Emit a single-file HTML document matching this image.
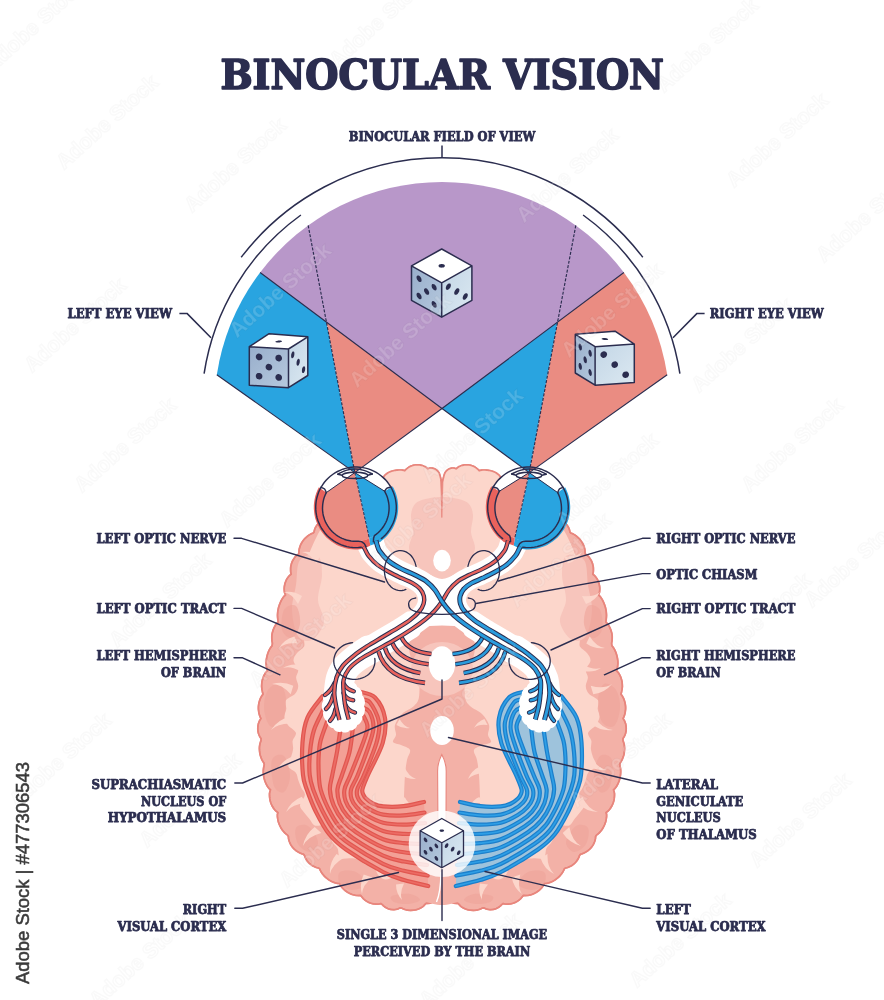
<!DOCTYPE html>
<html lang="en"><head><meta charset="utf-8"><title>Binocular Vision</title>
<style>html,body{margin:0;padding:0;background:#fff}svg{display:block;will-change:transform}</style></head>
<body>
<svg width="884" height="1000" viewBox="0 0 884 1000">
<defs>
<linearGradient id="gl" x1="0" y1="0" x2="1" y2="1"><stop offset="0" stop-color="#98aecb"/><stop offset="1" stop-color="#b6c9de"/></linearGradient>
<linearGradient id="gr" x1="0" y1="0" x2="1" y2="1"><stop offset="0" stop-color="#c3d6e6"/><stop offset="1" stop-color="#dbe8f1"/></linearGradient>
</defs>
<rect width="884" height="1000" fill="#fff"/>
<path d="M442 482 L441.7 481.4 L441.4 480.7 L441.2 480.1 L441 479.4 L440.8 478.7 L440.6 478 L440.4 477.3 L440.3 476.6 L440.1 475.9 L439.9 475.2 L439.7 474.6 L439.5 473.9 L439.2 473.3 L438.9 472.6 L438.5 472 L438.1 471.5 L437.6 470.9 L437.2 470.5 L436.6 470 L436.1 469.6 L435.5 469.2 L434.9 468.9 L434.3 468.6 L433.6 468.4 L432.9 468.2 L432.2 468.1 L431.5 468 L430.7 468 L430 468.1 L429.2 468.3 L428.4 468.6 L427.6 468.8 L427 468.1 L426.3 467.5 L425.6 467 L424.8 466.5 L424 466.2 L423.2 465.8 L422.3 465.5 L421.4 465.3 L420.5 465.1 L419.6 464.9 L418.6 464.8 L417.7 464.8 L416.7 464.8 L415.7 464.9 L414.8 465 L413.8 465.2 L412.9 465.4 L411.9 465.7 L410.9 466.1 L410 466.5 L409.1 467 L408.2 467.6 L407.3 468.3 L406.4 469 L405.6 469.8 L404.8 470.8 L403.5 470.3 L402.3 470.1 L401.2 470 L400 470 L398.9 470 L397.7 470.1 L396.6 470.2 L395.6 470.3 L394.5 470.5 L393.5 470.7 L392.5 471 L391.5 471.3 L390.5 471.6 L389.5 472.1 L388.4 472.6 L387.4 473.2 L386.3 474 L385.3 474.8 L384.3 475.9 L383.5 477.4 L381.9 477.2 L380.1 477.3 L378.4 477.5 L376.6 478 L374.8 478.6 L372.9 479.4 L371.1 480.4 L369.3 481.5 L367.6 482.9 L366 484.4 L364.5 486.2 L363.2 488.2 L361.6 489.8 L359.1 490.2 L356.9 490.9 L354.8 491.7 L352.9 492.7 L351.1 493.9 L349.5 495.2 L347.9 496.7 L346.5 498.3 L345.3 500.2 L344.1 502.2 L343.3 504.5 L341.2 505.3 L338.9 506.1 L336.9 507.1 L335.2 508.3 L333.6 509.6 L332.3 511.1 L331.1 512.6 L330.1 514.3 L329.3 515.9 L328.7 517.7 L327.9 519.2 L326.1 519.4 L324.7 519.9 L323.4 520.3 L322.3 520.9 L321.3 521.4 L320.3 522 L319.4 522.7 L318.6 523.4 L317.9 524.1 L317.1 524.9 L316.5 525.8 L315.9 526.8 L315.3 527.8 L314.8 529 L314.4 530.3 L314.1 531.9 L313.3 533 L311.9 533.5 L310.6 534.1 L309.3 534.9 L308.1 535.7 L307 536.6 L305.9 537.6 L304.8 538.6 L303.8 539.7 L302.9 540.9 L302.1 542.2 L301.3 543.5 L300.6 544.8 L300.1 546.3 L299.6 547.8 L299.2 549.3 L299 550.9 L298.9 552.6 L298.6 554.1 L297 555.1 L295.7 556.3 L294.6 557.6 L293.7 559 L292.8 560.4 L292.1 561.9 L291.5 563.5 L291.1 565.1 L290.7 566.8 L290.6 568.6 L290.6 570.4 L290.7 572.3 L291.2 574.2 L289.5 575.5 L288.3 576.9 L287.2 578.4 L286.3 580 L285.6 581.7 L285 583.4 L284.6 585.1 L284.3 587 L284.2 588.8 L284.3 590.8 L284.6 592.8 L285.5 595 L283.8 596.5 L282.6 598.2 L281.6 599.9 L280.7 601.7 L279.9 603.5 L279.2 605.4 L278.6 607.3 L278.2 609.2 L277.8 611.2 L277.6 613.3 L277.5 615.4 L277.6 617.5 L277.8 619.7 L278.2 622 L276.5 623.7 L275.2 625.6 L274.1 627.6 L273.3 629.6 L272.6 631.7 L272.1 633.8 L271.8 636 L271.8 638.3 L271.9 640.7 L272.4 643.1 L272.2 645.5 L270.7 647.5 L269.4 649.6 L268.4 651.8 L267.6 654 L267 656.2 L266.5 658.5 L266.2 660.9 L266.1 663.3 L266.3 665.7 L266.6 668.1 L267.5 670.7 L265.6 672.7 L264.3 674.9 L263.2 677.2 L262.5 679.5 L261.9 681.9 L261.7 684.3 L261.6 686.7 L261.9 689.2 L262.4 691.7 L263 694.2 L261.5 696.3 L260.4 698.4 L259.6 700.6 L259 702.7 L258.6 704.9 L258.4 706.9 L258.4 709 L258.6 711 L258.9 713 L259.4 714.9 L260.1 716.8 L260.9 718.6 L259.7 720.4 L258.9 722.3 L258.3 724.1 L258 725.9 L257.8 727.7 L257.8 729.5 L258 731.3 L258.4 733.2 L259 735 L259.9 736.9 L261.1 738.7 L261 740.6 L260.3 742.6 L259.8 744.5 L259.5 746.5 L259.4 748.4 L259.5 750.4 L259.7 752.3 L260 754.2 L260.5 756 L261.1 757.8 L261.8 759.6 L262.8 761.3 L263.9 763 L264.3 764.8 L263.8 766.7 L263.5 768.5 L263.3 770.4 L263.3 772.2 L263.4 773.9 L263.6 775.7 L263.9 777.4 L264.3 779.1 L264.8 780.7 L265.4 782.3 L266.1 783.9 L266.9 785.5 L267.9 787 L269 788.5 L270.5 789.8 L269.8 791.8 L269.5 793.6 L269.5 795.4 L269.6 797.2 L269.8 798.9 L270.1 800.6 L270.6 802.3 L271.2 803.9 L271.9 805.5 L272.8 807 L273.7 808.5 L274.9 810 L276.2 811.3 L277.9 812.5 L277.4 814.5 L277.4 816.4 L277.6 818.2 L277.9 819.9 L278.3 821.7 L278.9 823.4 L279.5 825 L280.3 826.7 L281.2 828.3 L282.1 829.8 L283.3 831.2 L284.5 832.6 L285.9 833.9 L287.5 835.1 L288.4 836.5 L288.5 838.4 L288.9 840.3 L289.5 842 L290.2 843.6 L291 845.1 L292 846.6 L293.1 847.9 L294.3 849.2 L295.6 850.3 L297 851.3 L298.5 852.2 L300 853 L301.7 853.7 L303.5 854.2 L304.5 855.6 L305.1 857.4 L306 859 L306.9 860.5 L307.9 861.8 L309 863 L310.3 864.2 L311.6 865.2 L313.1 866.1 L314.6 866.8 L316.3 867.5 L318.2 867.9 L319.6 868.7 L320.3 870.4 L321.2 872 L322.1 873.4 L323.2 874.7 L324.2 876 L325.4 877.1 L326.6 878.2 L327.9 879.2 L329.2 880.1 L330.5 880.9 L331.9 881.6 L333.4 882.2 L334.8 882.8 L336.3 883.2 L337.9 883.5 L339.7 883.5 L340.4 885.1 L341.2 886.4 L342.2 887.7 L343.2 888.8 L344.3 889.8 L345.5 890.8 L346.7 891.7 L348 892.5 L349.3 893.2 L350.7 893.9 L352.2 894.5 L353.7 894.9 L355.3 895.3 L357 895.5 L358.7 895.6 L360.5 895.4 L361.7 896.8 L362.8 898.1 L364 899.3 L365.3 900.4 L366.7 901.3 L368.1 902.1 L369.5 902.7 L371 903.3 L372.6 903.7 L374.1 904 L375.8 904.1 L377.4 904.2 L379.1 904 L381 903.6 L382.3 904.7 L383.5 905.9 L384.9 907 L386.3 907.8 L387.7 908.5 L389.2 909.1 L390.7 909.4 L392.3 909.6 L393.9 909.7 L395.4 909.5 L397 909.2 L398.5 908.7 L400.1 907.8 L401.5 908.1 L403 908.8 L404.5 909.4 L406 909.8 L407.5 910.1 L409.1 910.3 L410.6 910.4 L412.1 910.3 L413.6 910.2 L415 910 L416.4 909.7 L417.7 909.3 L419 908.8 L420.2 908.3 L421.4 907.6 L422.5 906.9 L423.5 906.1 L424.4 905.1 L425.3 904.1 L426.2 903.3 L427.6 903.4 L428.9 903.3 L430.2 903.1 L431.3 902.7 L432.4 902.2 L433.4 901.7 L434.3 901.1 L435.1 900.5 L435.9 899.8 L436.6 899.2 L437.2 898.5 L437.8 897.7 L438.3 897 L438.7 896.3 L439 895.6 L439.3 894.8 L439.6 894.1 L439.8 893.4 L440 892.7 L440.2 892 L440.5 891.3 L440.7 890.6 L441 890 L441.3 889.3 L441.6 888.6 L442 888 L442.4 888.6 L442.7 889.3 L443 890 L443.3 890.6 L443.5 891.3 L443.8 892 L444 892.7 L444.2 893.4 L444.4 894.1 L444.7 894.8 L445 895.6 L445.3 896.3 L445.7 897 L446.2 897.7 L446.8 898.5 L447.4 899.2 L448.1 899.8 L448.9 900.5 L449.7 901.1 L450.6 901.7 L451.6 902.2 L452.7 902.7 L453.8 903.1 L455.1 903.3 L456.4 903.4 L457.8 903.3 L458.7 904.1 L459.6 905.1 L460.5 906.1 L461.5 906.9 L462.6 907.6 L463.8 908.3 L465 908.8 L466.3 909.3 L467.6 909.7 L469 910 L470.4 910.2 L471.9 910.3 L473.4 910.4 L474.9 910.3 L476.5 910.1 L478 909.8 L479.5 909.4 L481 908.8 L482.5 908.1 L483.9 907.8 L485.5 908.7 L487 909.2 L488.6 909.5 L490.1 909.7 L491.7 909.6 L493.3 909.4 L494.8 909.1 L496.3 908.5 L497.7 907.8 L499.1 907 L500.5 905.9 L501.7 904.7 L503 903.6 L504.9 904 L506.6 904.2 L508.2 904.1 L509.9 904 L511.4 903.7 L513 903.3 L514.5 902.7 L515.9 902.1 L517.3 901.3 L518.7 900.4 L520 899.3 L521.2 898.1 L522.3 896.8 L523.5 895.4 L525.3 895.6 L527 895.5 L528.7 895.3 L530.3 894.9 L531.8 894.5 L533.3 893.9 L534.7 893.2 L536 892.5 L537.3 891.7 L538.5 890.8 L539.7 889.8 L540.8 888.8 L541.8 887.7 L542.8 886.4 L543.6 885.1 L544.3 883.5 L546.1 883.5 L547.7 883.2 L549.2 882.8 L550.6 882.2 L552.1 881.6 L553.5 880.9 L554.8 880.1 L556.1 879.2 L557.4 878.2 L558.6 877.1 L559.8 876 L560.8 874.7 L561.9 873.4 L562.8 872 L563.7 870.4 L564.4 868.7 L565.8 867.9 L567.7 867.5 L569.4 866.8 L570.9 866.1 L572.4 865.2 L573.7 864.2 L575 863 L576.1 861.8 L577.1 860.5 L578 859 L578.9 857.4 L579.5 855.6 L580.5 854.2 L582.3 853.7 L584 853 L585.5 852.2 L587 851.3 L588.4 850.3 L589.7 849.2 L590.9 847.9 L592 846.6 L593 845.1 L593.8 843.6 L594.5 842 L595.1 840.3 L595.5 838.4 L595.6 836.5 L596.5 835.1 L598.1 833.9 L599.5 832.6 L600.7 831.2 L601.9 829.8 L602.8 828.3 L603.7 826.7 L604.5 825 L605.1 823.4 L605.7 821.7 L606.1 819.9 L606.4 818.2 L606.6 816.4 L606.6 814.5 L606.1 812.5 L607.8 811.3 L609.1 810 L610.3 808.5 L611.2 807 L612.1 805.5 L612.8 803.9 L613.4 802.3 L613.9 800.6 L614.2 798.9 L614.4 797.2 L614.5 795.4 L614.5 793.6 L614.2 791.8 L613.5 789.8 L615 788.5 L616.1 787 L617.1 785.5 L617.9 783.9 L618.6 782.3 L619.2 780.7 L619.7 779.1 L620.1 777.4 L620.4 775.7 L620.6 773.9 L620.7 772.2 L620.7 770.4 L620.5 768.5 L620.2 766.7 L619.7 764.8 L620.1 763 L621.2 761.3 L622.2 759.6 L622.9 757.8 L623.5 756 L624 754.2 L624.3 752.3 L624.5 750.4 L624.6 748.4 L624.5 746.5 L624.2 744.5 L623.7 742.6 L623 740.6 L622.9 738.7 L624.1 736.9 L625 735 L625.6 733.2 L626 731.3 L626.2 729.5 L626.2 727.7 L626 725.9 L625.7 724.1 L625.1 722.3 L624.3 720.4 L623.1 718.6 L623.9 716.8 L624.6 714.9 L625.1 713 L625.4 711 L625.6 709 L625.6 706.9 L625.4 704.9 L625 702.7 L624.4 700.6 L623.6 698.4 L622.5 696.3 L621 694.2 L621.6 691.7 L622.1 689.2 L622.4 686.7 L622.3 684.3 L622.1 681.9 L621.5 679.5 L620.8 677.2 L619.7 674.9 L618.4 672.7 L616.5 670.7 L617.4 668.1 L617.7 665.7 L617.9 663.3 L617.8 660.9 L617.5 658.5 L617 656.2 L616.4 654 L615.6 651.8 L614.6 649.6 L613.3 647.5 L611.8 645.5 L611.6 643.1 L612.1 640.7 L612.2 638.3 L612.2 636 L611.9 633.8 L611.4 631.7 L610.7 629.6 L609.9 627.6 L608.8 625.6 L607.5 623.7 L605.8 622 L606.2 619.7 L606.4 617.5 L606.5 615.4 L606.4 613.3 L606.2 611.2 L605.8 609.2 L605.4 607.3 L604.8 605.4 L604.1 603.5 L603.3 601.7 L602.4 599.9 L601.4 598.2 L600.2 596.5 L598.5 595 L599.4 592.8 L599.7 590.8 L599.8 588.8 L599.7 587 L599.4 585.1 L599 583.4 L598.4 581.7 L597.7 580 L596.8 578.4 L595.7 576.9 L594.5 575.5 L592.8 574.2 L593.3 572.3 L593.4 570.4 L593.4 568.6 L593.3 566.8 L592.9 565.1 L592.5 563.5 L591.9 561.9 L591.2 560.4 L590.3 559 L589.4 557.6 L588.3 556.3 L587 555.1 L585.4 554.1 L585.1 552.6 L585 550.9 L584.8 549.3 L584.4 547.8 L583.9 546.3 L583.4 544.8 L582.7 543.5 L581.9 542.2 L581.1 540.9 L580.2 539.7 L579.2 538.6 L578.1 537.6 L577 536.6 L575.9 535.7 L574.7 534.9 L573.4 534.1 L572.1 533.5 L570.7 533 L569.9 531.9 L569.6 530.3 L569.2 529 L568.7 527.8 L568.1 526.8 L567.5 525.8 L566.9 524.9 L566.1 524.1 L565.4 523.4 L564.6 522.7 L563.7 522 L562.7 521.4 L561.7 520.9 L560.6 520.3 L559.3 519.9 L557.9 519.4 L556.1 519.2 L555.3 517.7 L554.7 515.9 L553.9 514.3 L552.9 512.6 L551.7 511.1 L550.4 509.6 L548.8 508.3 L547.1 507.1 L545.1 506.1 L542.8 505.3 L540.7 504.5 L539.9 502.2 L538.7 500.2 L537.5 498.3 L536.1 496.7 L534.5 495.2 L532.9 493.9 L531.1 492.7 L529.2 491.7 L527.1 490.9 L524.9 490.2 L522.4 489.8 L520.8 488.2 L519.5 486.2 L518 484.4 L516.4 482.9 L514.7 481.5 L512.9 480.4 L511.1 479.4 L509.2 478.6 L507.4 478 L505.6 477.5 L503.9 477.3 L502.1 477.2 L500.5 477.4 L499.7 475.9 L498.7 474.8 L497.7 474 L496.6 473.2 L495.6 472.6 L494.5 472.1 L493.5 471.6 L492.5 471.3 L491.5 471 L490.5 470.7 L489.5 470.5 L488.4 470.3 L487.4 470.2 L486.3 470.1 L485.1 470 L484 470 L482.8 470 L481.7 470.1 L480.5 470.3 L479.2 470.8 L478.4 469.8 L477.6 469 L476.7 468.3 L475.8 467.6 L474.9 467 L474 466.5 L473.1 466.1 L472.1 465.7 L471.1 465.4 L470.2 465.2 L469.2 465 L468.3 464.9 L467.3 464.8 L466.3 464.8 L465.4 464.8 L464.4 464.9 L463.5 465.1 L462.6 465.3 L461.7 465.5 L460.8 465.8 L460 466.2 L459.2 466.5 L458.4 467 L457.7 467.5 L457 468.1 L456.4 468.8 L455.6 468.6 L454.8 468.3 L454 468.1 L453.3 468 L452.5 468 L451.8 468.1 L451.1 468.2 L450.4 468.4 L449.7 468.6 L449.1 468.9 L448.5 469.2 L447.9 469.6 L447.4 470 L446.8 470.5 L446.4 470.9 L445.9 471.5 L445.5 472 L445.1 472.6 L444.8 473.3 L444.5 473.9 L444.3 474.6 L444.1 475.2 L443.9 475.9 L443.7 476.6 L443.6 477.3 L443.4 478 L443.2 478.7 L443 479.4 L442.8 480.1 L442.6 480.7 L442.3 481.4Z" fill="#f3b1a7" stroke="#e8867d" stroke-width="1.5" stroke-linejoin="round"/>
<clipPath id="bc"><path d="M442 482 L441.7 481.4 L441.4 480.7 L441.2 480.1 L441 479.4 L440.8 478.7 L440.6 478 L440.4 477.3 L440.3 476.6 L440.1 475.9 L439.9 475.2 L439.7 474.6 L439.5 473.9 L439.2 473.3 L438.9 472.6 L438.5 472 L438.1 471.5 L437.6 470.9 L437.2 470.5 L436.6 470 L436.1 469.6 L435.5 469.2 L434.9 468.9 L434.3 468.6 L433.6 468.4 L432.9 468.2 L432.2 468.1 L431.5 468 L430.7 468 L430 468.1 L429.2 468.3 L428.4 468.6 L427.6 468.8 L427 468.1 L426.3 467.5 L425.6 467 L424.8 466.5 L424 466.2 L423.2 465.8 L422.3 465.5 L421.4 465.3 L420.5 465.1 L419.6 464.9 L418.6 464.8 L417.7 464.8 L416.7 464.8 L415.7 464.9 L414.8 465 L413.8 465.2 L412.9 465.4 L411.9 465.7 L410.9 466.1 L410 466.5 L409.1 467 L408.2 467.6 L407.3 468.3 L406.4 469 L405.6 469.8 L404.8 470.8 L403.5 470.3 L402.3 470.1 L401.2 470 L400 470 L398.9 470 L397.7 470.1 L396.6 470.2 L395.6 470.3 L394.5 470.5 L393.5 470.7 L392.5 471 L391.5 471.3 L390.5 471.6 L389.5 472.1 L388.4 472.6 L387.4 473.2 L386.3 474 L385.3 474.8 L384.3 475.9 L383.5 477.4 L381.9 477.2 L380.1 477.3 L378.4 477.5 L376.6 478 L374.8 478.6 L372.9 479.4 L371.1 480.4 L369.3 481.5 L367.6 482.9 L366 484.4 L364.5 486.2 L363.2 488.2 L361.6 489.8 L359.1 490.2 L356.9 490.9 L354.8 491.7 L352.9 492.7 L351.1 493.9 L349.5 495.2 L347.9 496.7 L346.5 498.3 L345.3 500.2 L344.1 502.2 L343.3 504.5 L341.2 505.3 L338.9 506.1 L336.9 507.1 L335.2 508.3 L333.6 509.6 L332.3 511.1 L331.1 512.6 L330.1 514.3 L329.3 515.9 L328.7 517.7 L327.9 519.2 L326.1 519.4 L324.7 519.9 L323.4 520.3 L322.3 520.9 L321.3 521.4 L320.3 522 L319.4 522.7 L318.6 523.4 L317.9 524.1 L317.1 524.9 L316.5 525.8 L315.9 526.8 L315.3 527.8 L314.8 529 L314.4 530.3 L314.1 531.9 L313.3 533 L311.9 533.5 L310.6 534.1 L309.3 534.9 L308.1 535.7 L307 536.6 L305.9 537.6 L304.8 538.6 L303.8 539.7 L302.9 540.9 L302.1 542.2 L301.3 543.5 L300.6 544.8 L300.1 546.3 L299.6 547.8 L299.2 549.3 L299 550.9 L298.9 552.6 L298.6 554.1 L297 555.1 L295.7 556.3 L294.6 557.6 L293.7 559 L292.8 560.4 L292.1 561.9 L291.5 563.5 L291.1 565.1 L290.7 566.8 L290.6 568.6 L290.6 570.4 L290.7 572.3 L291.2 574.2 L289.5 575.5 L288.3 576.9 L287.2 578.4 L286.3 580 L285.6 581.7 L285 583.4 L284.6 585.1 L284.3 587 L284.2 588.8 L284.3 590.8 L284.6 592.8 L285.5 595 L283.8 596.5 L282.6 598.2 L281.6 599.9 L280.7 601.7 L279.9 603.5 L279.2 605.4 L278.6 607.3 L278.2 609.2 L277.8 611.2 L277.6 613.3 L277.5 615.4 L277.6 617.5 L277.8 619.7 L278.2 622 L276.5 623.7 L275.2 625.6 L274.1 627.6 L273.3 629.6 L272.6 631.7 L272.1 633.8 L271.8 636 L271.8 638.3 L271.9 640.7 L272.4 643.1 L272.2 645.5 L270.7 647.5 L269.4 649.6 L268.4 651.8 L267.6 654 L267 656.2 L266.5 658.5 L266.2 660.9 L266.1 663.3 L266.3 665.7 L266.6 668.1 L267.5 670.7 L265.6 672.7 L264.3 674.9 L263.2 677.2 L262.5 679.5 L261.9 681.9 L261.7 684.3 L261.6 686.7 L261.9 689.2 L262.4 691.7 L263 694.2 L261.5 696.3 L260.4 698.4 L259.6 700.6 L259 702.7 L258.6 704.9 L258.4 706.9 L258.4 709 L258.6 711 L258.9 713 L259.4 714.9 L260.1 716.8 L260.9 718.6 L259.7 720.4 L258.9 722.3 L258.3 724.1 L258 725.9 L257.8 727.7 L257.8 729.5 L258 731.3 L258.4 733.2 L259 735 L259.9 736.9 L261.1 738.7 L261 740.6 L260.3 742.6 L259.8 744.5 L259.5 746.5 L259.4 748.4 L259.5 750.4 L259.7 752.3 L260 754.2 L260.5 756 L261.1 757.8 L261.8 759.6 L262.8 761.3 L263.9 763 L264.3 764.8 L263.8 766.7 L263.5 768.5 L263.3 770.4 L263.3 772.2 L263.4 773.9 L263.6 775.7 L263.9 777.4 L264.3 779.1 L264.8 780.7 L265.4 782.3 L266.1 783.9 L266.9 785.5 L267.9 787 L269 788.5 L270.5 789.8 L269.8 791.8 L269.5 793.6 L269.5 795.4 L269.6 797.2 L269.8 798.9 L270.1 800.6 L270.6 802.3 L271.2 803.9 L271.9 805.5 L272.8 807 L273.7 808.5 L274.9 810 L276.2 811.3 L277.9 812.5 L277.4 814.5 L277.4 816.4 L277.6 818.2 L277.9 819.9 L278.3 821.7 L278.9 823.4 L279.5 825 L280.3 826.7 L281.2 828.3 L282.1 829.8 L283.3 831.2 L284.5 832.6 L285.9 833.9 L287.5 835.1 L288.4 836.5 L288.5 838.4 L288.9 840.3 L289.5 842 L290.2 843.6 L291 845.1 L292 846.6 L293.1 847.9 L294.3 849.2 L295.6 850.3 L297 851.3 L298.5 852.2 L300 853 L301.7 853.7 L303.5 854.2 L304.5 855.6 L305.1 857.4 L306 859 L306.9 860.5 L307.9 861.8 L309 863 L310.3 864.2 L311.6 865.2 L313.1 866.1 L314.6 866.8 L316.3 867.5 L318.2 867.9 L319.6 868.7 L320.3 870.4 L321.2 872 L322.1 873.4 L323.2 874.7 L324.2 876 L325.4 877.1 L326.6 878.2 L327.9 879.2 L329.2 880.1 L330.5 880.9 L331.9 881.6 L333.4 882.2 L334.8 882.8 L336.3 883.2 L337.9 883.5 L339.7 883.5 L340.4 885.1 L341.2 886.4 L342.2 887.7 L343.2 888.8 L344.3 889.8 L345.5 890.8 L346.7 891.7 L348 892.5 L349.3 893.2 L350.7 893.9 L352.2 894.5 L353.7 894.9 L355.3 895.3 L357 895.5 L358.7 895.6 L360.5 895.4 L361.7 896.8 L362.8 898.1 L364 899.3 L365.3 900.4 L366.7 901.3 L368.1 902.1 L369.5 902.7 L371 903.3 L372.6 903.7 L374.1 904 L375.8 904.1 L377.4 904.2 L379.1 904 L381 903.6 L382.3 904.7 L383.5 905.9 L384.9 907 L386.3 907.8 L387.7 908.5 L389.2 909.1 L390.7 909.4 L392.3 909.6 L393.9 909.7 L395.4 909.5 L397 909.2 L398.5 908.7 L400.1 907.8 L401.5 908.1 L403 908.8 L404.5 909.4 L406 909.8 L407.5 910.1 L409.1 910.3 L410.6 910.4 L412.1 910.3 L413.6 910.2 L415 910 L416.4 909.7 L417.7 909.3 L419 908.8 L420.2 908.3 L421.4 907.6 L422.5 906.9 L423.5 906.1 L424.4 905.1 L425.3 904.1 L426.2 903.3 L427.6 903.4 L428.9 903.3 L430.2 903.1 L431.3 902.7 L432.4 902.2 L433.4 901.7 L434.3 901.1 L435.1 900.5 L435.9 899.8 L436.6 899.2 L437.2 898.5 L437.8 897.7 L438.3 897 L438.7 896.3 L439 895.6 L439.3 894.8 L439.6 894.1 L439.8 893.4 L440 892.7 L440.2 892 L440.5 891.3 L440.7 890.6 L441 890 L441.3 889.3 L441.6 888.6 L442 888 L442.4 888.6 L442.7 889.3 L443 890 L443.3 890.6 L443.5 891.3 L443.8 892 L444 892.7 L444.2 893.4 L444.4 894.1 L444.7 894.8 L445 895.6 L445.3 896.3 L445.7 897 L446.2 897.7 L446.8 898.5 L447.4 899.2 L448.1 899.8 L448.9 900.5 L449.7 901.1 L450.6 901.7 L451.6 902.2 L452.7 902.7 L453.8 903.1 L455.1 903.3 L456.4 903.4 L457.8 903.3 L458.7 904.1 L459.6 905.1 L460.5 906.1 L461.5 906.9 L462.6 907.6 L463.8 908.3 L465 908.8 L466.3 909.3 L467.6 909.7 L469 910 L470.4 910.2 L471.9 910.3 L473.4 910.4 L474.9 910.3 L476.5 910.1 L478 909.8 L479.5 909.4 L481 908.8 L482.5 908.1 L483.9 907.8 L485.5 908.7 L487 909.2 L488.6 909.5 L490.1 909.7 L491.7 909.6 L493.3 909.4 L494.8 909.1 L496.3 908.5 L497.7 907.8 L499.1 907 L500.5 905.9 L501.7 904.7 L503 903.6 L504.9 904 L506.6 904.2 L508.2 904.1 L509.9 904 L511.4 903.7 L513 903.3 L514.5 902.7 L515.9 902.1 L517.3 901.3 L518.7 900.4 L520 899.3 L521.2 898.1 L522.3 896.8 L523.5 895.4 L525.3 895.6 L527 895.5 L528.7 895.3 L530.3 894.9 L531.8 894.5 L533.3 893.9 L534.7 893.2 L536 892.5 L537.3 891.7 L538.5 890.8 L539.7 889.8 L540.8 888.8 L541.8 887.7 L542.8 886.4 L543.6 885.1 L544.3 883.5 L546.1 883.5 L547.7 883.2 L549.2 882.8 L550.6 882.2 L552.1 881.6 L553.5 880.9 L554.8 880.1 L556.1 879.2 L557.4 878.2 L558.6 877.1 L559.8 876 L560.8 874.7 L561.9 873.4 L562.8 872 L563.7 870.4 L564.4 868.7 L565.8 867.9 L567.7 867.5 L569.4 866.8 L570.9 866.1 L572.4 865.2 L573.7 864.2 L575 863 L576.1 861.8 L577.1 860.5 L578 859 L578.9 857.4 L579.5 855.6 L580.5 854.2 L582.3 853.7 L584 853 L585.5 852.2 L587 851.3 L588.4 850.3 L589.7 849.2 L590.9 847.9 L592 846.6 L593 845.1 L593.8 843.6 L594.5 842 L595.1 840.3 L595.5 838.4 L595.6 836.5 L596.5 835.1 L598.1 833.9 L599.5 832.6 L600.7 831.2 L601.9 829.8 L602.8 828.3 L603.7 826.7 L604.5 825 L605.1 823.4 L605.7 821.7 L606.1 819.9 L606.4 818.2 L606.6 816.4 L606.6 814.5 L606.1 812.5 L607.8 811.3 L609.1 810 L610.3 808.5 L611.2 807 L612.1 805.5 L612.8 803.9 L613.4 802.3 L613.9 800.6 L614.2 798.9 L614.4 797.2 L614.5 795.4 L614.5 793.6 L614.2 791.8 L613.5 789.8 L615 788.5 L616.1 787 L617.1 785.5 L617.9 783.9 L618.6 782.3 L619.2 780.7 L619.7 779.1 L620.1 777.4 L620.4 775.7 L620.6 773.9 L620.7 772.2 L620.7 770.4 L620.5 768.5 L620.2 766.7 L619.7 764.8 L620.1 763 L621.2 761.3 L622.2 759.6 L622.9 757.8 L623.5 756 L624 754.2 L624.3 752.3 L624.5 750.4 L624.6 748.4 L624.5 746.5 L624.2 744.5 L623.7 742.6 L623 740.6 L622.9 738.7 L624.1 736.9 L625 735 L625.6 733.2 L626 731.3 L626.2 729.5 L626.2 727.7 L626 725.9 L625.7 724.1 L625.1 722.3 L624.3 720.4 L623.1 718.6 L623.9 716.8 L624.6 714.9 L625.1 713 L625.4 711 L625.6 709 L625.6 706.9 L625.4 704.9 L625 702.7 L624.4 700.6 L623.6 698.4 L622.5 696.3 L621 694.2 L621.6 691.7 L622.1 689.2 L622.4 686.7 L622.3 684.3 L622.1 681.9 L621.5 679.5 L620.8 677.2 L619.7 674.9 L618.4 672.7 L616.5 670.7 L617.4 668.1 L617.7 665.7 L617.9 663.3 L617.8 660.9 L617.5 658.5 L617 656.2 L616.4 654 L615.6 651.8 L614.6 649.6 L613.3 647.5 L611.8 645.5 L611.6 643.1 L612.1 640.7 L612.2 638.3 L612.2 636 L611.9 633.8 L611.4 631.7 L610.7 629.6 L609.9 627.6 L608.8 625.6 L607.5 623.7 L605.8 622 L606.2 619.7 L606.4 617.5 L606.5 615.4 L606.4 613.3 L606.2 611.2 L605.8 609.2 L605.4 607.3 L604.8 605.4 L604.1 603.5 L603.3 601.7 L602.4 599.9 L601.4 598.2 L600.2 596.5 L598.5 595 L599.4 592.8 L599.7 590.8 L599.8 588.8 L599.7 587 L599.4 585.1 L599 583.4 L598.4 581.7 L597.7 580 L596.8 578.4 L595.7 576.9 L594.5 575.5 L592.8 574.2 L593.3 572.3 L593.4 570.4 L593.4 568.6 L593.3 566.8 L592.9 565.1 L592.5 563.5 L591.9 561.9 L591.2 560.4 L590.3 559 L589.4 557.6 L588.3 556.3 L587 555.1 L585.4 554.1 L585.1 552.6 L585 550.9 L584.8 549.3 L584.4 547.8 L583.9 546.3 L583.4 544.8 L582.7 543.5 L581.9 542.2 L581.1 540.9 L580.2 539.7 L579.2 538.6 L578.1 537.6 L577 536.6 L575.9 535.7 L574.7 534.9 L573.4 534.1 L572.1 533.5 L570.7 533 L569.9 531.9 L569.6 530.3 L569.2 529 L568.7 527.8 L568.1 526.8 L567.5 525.8 L566.9 524.9 L566.1 524.1 L565.4 523.4 L564.6 522.7 L563.7 522 L562.7 521.4 L561.7 520.9 L560.6 520.3 L559.3 519.9 L557.9 519.4 L556.1 519.2 L555.3 517.7 L554.7 515.9 L553.9 514.3 L552.9 512.6 L551.7 511.1 L550.4 509.6 L548.8 508.3 L547.1 507.1 L545.1 506.1 L542.8 505.3 L540.7 504.5 L539.9 502.2 L538.7 500.2 L537.5 498.3 L536.1 496.7 L534.5 495.2 L532.9 493.9 L531.1 492.7 L529.2 491.7 L527.1 490.9 L524.9 490.2 L522.4 489.8 L520.8 488.2 L519.5 486.2 L518 484.4 L516.4 482.9 L514.7 481.5 L512.9 480.4 L511.1 479.4 L509.2 478.6 L507.4 478 L505.6 477.5 L503.9 477.3 L502.1 477.2 L500.5 477.4 L499.7 475.9 L498.7 474.8 L497.7 474 L496.6 473.2 L495.6 472.6 L494.5 472.1 L493.5 471.6 L492.5 471.3 L491.5 471 L490.5 470.7 L489.5 470.5 L488.4 470.3 L487.4 470.2 L486.3 470.1 L485.1 470 L484 470 L482.8 470 L481.7 470.1 L480.5 470.3 L479.2 470.8 L478.4 469.8 L477.6 469 L476.7 468.3 L475.8 467.6 L474.9 467 L474 466.5 L473.1 466.1 L472.1 465.7 L471.1 465.4 L470.2 465.2 L469.2 465 L468.3 464.9 L467.3 464.8 L466.3 464.8 L465.4 464.8 L464.4 464.9 L463.5 465.1 L462.6 465.3 L461.7 465.5 L460.8 465.8 L460 466.2 L459.2 466.5 L458.4 467 L457.7 467.5 L457 468.1 L456.4 468.8 L455.6 468.6 L454.8 468.3 L454 468.1 L453.3 468 L452.5 468 L451.8 468.1 L451.1 468.2 L450.4 468.4 L449.7 468.6 L449.1 468.9 L448.5 469.2 L447.9 469.6 L447.4 470 L446.8 470.5 L446.4 470.9 L445.9 471.5 L445.5 472 L445.1 472.6 L444.8 473.3 L444.5 473.9 L444.3 474.6 L444.1 475.2 L443.9 475.9 L443.7 476.6 L443.6 477.3 L443.4 478 L443.2 478.7 L443 479.4 L442.8 480.1 L442.6 480.7 L442.3 481.4Z"/></clipPath>
<path d="M442 509.8C439.3 509.8 436.7 512.9 433.9 513.2C431 513.6 426.9 513.6 424.8 511.8C422.7 510.1 422.8 506.5 421 502.9C419.2 499.3 416.3 491.7 414 490.4C411.7 489.2 409.5 494.1 407.1 495.5C404.8 496.9 402.3 497.4 399.9 498.9C397.6 500.4 394.9 501.8 393.2 504.4C391.5 507 392.1 512.7 389.9 514.3C387.8 515.9 383.3 513.7 380.5 514.1C377.6 514.5 375.1 515.8 372.6 516.9C370.1 518 368.1 519.7 365.4 520.8C362.8 521.9 358.3 521.2 356.8 523.5C355.2 525.7 356.9 531.4 356 534.2C355 537.1 352.9 538.9 350.9 540.6C348.8 542.4 345.8 543.1 343.7 544.8C341.7 546.4 341.2 549.5 338.5 550.6C335.8 551.8 329.9 550.2 327.4 551.6C324.8 553.1 323.8 556.6 323.2 559.5C322.6 562.4 324 566.1 323.7 569C323.4 571.9 321.2 573.8 321.3 576.7C321.5 579.5 325.2 583.5 324.7 586.1C324.3 588.8 320.8 590.4 318.5 592.4C316.1 594.5 312.2 596.3 310.6 598.6C309 600.9 310.2 604 309 606.5C307.7 608.9 303.5 610.6 303.1 613.3C302.8 616 305.7 619.5 306.7 622.5C307.8 625.5 309.8 628.7 309.4 631.4C309 634 305.2 635.9 304.3 638.4C303.4 641 305.3 644.1 304.1 646.6C302.8 649.1 298.6 650.8 296.8 653.2C295.1 655.5 293.3 657.9 293.5 660.7C293.8 663.5 297.8 667.1 298.2 669.9C298.6 672.7 296.1 674.9 296.1 677.6C296.1 680.4 298.4 683.5 298.2 686.2C298.1 688.9 297.2 691.3 295.1 693.7C293 696.1 287.2 698 285.7 700.5C284.3 703 286.5 706.1 286.3 708.8C286.1 711.6 284.2 714.3 284.5 717C284.8 719.7 286.2 722.5 288.1 725.2C290 727.8 295.2 730.2 295.9 732.8C296.7 735.4 293.1 738.2 292.6 740.9C292.2 743.6 293.4 746.1 293.1 748.8C292.9 751.6 291.9 754.4 291 757.3C290.1 760.1 286.9 763.5 287.7 766.1C288.5 768.7 294.1 770.3 295.8 772.7C297.6 775.1 297.4 777.8 298.3 780.3C299.2 782.8 300.2 785.3 301.3 787.7C302.4 790.2 305.1 791.9 304.9 794.9C304.7 797.8 300.1 802.5 300 805.4C299.9 808.3 302.5 810.2 304.1 812.5C305.7 814.8 307.7 816.8 309.5 819C311.3 821.1 312 824.3 314.7 825.4C317.3 826.5 323.1 824.3 325.5 825.6C327.9 826.9 328 830.7 329.1 833.5C330.2 836.2 330.9 839.5 332.3 841.9C333.7 844.4 336.2 845.5 337.5 848.2C338.8 850.8 338 856.2 340.1 857.9C342.2 859.6 347 858 350.1 858.3C353.2 858.6 356.4 858.5 358.9 859.5C361.4 860.6 362.7 863.5 365.1 864.5C367.6 865.5 371.3 863.8 373.4 865.6C375.6 867.3 376.1 872.6 378.1 874.9C380 877.2 382.4 879 385.1 879.4C387.8 879.8 391.4 877.5 394.2 877.5C397 877.6 399.6 880.3 402 879.6C404.5 878.9 407.3 874.7 408.9 873.4C410.6 872.1 409.6 872.6 411.8 871.9C414 871.3 419.5 870.8 422.1 869.6C424.8 868.3 425.4 865.3 427.6 864.6C429.7 863.9 432.9 866.1 435.2 865.4C437.5 864.7 440.3 861.3 441.5 860.5C442.7 859.7 441.3 859.7 442.5 860.5C443.7 861.3 446.5 864.7 448.8 865.4C451.1 866.1 454.3 863.9 456.4 864.6C458.6 865.3 459.2 868.3 461.9 869.6C464.5 870.8 470 871.3 472.2 871.9C474.4 872.6 473.4 872.1 475.1 873.4C476.7 874.7 479.5 878.9 482 879.6C484.4 880.3 487 877.6 489.8 877.5C492.6 877.5 496.2 879.8 498.9 879.4C501.6 879 504 877.2 505.9 874.9C507.9 872.6 508.4 867.3 510.6 865.6C512.7 863.8 516.4 865.5 518.9 864.5C521.3 863.5 522.6 860.6 525.1 859.5C527.6 858.5 530.8 858.6 533.9 858.3C537 858 541.8 859.6 543.9 857.9C546 856.2 545.2 850.8 546.5 848.2C547.8 845.5 550.3 844.4 551.7 841.9C553.1 839.5 553.8 836.2 554.9 833.5C556 830.7 556.1 826.9 558.5 825.6C560.9 824.3 566.7 826.5 569.3 825.4C572 824.3 572.7 821.1 574.5 819C576.3 816.8 578.3 814.8 579.9 812.5C581.5 810.2 584.1 808.3 584 805.4C583.9 802.5 579.3 797.8 579.1 794.9C578.9 791.9 581.6 790.2 582.7 787.7C583.8 785.3 584.8 782.8 585.7 780.3C586.6 777.8 586.4 775.1 588.2 772.7C589.9 770.3 595.5 768.7 596.3 766.1C597.1 763.5 593.9 760.1 593 757.3C592.1 754.4 591.1 751.6 590.9 748.8C590.6 746.1 591.8 743.6 591.4 740.9C590.9 738.2 587.3 735.4 588.1 732.8C588.8 730.2 594 727.8 595.9 725.2C597.8 722.5 599.2 719.7 599.5 717C599.8 714.3 597.9 711.6 597.7 708.8C597.5 706.1 599.7 703 598.3 700.5C596.8 698 591 696.1 588.9 693.7C586.8 691.3 585.9 688.9 585.8 686.2C585.6 683.5 587.9 680.4 587.9 677.6C587.9 674.9 585.4 672.7 585.8 669.9C586.2 667.1 590.2 663.5 590.5 660.7C590.7 657.9 588.9 655.5 587.2 653.2C585.4 650.8 581.2 649.1 579.9 646.6C578.7 644.1 580.6 641 579.7 638.4C578.8 635.9 575 634 574.6 631.4C574.2 628.7 576.2 625.5 577.3 622.5C578.3 619.5 581.2 616 580.9 613.3C580.5 610.6 576.3 608.9 575 606.5C573.8 604 575 600.9 573.4 598.6C571.8 596.3 567.9 594.5 565.5 592.4C563.2 590.4 559.7 588.8 559.3 586.1C558.8 583.5 562.5 579.5 562.7 576.7C562.8 573.8 560.6 571.9 560.3 569C560 566.1 561.4 562.4 560.8 559.5C560.2 556.6 559.2 553.1 556.6 551.6C554.1 550.2 548.2 551.8 545.5 550.6C542.8 549.5 542.3 546.4 540.3 544.8C538.2 543.1 535.2 542.4 533.1 540.6C531.1 538.9 529 537.1 528 534.2C527.1 531.4 528.8 525.7 527.2 523.5C525.7 521.2 521.2 521.9 518.6 520.8C515.9 519.7 513.9 518 511.4 516.9C508.9 515.8 506.4 514.5 503.5 514.1C500.7 513.7 496.2 515.9 494.1 514.3C491.9 512.7 492.5 507 490.8 504.4C489.1 501.8 486.4 500.4 484.1 498.9C481.7 497.4 479.2 496.9 476.9 495.5C474.5 494.1 472.3 489.2 470 490.4C467.7 491.7 464.8 499.3 463 502.9C461.2 506.5 461.3 510.1 459.2 511.8C457.1 513.6 453 513.6 450.1 513.2C447.3 512.9 444.7 509.8 442 509.8Z" fill="#fcd6cb"/>
<g clip-path="url(#bc)"><path d="M442 470C440 470 439 462.3 436 460C433 457.7 428.7 456.7 424 456C419.3 455.3 413.7 455 408 456C402.3 457 396.7 459 390 462C383.3 465 376.3 467.7 368 474C359.7 480.3 348.3 490 340 500C331.7 510 323.8 523 318 534C312.2 545 308 555.7 305 566C302 576.3 299.8 585.3 300 596C300.2 606.7 299.3 619.3 306 630C312.7 640.7 324.3 653.7 340 660C355.7 666.3 383 667.3 400 668C417 668.7 428 664 442 664C456 664 467 668.7 484 668C501 667.3 528.3 666.3 544 660C559.7 653.7 571.3 640.7 578 630C584.7 619.3 583.8 606.7 584 596C584.2 585.3 582 576.3 579 566C576 555.7 571.8 545 566 534C560.2 523 552.3 510 544 500C535.7 490 524.3 480.3 516 474C507.7 467.7 500.7 465 494 462C487.3 459 481.7 457 476 456C470.3 455 464.7 455.3 460 456C455.3 456.7 451 457.7 448 460C445 462.3 444 470 442 470Z" fill="#fcd6cb"/></g>
<path d="M442 482 L441.7 481.4 L441.4 480.7 L441.2 480.1 L441 479.4 L440.8 478.7 L440.6 478 L440.4 477.3 L440.3 476.6 L440.1 475.9 L439.9 475.2 L439.7 474.6 L439.5 473.9 L439.2 473.3 L438.9 472.6 L438.5 472 L438.1 471.5 L437.6 470.9 L437.2 470.5 L436.6 470 L436.1 469.6 L435.5 469.2 L434.9 468.9 L434.3 468.6 L433.6 468.4 L432.9 468.2 L432.2 468.1 L431.5 468 L430.7 468 L430 468.1 L429.2 468.3 L428.4 468.6 L427.6 468.8 L427 468.1 L426.3 467.5 L425.6 467 L424.8 466.5 L424 466.2 L423.2 465.8 L422.3 465.5 L421.4 465.3 L420.5 465.1 L419.6 464.9 L418.6 464.8 L417.7 464.8 L416.7 464.8 L415.7 464.9 L414.8 465 L413.8 465.2 L412.9 465.4 L411.9 465.7 L410.9 466.1 L410 466.5 L409.1 467 L408.2 467.6 L407.3 468.3 L406.4 469 L405.6 469.8 L404.8 470.8 L403.5 470.3 L402.3 470.1 L401.2 470 L400 470 L398.9 470 L397.7 470.1 L396.6 470.2 L395.6 470.3 L394.5 470.5 L393.5 470.7 L392.5 471 L391.5 471.3 L390.5 471.6 L389.5 472.1 L388.4 472.6 L387.4 473.2 L386.3 474 L385.3 474.8 L384.3 475.9 L383.5 477.4 L381.9 477.2 L380.1 477.3 L378.4 477.5 L376.6 478 L374.8 478.6 L372.9 479.4 L371.1 480.4 L369.3 481.5 L367.6 482.9 L366 484.4 L364.5 486.2 L363.2 488.2 L361.6 489.8 L359.1 490.2 L356.9 490.9 L354.8 491.7 L352.9 492.7 L351.1 493.9 L349.5 495.2 L347.9 496.7 L346.5 498.3 L345.3 500.2 L344.1 502.2 L343.3 504.5 L341.2 505.3 L338.9 506.1 L336.9 507.1 L335.2 508.3 L333.6 509.6 L332.3 511.1 L331.1 512.6 L330.1 514.3 L329.3 515.9 L328.7 517.7 L327.9 519.2 L326.1 519.4 L324.7 519.9 L323.4 520.3 L322.3 520.9 L321.3 521.4 L320.3 522 L319.4 522.7 L318.6 523.4 L317.9 524.1 L317.1 524.9 L316.5 525.8 L315.9 526.8 L315.3 527.8 L314.8 529 L314.4 530.3 L314.1 531.9 L313.3 533 L311.9 533.5 L310.6 534.1 L309.3 534.9 L308.1 535.7 L307 536.6 L305.9 537.6 L304.8 538.6 L303.8 539.7 L302.9 540.9 L302.1 542.2 L301.3 543.5 L300.6 544.8 L300.1 546.3 L299.6 547.8 L299.2 549.3 L299 550.9 L298.9 552.6 L298.6 554.1 L297 555.1 L295.7 556.3 L294.6 557.6 L293.7 559 L292.8 560.4 L292.1 561.9 L291.5 563.5 L291.1 565.1 L290.7 566.8 L290.6 568.6 L290.6 570.4 L290.7 572.3 L291.2 574.2 L289.5 575.5 L288.3 576.9 L287.2 578.4 L286.3 580 L285.6 581.7 L285 583.4 L284.6 585.1 L284.3 587 L284.2 588.8 L284.3 590.8 L284.6 592.8 L285.5 595 L283.8 596.5 L282.6 598.2 L281.6 599.9 L280.7 601.7 L279.9 603.5 L279.2 605.4 L278.6 607.3 L278.2 609.2 L277.8 611.2 L277.6 613.3 L277.5 615.4 L277.6 617.5 L277.8 619.7 L278.2 622 L276.5 623.7 L275.2 625.6 L274.1 627.6 L273.3 629.6 L272.6 631.7 L272.1 633.8 L271.8 636 L271.8 638.3 L271.9 640.7 L272.4 643.1 L272.2 645.5 L270.7 647.5 L269.4 649.6 L268.4 651.8 L267.6 654 L267 656.2 L266.5 658.5 L266.2 660.9 L266.1 663.3 L266.3 665.7 L266.6 668.1 L267.5 670.7 L265.6 672.7 L264.3 674.9 L263.2 677.2 L262.5 679.5 L261.9 681.9 L261.7 684.3 L261.6 686.7 L261.9 689.2 L262.4 691.7 L263 694.2 L261.5 696.3 L260.4 698.4 L259.6 700.6 L259 702.7 L258.6 704.9 L258.4 706.9 L258.4 709 L258.6 711 L258.9 713 L259.4 714.9 L260.1 716.8 L260.9 718.6 L259.7 720.4 L258.9 722.3 L258.3 724.1 L258 725.9 L257.8 727.7 L257.8 729.5 L258 731.3 L258.4 733.2 L259 735 L259.9 736.9 L261.1 738.7 L261 740.6 L260.3 742.6 L259.8 744.5 L259.5 746.5 L259.4 748.4 L259.5 750.4 L259.7 752.3 L260 754.2 L260.5 756 L261.1 757.8 L261.8 759.6 L262.8 761.3 L263.9 763 L264.3 764.8 L263.8 766.7 L263.5 768.5 L263.3 770.4 L263.3 772.2 L263.4 773.9 L263.6 775.7 L263.9 777.4 L264.3 779.1 L264.8 780.7 L265.4 782.3 L266.1 783.9 L266.9 785.5 L267.9 787 L269 788.5 L270.5 789.8 L269.8 791.8 L269.5 793.6 L269.5 795.4 L269.6 797.2 L269.8 798.9 L270.1 800.6 L270.6 802.3 L271.2 803.9 L271.9 805.5 L272.8 807 L273.7 808.5 L274.9 810 L276.2 811.3 L277.9 812.5 L277.4 814.5 L277.4 816.4 L277.6 818.2 L277.9 819.9 L278.3 821.7 L278.9 823.4 L279.5 825 L280.3 826.7 L281.2 828.3 L282.1 829.8 L283.3 831.2 L284.5 832.6 L285.9 833.9 L287.5 835.1 L288.4 836.5 L288.5 838.4 L288.9 840.3 L289.5 842 L290.2 843.6 L291 845.1 L292 846.6 L293.1 847.9 L294.3 849.2 L295.6 850.3 L297 851.3 L298.5 852.2 L300 853 L301.7 853.7 L303.5 854.2 L304.5 855.6 L305.1 857.4 L306 859 L306.9 860.5 L307.9 861.8 L309 863 L310.3 864.2 L311.6 865.2 L313.1 866.1 L314.6 866.8 L316.3 867.5 L318.2 867.9 L319.6 868.7 L320.3 870.4 L321.2 872 L322.1 873.4 L323.2 874.7 L324.2 876 L325.4 877.1 L326.6 878.2 L327.9 879.2 L329.2 880.1 L330.5 880.9 L331.9 881.6 L333.4 882.2 L334.8 882.8 L336.3 883.2 L337.9 883.5 L339.7 883.5 L340.4 885.1 L341.2 886.4 L342.2 887.7 L343.2 888.8 L344.3 889.8 L345.5 890.8 L346.7 891.7 L348 892.5 L349.3 893.2 L350.7 893.9 L352.2 894.5 L353.7 894.9 L355.3 895.3 L357 895.5 L358.7 895.6 L360.5 895.4 L361.7 896.8 L362.8 898.1 L364 899.3 L365.3 900.4 L366.7 901.3 L368.1 902.1 L369.5 902.7 L371 903.3 L372.6 903.7 L374.1 904 L375.8 904.1 L377.4 904.2 L379.1 904 L381 903.6 L382.3 904.7 L383.5 905.9 L384.9 907 L386.3 907.8 L387.7 908.5 L389.2 909.1 L390.7 909.4 L392.3 909.6 L393.9 909.7 L395.4 909.5 L397 909.2 L398.5 908.7 L400.1 907.8 L401.5 908.1 L403 908.8 L404.5 909.4 L406 909.8 L407.5 910.1 L409.1 910.3 L410.6 910.4 L412.1 910.3 L413.6 910.2 L415 910 L416.4 909.7 L417.7 909.3 L419 908.8 L420.2 908.3 L421.4 907.6 L422.5 906.9 L423.5 906.1 L424.4 905.1 L425.3 904.1 L426.2 903.3 L427.6 903.4 L428.9 903.3 L430.2 903.1 L431.3 902.7 L432.4 902.2 L433.4 901.7 L434.3 901.1 L435.1 900.5 L435.9 899.8 L436.6 899.2 L437.2 898.5 L437.8 897.7 L438.3 897 L438.7 896.3 L439 895.6 L439.3 894.8 L439.6 894.1 L439.8 893.4 L440 892.7 L440.2 892 L440.5 891.3 L440.7 890.6 L441 890 L441.3 889.3 L441.6 888.6 L442 888 L442.4 888.6 L442.7 889.3 L443 890 L443.3 890.6 L443.5 891.3 L443.8 892 L444 892.7 L444.2 893.4 L444.4 894.1 L444.7 894.8 L445 895.6 L445.3 896.3 L445.7 897 L446.2 897.7 L446.8 898.5 L447.4 899.2 L448.1 899.8 L448.9 900.5 L449.7 901.1 L450.6 901.7 L451.6 902.2 L452.7 902.7 L453.8 903.1 L455.1 903.3 L456.4 903.4 L457.8 903.3 L458.7 904.1 L459.6 905.1 L460.5 906.1 L461.5 906.9 L462.6 907.6 L463.8 908.3 L465 908.8 L466.3 909.3 L467.6 909.7 L469 910 L470.4 910.2 L471.9 910.3 L473.4 910.4 L474.9 910.3 L476.5 910.1 L478 909.8 L479.5 909.4 L481 908.8 L482.5 908.1 L483.9 907.8 L485.5 908.7 L487 909.2 L488.6 909.5 L490.1 909.7 L491.7 909.6 L493.3 909.4 L494.8 909.1 L496.3 908.5 L497.7 907.8 L499.1 907 L500.5 905.9 L501.7 904.7 L503 903.6 L504.9 904 L506.6 904.2 L508.2 904.1 L509.9 904 L511.4 903.7 L513 903.3 L514.5 902.7 L515.9 902.1 L517.3 901.3 L518.7 900.4 L520 899.3 L521.2 898.1 L522.3 896.8 L523.5 895.4 L525.3 895.6 L527 895.5 L528.7 895.3 L530.3 894.9 L531.8 894.5 L533.3 893.9 L534.7 893.2 L536 892.5 L537.3 891.7 L538.5 890.8 L539.7 889.8 L540.8 888.8 L541.8 887.7 L542.8 886.4 L543.6 885.1 L544.3 883.5 L546.1 883.5 L547.7 883.2 L549.2 882.8 L550.6 882.2 L552.1 881.6 L553.5 880.9 L554.8 880.1 L556.1 879.2 L557.4 878.2 L558.6 877.1 L559.8 876 L560.8 874.7 L561.9 873.4 L562.8 872 L563.7 870.4 L564.4 868.7 L565.8 867.9 L567.7 867.5 L569.4 866.8 L570.9 866.1 L572.4 865.2 L573.7 864.2 L575 863 L576.1 861.8 L577.1 860.5 L578 859 L578.9 857.4 L579.5 855.6 L580.5 854.2 L582.3 853.7 L584 853 L585.5 852.2 L587 851.3 L588.4 850.3 L589.7 849.2 L590.9 847.9 L592 846.6 L593 845.1 L593.8 843.6 L594.5 842 L595.1 840.3 L595.5 838.4 L595.6 836.5 L596.5 835.1 L598.1 833.9 L599.5 832.6 L600.7 831.2 L601.9 829.8 L602.8 828.3 L603.7 826.7 L604.5 825 L605.1 823.4 L605.7 821.7 L606.1 819.9 L606.4 818.2 L606.6 816.4 L606.6 814.5 L606.1 812.5 L607.8 811.3 L609.1 810 L610.3 808.5 L611.2 807 L612.1 805.5 L612.8 803.9 L613.4 802.3 L613.9 800.6 L614.2 798.9 L614.4 797.2 L614.5 795.4 L614.5 793.6 L614.2 791.8 L613.5 789.8 L615 788.5 L616.1 787 L617.1 785.5 L617.9 783.9 L618.6 782.3 L619.2 780.7 L619.7 779.1 L620.1 777.4 L620.4 775.7 L620.6 773.9 L620.7 772.2 L620.7 770.4 L620.5 768.5 L620.2 766.7 L619.7 764.8 L620.1 763 L621.2 761.3 L622.2 759.6 L622.9 757.8 L623.5 756 L624 754.2 L624.3 752.3 L624.5 750.4 L624.6 748.4 L624.5 746.5 L624.2 744.5 L623.7 742.6 L623 740.6 L622.9 738.7 L624.1 736.9 L625 735 L625.6 733.2 L626 731.3 L626.2 729.5 L626.2 727.7 L626 725.9 L625.7 724.1 L625.1 722.3 L624.3 720.4 L623.1 718.6 L623.9 716.8 L624.6 714.9 L625.1 713 L625.4 711 L625.6 709 L625.6 706.9 L625.4 704.9 L625 702.7 L624.4 700.6 L623.6 698.4 L622.5 696.3 L621 694.2 L621.6 691.7 L622.1 689.2 L622.4 686.7 L622.3 684.3 L622.1 681.9 L621.5 679.5 L620.8 677.2 L619.7 674.9 L618.4 672.7 L616.5 670.7 L617.4 668.1 L617.7 665.7 L617.9 663.3 L617.8 660.9 L617.5 658.5 L617 656.2 L616.4 654 L615.6 651.8 L614.6 649.6 L613.3 647.5 L611.8 645.5 L611.6 643.1 L612.1 640.7 L612.2 638.3 L612.2 636 L611.9 633.8 L611.4 631.7 L610.7 629.6 L609.9 627.6 L608.8 625.6 L607.5 623.7 L605.8 622 L606.2 619.7 L606.4 617.5 L606.5 615.4 L606.4 613.3 L606.2 611.2 L605.8 609.2 L605.4 607.3 L604.8 605.4 L604.1 603.5 L603.3 601.7 L602.4 599.9 L601.4 598.2 L600.2 596.5 L598.5 595 L599.4 592.8 L599.7 590.8 L599.8 588.8 L599.7 587 L599.4 585.1 L599 583.4 L598.4 581.7 L597.7 580 L596.8 578.4 L595.7 576.9 L594.5 575.5 L592.8 574.2 L593.3 572.3 L593.4 570.4 L593.4 568.6 L593.3 566.8 L592.9 565.1 L592.5 563.5 L591.9 561.9 L591.2 560.4 L590.3 559 L589.4 557.6 L588.3 556.3 L587 555.1 L585.4 554.1 L585.1 552.6 L585 550.9 L584.8 549.3 L584.4 547.8 L583.9 546.3 L583.4 544.8 L582.7 543.5 L581.9 542.2 L581.1 540.9 L580.2 539.7 L579.2 538.6 L578.1 537.6 L577 536.6 L575.9 535.7 L574.7 534.9 L573.4 534.1 L572.1 533.5 L570.7 533 L569.9 531.9 L569.6 530.3 L569.2 529 L568.7 527.8 L568.1 526.8 L567.5 525.8 L566.9 524.9 L566.1 524.1 L565.4 523.4 L564.6 522.7 L563.7 522 L562.7 521.4 L561.7 520.9 L560.6 520.3 L559.3 519.9 L557.9 519.4 L556.1 519.2 L555.3 517.7 L554.7 515.9 L553.9 514.3 L552.9 512.6 L551.7 511.1 L550.4 509.6 L548.8 508.3 L547.1 507.1 L545.1 506.1 L542.8 505.3 L540.7 504.5 L539.9 502.2 L538.7 500.2 L537.5 498.3 L536.1 496.7 L534.5 495.2 L532.9 493.9 L531.1 492.7 L529.2 491.7 L527.1 490.9 L524.9 490.2 L522.4 489.8 L520.8 488.2 L519.5 486.2 L518 484.4 L516.4 482.9 L514.7 481.5 L512.9 480.4 L511.1 479.4 L509.2 478.6 L507.4 478 L505.6 477.5 L503.9 477.3 L502.1 477.2 L500.5 477.4 L499.7 475.9 L498.7 474.8 L497.7 474 L496.6 473.2 L495.6 472.6 L494.5 472.1 L493.5 471.6 L492.5 471.3 L491.5 471 L490.5 470.7 L489.5 470.5 L488.4 470.3 L487.4 470.2 L486.3 470.1 L485.1 470 L484 470 L482.8 470 L481.7 470.1 L480.5 470.3 L479.2 470.8 L478.4 469.8 L477.6 469 L476.7 468.3 L475.8 467.6 L474.9 467 L474 466.5 L473.1 466.1 L472.1 465.7 L471.1 465.4 L470.2 465.2 L469.2 465 L468.3 464.9 L467.3 464.8 L466.3 464.8 L465.4 464.8 L464.4 464.9 L463.5 465.1 L462.6 465.3 L461.7 465.5 L460.8 465.8 L460 466.2 L459.2 466.5 L458.4 467 L457.7 467.5 L457 468.1 L456.4 468.8 L455.6 468.6 L454.8 468.3 L454 468.1 L453.3 468 L452.5 468 L451.8 468.1 L451.1 468.2 L450.4 468.4 L449.7 468.6 L449.1 468.9 L448.5 469.2 L447.9 469.6 L447.4 470 L446.8 470.5 L446.4 470.9 L445.9 471.5 L445.5 472 L445.1 472.6 L444.8 473.3 L444.5 473.9 L444.3 474.6 L444.1 475.2 L443.9 475.9 L443.7 476.6 L443.6 477.3 L443.4 478 L443.2 478.7 L443 479.4 L442.8 480.1 L442.6 480.7 L442.3 481.4Z" fill="none" stroke="#e8867d" stroke-width="1.7" stroke-linejoin="round"/>
<path d="M300 560C303.7 555.2 314.3 553.5 318 556C321.7 558.5 322 567.7 322 575C322 582.3 317.7 592.2 318 600C318.3 607.8 325 615.3 324 622C323 628.7 316.3 637.7 312 640C307.7 642.3 301.3 641 298 636C294.7 631 292.3 618.5 292 610C291.7 601.5 294.7 593.3 296 585C297.3 576.7 296.3 564.8 300 560Z" fill="#f7c5bc"/>
<path d="M584 560C580.3 555.2 569.7 553.5 566 556C562.3 558.5 562 567.7 562 575C562 582.3 566.3 592.2 566 600C565.7 607.8 559 615.3 560 622C561 628.7 567.7 637.7 572 640C576.3 642.3 582.7 641 586 636C589.3 631 591.7 618.5 592 610C592.3 601.5 589.3 593.3 588 585C586.7 576.7 587.7 564.8 584 560Z" fill="#f7c5bc"/>
<path d="M268 690C270.7 686 277 682.3 280 684C283 685.7 285.7 693.7 286 700C286.3 706.3 284.7 717.7 282 722C279.3 726.3 273 728.3 270 726C267 723.7 264.3 714 264 708C263.7 702 265.3 694 268 690Z" fill="#efa49a" fill-opacity="0.6"/>
<path d="M616 690C613.3 686 607 682.3 604 684C601 685.7 598.3 693.7 598 700C597.7 706.3 599.3 717.7 602 722C604.7 726.3 611 728.3 614 726C617 723.7 619.7 714 620 708C620.3 702 618.7 694 616 690Z" fill="#efa49a" fill-opacity="0.6"/>
<path d="M272 760C273.7 755 281 753.3 284 756C287 758.7 290 770 290 776C290 782 286.7 790.3 284 792C281.3 793.7 276 791.3 274 786C272 780.7 270.3 765 272 760Z" fill="#efa49a" fill-opacity="0.6"/>
<path d="M612 760C610.3 755 603 753.3 600 756C597 758.7 594 770 594 776C594 782 597.3 790.3 600 792C602.7 793.7 608 791.3 610 786C612 780.7 613.7 765 612 760Z" fill="#efa49a" fill-opacity="0.6"/>
<path d="M296 828C297.7 825 304.3 823.7 308 826C311.7 828.3 317.7 837.7 318 842C318.3 846.3 313.3 851.7 310 852C306.7 852.3 300.3 848 298 844C295.7 840 294.3 831 296 828Z" fill="#efa49a" fill-opacity="0.6"/>
<path d="M588 828C586.3 825 579.7 823.7 576 826C572.3 828.3 566.3 837.7 566 842C565.7 846.3 570.7 851.7 574 852C577.3 852.3 583.7 848 586 844C588.3 840 589.7 831 588 828Z" fill="#efa49a" fill-opacity="0.6"/>
<path d="M340 872C342.7 870 351.7 870 356 872C360.3 874 366.7 881 366 884C365.3 887 356.3 890 352 890C347.7 890 342 887 340 884C338 881 337.3 874 340 872Z" fill="#efa49a" fill-opacity="0.6"/>
<path d="M544 872C541.3 870 532.3 870 528 872C523.7 874 517.3 881 518 884C518.7 887 527.7 890 532 890C536.3 890 542 887 544 884C546 881 546.7 874 544 872Z" fill="#efa49a" fill-opacity="0.6"/>
<path d="M284 610C286.3 606 293.3 603.7 296 606C298.7 608.3 300.7 618.7 300 624C299.3 629.3 295 637 292 638C289 639 283.3 634.7 282 630C280.7 625.3 281.7 614 284 610Z" fill="#efa49a" fill-opacity="0.6"/>
<path d="M600 610C597.7 606 590.7 603.7 588 606C585.3 608.3 583.3 618.7 584 624C584.7 629.3 589 637 592 638C595 639 600.7 634.7 602 630C603.3 625.3 602.3 614 600 610Z" fill="#efa49a" fill-opacity="0.6"/>
<path d="M392 896C394.7 894.7 405.3 893.3 410 894C414.7 894.7 420.3 898.3 420 900C419.7 901.7 412.3 903.7 408 904C403.7 904.3 396.7 903.3 394 902C391.3 900.7 389.3 897.3 392 896Z" fill="#efa49a" fill-opacity="0.6"/>
<path d="M492 896C489.3 894.7 478.7 893.3 474 894C469.3 894.7 463.7 898.3 464 900C464.3 901.7 471.7 903.7 476 904C480.3 904.3 487.3 903.3 490 902C492.7 900.7 494.7 897.3 492 896Z" fill="#efa49a" fill-opacity="0.6"/>
<path d="M302 596 Q293.8 590.5 284 592 Q292.2 593.7 298 604Z M294.3 636.4 Q284.2 639.2 279 648 Q285.6 642.1 297.7 643.6Z M293.3 685.7 Q282.8 680.6 272 684 Q281.8 684 290.7 694.3Z M290.3 716.4 Q277.6 719.4 271 730 Q278.9 722.3 293.7 723.6Z M293.9 756 Q282.5 759.7 277 770 Q284.2 762.9 298.1 764Z M301.8 796.7 Q290.6 801.3 286 812 Q292.3 804 306.2 803.3Z M314.7 826.9 Q304.9 834.3 303 846 Q307.5 836.7 321.3 833.1Z M336.5 854.1 Q329.1 862.9 330 874 Q331.9 864.5 343.5 857.9Z M363.7 874.6 Q359 884 362 894 Q362.4 885.1 372.3 877.4Z M396 884.5 Q396 893.4 402 900 Q399.2 893 404 883.5Z M319.8 556.4 Q311.7 550.6 302 552 Q310.2 553.5 316.2 563.6Z M300 665 Q290.6 663.1 283 668 Q290.6 665.5 300 671Z M309.2 737.1 Q301.1 738 296 744 Q301.7 740.3 310.8 742.9Z M586 604 Q595.4 600.7 600 592 Q593.8 597.5 582 596Z M586.3 643.6 Q594.9 649.6 605 648 Q596.3 646.7 589.7 636.4Z M593.3 694.3 Q604.8 692.8 612 684 Q603.8 689.4 590.7 685.7Z M590.3 723.6 Q600.7 731.6 613 730 Q602 728.7 593.7 716.4Z M585.9 764 Q595.4 771.3 607 770 Q597.1 768.1 590.1 756Z M577.8 803.3 Q586.4 811.9 598 812 Q588.1 809.2 582.2 796.7Z M562.7 833.1 Q569.4 843.3 581 846 Q572 840.9 569.3 826.9Z M540.5 857.9 Q544.1 868.9 554 874 Q546.9 867.3 547.5 854.1Z M511.7 877.4 Q513.6 887.8 522 894 Q517 886.7 520.3 874.6Z M480 883.5 Q477.8 892.2 482 900 Q481 892.6 488 884.5Z M567.8 563.6 Q577.3 560.6 582 552 Q575.8 557.7 564.2 556.4Z M584 671 Q593.4 672.9 601 668 Q593.4 670.5 584 665Z M573.2 742.9 Q580.5 746.4 588 744 Q581.1 744.1 574.8 737.1Z" fill="#fcd6cb"/>
<path d="M442 624.5C438 624.5 433.7 624.4 430 625C426.3 625.6 423 626 420 628C417 630 413.8 634 412 637C410.2 640 409.2 642.5 409 646C408.8 649.5 409.8 654.3 411 658C412.2 661.7 414.7 664.8 416 668C417.3 671.2 418.5 672.2 419 677C419.5 681.8 419.8 692.2 419 697C418.2 701.8 416.8 703.2 414 706C411.2 708.8 405.2 710.8 402 714C398.8 717.2 396 721.5 395 725C394 728.5 396.3 732.2 396 735C395.7 737.8 392.2 740.3 393 742C393.8 743.7 398.2 743.7 401 745C403.8 746.3 409 747.5 410 750C411 752.5 407.8 755.8 407 760C406.2 764.2 405.5 768.8 405 775C404.5 781.2 404.2 790.8 404 797C403.8 803.2 403.7 806.5 404 812C404.3 817.5 405 822 406 830C407 838 408.3 850.8 410 860C411.7 869.2 413.7 878.3 416 885C418.3 891.7 419.7 896.7 424 900C428.3 903.3 436 905 442 905C448 905 455.7 903.3 460 900C464.3 896.7 465.7 891.7 468 885C470.3 878.3 472.3 869.2 474 860C475.7 850.8 477 838 478 830C479 822 479.7 817.5 480 812C480.3 806.5 480.2 803.2 480 797C479.8 790.8 479.5 781.2 479 775C478.5 768.8 477.8 764.2 477 760C476.2 755.8 473 752.5 474 750C475 747.5 480.2 746.3 483 745C485.8 743.7 490.2 743.7 491 742C491.8 740.3 488.3 737.8 488 735C487.7 732.2 490 728.5 489 725C488 721.5 485.2 717.2 482 714C478.8 710.8 472.8 708.8 470 706C467.2 703.2 465.8 701.8 465 697C464.2 692.2 464.5 681.8 465 677C465.5 672.2 466.7 671.2 468 668C469.3 664.8 471.8 661.7 473 658C474.2 654.3 475.2 649.5 475 646C474.8 642.5 473.8 640 472 637C470.2 634 467 630 464 628C461 626 457.7 625.6 454 625C450.3 624.4 446 624.5 442 624.5Z" fill="#f3b1a7"/>
<path d="M442 497C438 497 434.3 497 430 498C425.7 499 419.2 500.2 416 503C412.8 505.8 411.5 510.2 411 515C410.5 519.8 413.3 526.5 413 532C412.7 537.5 408.8 543.3 409 548C409.2 552.7 411.5 556 414 560C416.5 564 420.3 568.7 424 572C427.7 575.3 433 578.3 436 580C439 581.7 440 582 442 582C444 582 445 581.7 448 580C451 578.3 456.3 575.3 460 572C463.7 568.7 467.5 564 470 560C472.5 556 474.8 552.7 475 548C475.2 543.3 471.3 537.5 471 532C470.7 526.5 473.5 519.8 473 515C472.5 510.2 471.2 505.8 468 503C464.8 500.2 458.3 499 454 498C449.7 497 446 497 442 497Z" fill="#f7c5bc"/>
<ellipse cx="442" cy="669" rx="31" ry="27" fill="#f7c5bc"/>
<path d="M399.8 773.4 Q406.9 779.4 416 779 Q408.6 776.7 404.2 766.6Z M401.3 803.1 Q407.1 806.9 414 806 Q408.4 804.5 404.7 796.9Z M396.4 725.1 Q402.7 729.2 410 728 Q403.9 726.7 399.6 718.9Z M479.8 766.6 Q471.5 770.5 468 779 Q473.2 773.2 484.2 773.4Z M479.3 796.9 Q473 799.7 470 806 Q474.3 802.1 482.7 803.1Z M484.4 718.9 Q477.5 721.4 474 728 Q478.7 723.9 487.6 725.1Z" fill="#fcd6cb"/>
<path d="M440.6 480 Q441.6 500 441.8 517.5 Q442.4 500 443 480Z" fill="#e8867d" stroke="#e8867d" stroke-width="0.8"/>
<path d="M441.8 754.5 C439.5 759 437.4 763 437.6 772 L437.9 820 L446 820 L446.2 772 C446.4 763 444.2 759 441.8 754.5Z" fill="#fff" stroke="#e8867d" stroke-width="1.1"/>
<path d="M441 872 C440.8 885 439.6 895 436.5 902" fill="none" stroke="#fff" stroke-width="1.4"/>
<path d="M363.6 546.6C363.8 547 364.2 547.7 365 549.2C365.8 550.7 366.5 553.2 368.6 555.8C370.7 558.4 374 562.1 377.5 564.9C381 567.6 385.5 570.1 389.5 572.3C393.5 574.5 397.4 576.3 401.2 578.1C405.1 579.9 409.4 581.3 412.5 583.1C415.6 584.9 418.1 586.6 420 588.8C421.9 590.9 423.3 593.8 423.9 596.2C424.5 598.8 424.3 601.2 423.6 603.8C422.9 606.2 421.8 608.5 419.5 611.2C417.2 614 413.7 617.2 410 620C406.3 622.8 402.1 625.3 397.5 628.1C392.9 630.9 387.5 634 382.5 637C377.5 640 371.9 643.2 367.5 646C363.1 648.8 360.3 650.5 356.2 653.8C352.2 657 346.3 661.5 343 665.5C339.7 669.5 337.9 673 336.5 677.5C335.1 682 334.3 687.5 334.3 692.5C334.3 697.5 335.5 702.9 336.4 707.5C337.3 712.1 339 717.9 339.5 720" fill="none" stroke="#fff" stroke-width="12.5" stroke-linecap="round" stroke-linejoin="round"/>
<path d="M376 540.6C376.2 541.2 376.4 542.8 377 544.5C377.6 546.2 377.7 548.2 379.6 551C381.5 553.8 385 558 388.6 561C392.2 564 397.1 566.6 401.5 568.9C405.9 571.2 410.9 572.9 415 575C419.1 577.1 422.9 578.8 426.2 581.2C429.6 583.8 432.4 586.6 435 590C437.6 593.4 439.6 598 442 601.5C444.4 605 446.7 608 449.5 611C452.3 614 455 616.5 458.8 619.5C462.5 622.5 466.7 625.5 472 629C477.3 632.5 484.4 636.9 490.5 640.5C496.6 644.1 502.9 647.3 508.5 650.5C514.1 653.7 519.8 656.4 524.2 659.5C528.7 662.6 532.5 665.6 535.2 669C537.9 672.4 539.5 676 540.4 680C541.2 684 540.6 688.7 540.3 693C540 697.3 539.5 701.6 538.7 706C537.9 710.4 535.9 717.2 535.3 719.5" fill="none" stroke="#fff" stroke-width="15.5" stroke-linecap="round" stroke-linejoin="round"/>
<path d="M520.4 546.6C520.2 547 519.8 547.7 519 549.2C518.2 550.7 517.5 553.2 515.4 555.8C513.3 558.4 510 562.1 506.5 564.9C503 567.6 498.5 570.1 494.5 572.3C490.5 574.5 486.6 576.3 482.8 578.1C478.9 579.9 474.6 581.3 471.5 583.1C468.4 584.9 465.9 586.6 464 588.8C462.1 590.9 460.7 593.8 460.1 596.2C459.5 598.8 459.7 601.2 460.4 603.8C461.1 606.2 462.2 608.5 464.5 611.2C466.8 614 470.3 617.2 474 620C477.7 622.8 481.9 625.3 486.5 628.1C491.1 630.9 496.5 634 501.5 637C506.5 640 512.1 643.2 516.5 646C520.9 648.8 523.7 650.5 527.8 653.8C531.8 657 537.7 661.5 541 665.5C544.3 669.5 546 673 547.5 677.5C549 682 549.7 687.5 549.7 692.5C549.7 697.5 548.5 702.9 547.6 707.5C546.7 712.1 545 717.9 544.5 720" fill="none" stroke="#fff" stroke-width="12.5" stroke-linecap="round" stroke-linejoin="round"/>
<path d="M508 540.6C507.8 541.2 507.6 542.8 507 544.5C506.4 546.2 506.3 548.2 504.4 551C502.5 553.8 499 558 495.4 561C491.8 564 486.9 566.6 482.5 568.9C478.1 571.2 473.1 572.9 469 575C464.9 577.1 461.1 578.8 457.8 581.2C454.4 583.8 451.6 586.6 449 590C446.4 593.4 444.4 598 442 601.5C439.6 605 437.3 608 434.5 611C431.7 614 429 616.5 425.2 619.5C421.5 622.5 417.3 625.5 412 629C406.7 632.5 399.6 636.9 393.5 640.5C387.4 644.1 381.1 647.3 375.5 650.5C369.9 653.7 364.2 656.4 359.8 659.5C355.3 662.6 351.5 665.6 348.8 669C346.1 672.4 344.4 676 343.6 680C342.8 684 343.4 688.7 343.7 693C344 697.3 344.5 701.6 345.3 706C346.1 710.4 348.1 717.2 348.7 719.5" fill="none" stroke="#fff" stroke-width="15.5" stroke-linecap="round" stroke-linejoin="round"/>
<path d="M410 620C407.9 621.4 402.1 625.3 397.5 628.1C392.9 630.9 387.5 634 382.5 637C377.5 640 371.9 643.2 367.5 646C363.1 648.8 360.3 650.5 356.2 653.8C352.2 657 346.3 661.5 343 665.5C339.7 669.5 337.9 673 336.5 677.5C335.1 682 334.3 687.5 334.3 692.5C334.3 697.5 335.5 702.9 336.4 707.5C337.3 712.1 339 717.9 339.5 720" fill="none" stroke="#fff" stroke-width="17.5" stroke-linecap="round" stroke-linejoin="round"/>
<path d="M474 620C476.1 621.4 481.9 625.3 486.5 628.1C491.1 630.9 496.5 634 501.5 637C506.5 640 512.1 643.2 516.5 646C520.9 648.8 523.7 650.5 527.8 653.8C531.8 657 537.7 661.5 541 665.5C544.3 669.5 546 673 547.5 677.5C549 682 549.7 687.5 549.7 692.5C549.7 697.5 548.5 702.9 547.6 707.5C546.7 712.1 545 717.9 544.5 720" fill="none" stroke="#fff" stroke-width="17.5" stroke-linecap="round" stroke-linejoin="round"/>
<path d="M472 629C475.1 630.9 484.4 636.9 490.5 640.5C496.6 644.1 502.9 647.3 508.5 650.5C514.1 653.7 519.8 656.4 524.2 659.5C528.7 662.6 532.5 665.6 535.2 669C537.9 672.4 539.5 676 540.4 680C541.2 684 540.6 688.7 540.3 693C540 697.3 539.5 701.6 538.7 706C537.9 710.4 535.9 717.2 535.3 719.5" fill="none" stroke="#fff" stroke-width="18.5" stroke-linecap="round" stroke-linejoin="round"/>
<path d="M412 629C408.9 630.9 399.6 636.9 393.5 640.5C387.4 644.1 381.1 647.3 375.5 650.5C369.9 653.7 364.2 656.4 359.8 659.5C355.3 662.6 351.5 665.6 348.8 669C346.1 672.4 344.4 676 343.6 680C342.8 684 343.4 688.7 343.7 693C344 697.3 344.5 701.6 345.3 706C346.1 710.4 348.1 717.2 348.7 719.5" fill="none" stroke="#fff" stroke-width="18.5" stroke-linecap="round" stroke-linejoin="round"/>
<path d="M367.5 646C365.6 647.3 360.3 650.5 356.2 653.8C352.2 657 346.3 661.5 343 665.5C339.7 669.5 337.9 673 336.5 677.5C335.1 682 334.7 690 334.3 692.5" fill="none" stroke="#fff" stroke-width="21" stroke-linecap="round" stroke-linejoin="round"/>
<path d="M516.5 646C518.4 647.3 523.7 650.5 527.8 653.8C531.8 657 537.7 661.5 541 665.5C544.3 669.5 546 673 547.5 677.5C549 682 549.3 690 549.7 692.5" fill="none" stroke="#fff" stroke-width="21" stroke-linecap="round" stroke-linejoin="round"/>
<path d="M508.5 650.5C511.1 652 519.8 656.4 524.2 659.5C528.7 662.6 532.5 665.6 535.2 669C537.9 672.4 539.5 676 540.4 680C541.2 684 540.3 690.8 540.3 693" fill="none" stroke="#fff" stroke-width="22" stroke-linecap="round" stroke-linejoin="round"/>
<path d="M375.5 650.5C372.9 652 364.2 656.4 359.8 659.5C355.3 662.6 351.5 665.6 348.8 669C346.1 672.4 344.4 676 343.6 680C342.8 684 343.7 690.8 343.7 693" fill="none" stroke="#fff" stroke-width="22" stroke-linecap="round" stroke-linejoin="round"/>
<path d="M412.5 583.1 L426 581 L442 600 L426 620 L417 614 L423.6 603.8 L423.9 596.2 L420 588.8Z M471.5 583.1 L458 581 L442 600 L458 620 L467 614 L460.4 603.8 L460.1 596.2 L464 588.8Z" fill="#fff"/>
<path d="M442 598 L417 627.5 Q442 623.5 467 627.5Z" fill="#fff"/>
<path d="M427 573 Q436 578.5 442 579 Q448 578.5 457 573 L452 590 L442 602 L432 590Z" fill="#fff"/>
<circle cx="356" cy="507.3" r="40.3" fill="#fff"/><circle cx="528" cy="507.3" r="40.3" fill="#fff"/>
<path d="M442 408.5 L260.1 272.5 A228 228 0 0 1 623.9 272.5 Z" fill="#b897c9"/>
<path d="M216.8 374.7 A228 228 0 0 1 260.1 272.5 L326.5 322.1 L354.8 472.6 Z" fill="#29a4e0"/>
<path d="M326.5 322.1 L442 408.5 L354.8 472.6Z" fill="#ea8c82"/>
<path d="M667.2 374.7 A228 228 0 0 0 623.9 272.5 L557.5 322.1 L529.2 472.6 Z" fill="#ea8c82"/>
<path d="M557.5 322.1 L442 408.5 L529.2 472.6Z" fill="#29a4e0"/>
<path d="M318.9 487.2 L317.5 490 L316.3 493 L315.3 496.1 L314.6 499.2 L314.1 502.3 L313.8 505.5 L313.8 508.7 L314.1 511.9 L314.5 515.1 L315.2 518.2 L316.2 521.3 L317.4 524.3 L318.8 527.1 L320.4 529.9 L322.2 532.5 L324.2 535 L326.4 537.4 L328.8 539.5 L331.3 541.5 L334 543.3 L336.7 544.9 L339.6 546.2 L342.6 547.3 L345.7 548.2 L348.9 548.9 L352 549.3 L355.2 549.5 L358.4 549.4 L361.6 549.1 L364.8 548.6 L370.3 545.4 L369.2 538.2 L366.7 539.2 L364.1 539.9 L361.4 540.5 L358.7 540.9 L356 541 L353.3 540.9 L350.6 540.6 L347.9 540.1 L345.3 539.3 L342.8 538.3 L340.3 537.2 L338 535.8 L335.8 534.2 L333.7 532.5 L331.8 530.6 L330 528.5 L328.4 526.4 L327 524 L325.7 521.6 L324.7 519.1 L323.9 516.5 L323.3 513.9 L323 511.2 L322.8 508.5 L322.9 505.7 L323.2 503 L323.7 500.4 L324.4 497.8 L325.4 495.2 L326.5 492.8Z" fill="#e9625c"/>
<path d="M392.7 486.5 L393.7 488.3 L394.6 490.2 L395.4 492.1 L396.1 494.1 L396.7 496.1 L397.2 498.1 L397.6 500.1 L397.9 502.2 L398.1 504.2 L398.2 506.3 L398.2 508.4 L398.1 510.5 L397.9 512.5 L397.6 514.6 L397.2 516.6 L396.7 518.6 L396 520.6 L395.3 522.6 L394.5 524.5 L393.7 526.3 L392.7 528.2 L391.6 530 L390.4 531.7 L389.2 533.3 L387.9 534.9 L386.5 536.5 L385 537.9 L383.5 539.3 L381.9 540.6 L380.2 541.9 L370.3 545.4 L369.2 538.2 L370.9 537.4 L372.5 536.5 L374 535.5 L375.5 534.4 L377 533.3 L378.4 532.1 L379.7 530.8 L380.9 529.4 L382.1 528 L383.1 526.5 L384.1 524.9 L385 523.3 L385.8 521.6 L386.6 519.9 L387.2 518.2 L387.7 516.4 L388.1 514.6 L388.4 512.8 L388.7 511 L388.8 509.2 L388.8 507.3 L388.7 505.5 L388.5 503.6 L388.2 501.8 L387.8 500 L387.3 498.2 L386.7 496.5 L386 494.8 L385.3 493.1 L384.4 491.5Z" fill="#29a4e0"/>
<path d="M354.8 472.6 L326.3 492.6 L326.3 492.6 L325.1 495.1 L324.2 497.6 L323.4 500.3 L322.9 503 L322.6 505.7 L322.5 508.4 L322.7 511.2 L323 513.9 L323.6 516.6 L324.4 519.2 L325.5 521.7 L326.7 524.2 L328.1 526.5 L329.7 528.7 L331.5 530.8 L333.5 532.7 L335.6 534.5 L337.8 536 L340.2 537.4 L342.7 538.6 L345.2 539.6 L347.9 540.3 L350.5 540.9 L353.3 541.2 L356 541.3 L358.7 541.2 L361.5 540.8 L364.1 540.2 L366.8 539.4 L369.3 538.4 L369.3 538.4Z" fill="#ea8c82"/>
<path d="M354.8 472.6 L384.6 491.2 L384.6 491.2 L385.5 492.9 L386.3 494.5 L387 496.3 L387.6 498 L388.1 499.8 L388.5 501.6 L388.8 503.5 L389 505.3 L389.1 507.2 L389.1 509.1 L389 510.9 L388.8 512.8 L388.4 514.6 L388 516.4 L387.5 518.2 L386.9 520 L386.1 521.7 L385.3 523.4 L384.4 525 L383.4 526.6 L382.3 528.1 L381.2 529.6 L379.9 531 L378.6 532.3 L377.2 533.5 L375.7 534.7 L374.2 535.7 L372.6 536.7 L371 537.6 L369.3 538.4 L369.3 538.4Z" fill="#29a4e0"/>
<path d="M361.3 547.3 L358.4 547.5 L355.5 547.6 L352.6 547.5 L349.7 547.1 L346.9 546.6 L344.1 545.8 L341.4 544.9 L338.7 543.7 L336.2 542.4 L333.7 540.9 L331.4 539.2 L329.2 537.4 L327.1 535.4 L325.1 533.2 L323.4 530.9 L321.7 528.5 L320.3 526 L319.1 523.4 L318 520.7 L317.1 518 L316.5 515.2 L316 512.3 L315.8 509.4 L315.7 506.6 L315.9 503.7 L316.2 500.8 L316.8 498 L317.6 495.2 L318.5 492.5 L319.7 489.8 L321 487.3 L322.6 484.8 L324.2 482.5 L326.1 480.3 L328.1 478.2 L330.3 476.3 L332.6 474.5 L335 472.9 L337.5 471.5 L340.1 470.3 L342.8 469.2 L345.5 468.4 L348.4 467.7 L351.2 467.3 L354.1 467 L357 467 L359.9 467.2 L362.7 467.6 L365.5 468.1 L368.3 468.9 L371 469.9 L373.7 471.1 L376.2 472.4 L378.7 474 L381 475.7 L383.2 477.6 L385.3 479.6 L387.2 481.8 L388.9 484.1 L390.5 486.5 L391.9 489 L393.1 491.6 L394.1 494.3 L395 497.1 L395.6 499.9 L396 502.7 L396.3 505.6 L396.3 508.5 L396.1 511.4 L395.7 514.3 L395.1 517.1 L394.3 519.9 L393.3 522.6 L392.1 525.2 L390.7 527.7 L389.2 530.2 L387.5 532.5 L385.6 534.7 L383.5 536.7 L381.4 538.6" fill="none" stroke="#2b2d4f" stroke-width="1.45" stroke-linecap="round"/>
<path d="M326.3 492.6 L325.3 494.7 L324.4 496.9 L323.7 499.2 L323.2 501.4 L322.8 503.8 L322.6 506.1 L322.5 508.5 L322.6 510.8 L322.9 513.2 L323.3 515.5 L324 517.7 L324.7 520 L325.6 522.1 L326.7 524.2 L327.9 526.2 L329.3 528.2 L330.8 530 L332.4 531.7 L334.1 533.3 L336 534.8 L337.9 536.1 L340 537.3 L342.1 538.3 L344.2 539.2 L346.5 540 L348.8 540.5 L351.1 541 L353.4 541.2 L355.8 541.3 L358.1 541.2 L361.5 541.6 L364.3 543.6 L366 546.6 M384.6 491.2 L385.7 493.4 L386.8 495.7 L387.6 498.1 L388.2 500.5 L388.7 503 L389 505.5 L389.1 508 L389 510.5 L388.7 513 L388.3 515.4 L387.6 517.8 L386.8 520.2 L385.8 522.5 L384.6 524.7 L383.3 526.8 L381.8 528.8 L380.1 530.7 L378.4 532.5 L376.4 534.1 L374.4 535.6 L373.6 538.2 L373.4 541.8" fill="none" stroke="#2b2d4f" stroke-width="1.45" stroke-linecap="round" stroke-linejoin="round"/>
<path d="M320.9 487.3C321.5 487.6 323.7 488.1 324.6 489C325.5 489.9 326 492 326.3 492.6 M391 487C390.3 487.2 388.1 487.5 387 488.2C385.9 488.9 385 490.7 384.6 491.2" fill="none" stroke="#2b2d4f" stroke-width="1.45" stroke-linecap="round"/>
<ellipse cx="355" cy="475.4" rx="12.8" ry="3.1" fill="none" stroke="#2b2d4f" stroke-width="1.45" stroke-linecap="round" stroke-width="1.1"/>
<path d="M337.8 474.2 L342.2 475.3 M367.8 475.3 L372.4 474" fill="none" stroke="#2b2d4f" stroke-width="1.45" stroke-linecap="round" stroke-width="1.1"/>
<path d="M337.8 474.2C339.2 473.6 343.1 471.3 346 470.4C348.9 469.5 352 469 355 469C358 469 361.1 469.6 364 470.4C366.9 471.2 371 473.4 372.4 474" fill="none" stroke="#2b2d4f" stroke-width="1.45" stroke-linecap="round" stroke-width="1.1"/>
<path d="M354.8 472.6 L326.3 492.6 M354.8 472.6 L384.6 491.2" fill="none" stroke="#2b2d4f" stroke-width="1"/>
<path d="M354.8 472.6 L369.3 538.4" fill="none" stroke="#2b2d4f" stroke-width="1" stroke-dasharray="3 1.5"/>
<path d="M565.1 487.2 L566.5 490 L567.7 493 L568.7 496.1 L569.4 499.2 L569.9 502.3 L570.2 505.5 L570.2 508.7 L569.9 511.9 L569.5 515.1 L568.8 518.2 L567.8 521.3 L566.6 524.3 L565.2 527.1 L563.6 529.9 L561.8 532.5 L559.8 535 L557.6 537.4 L555.2 539.5 L552.7 541.5 L550 543.3 L547.3 544.9 L544.4 546.2 L541.4 547.3 L538.3 548.2 L535.1 548.9 L532 549.3 L528.8 549.5 L525.6 549.4 L522.4 549.1 L519.2 548.6 L513.7 545.4 L514.8 538.2 L517.3 539.2 L519.9 539.9 L522.6 540.5 L525.3 540.9 L528 541 L530.7 540.9 L533.4 540.6 L536.1 540.1 L538.7 539.3 L541.2 538.3 L543.7 537.2 L546 535.8 L548.2 534.2 L550.3 532.5 L552.2 530.6 L554 528.5 L555.6 526.4 L557 524 L558.3 521.6 L559.3 519.1 L560.1 516.5 L560.7 513.9 L561 511.2 L561.2 508.5 L561.1 505.7 L560.8 503 L560.3 500.4 L559.6 497.8 L558.6 495.2 L557.5 492.8Z" fill="#29a4e0"/>
<path d="M491.3 486.5 L490.3 488.3 L489.4 490.2 L488.6 492.1 L487.9 494.1 L487.3 496.1 L486.8 498.1 L486.4 500.1 L486.1 502.2 L485.9 504.2 L485.8 506.3 L485.8 508.4 L485.9 510.5 L486.1 512.5 L486.4 514.6 L486.8 516.6 L487.3 518.6 L488 520.6 L488.7 522.6 L489.5 524.5 L490.3 526.3 L491.3 528.2 L492.4 530 L493.6 531.7 L494.8 533.3 L496.1 534.9 L497.5 536.5 L499 537.9 L500.5 539.3 L502.1 540.6 L503.8 541.9 L513.7 545.4 L514.8 538.2 L513.1 537.4 L511.5 536.5 L510 535.5 L508.5 534.4 L507 533.3 L505.6 532.1 L504.3 530.8 L503.1 529.4 L501.9 528 L500.9 526.5 L499.9 524.9 L499 523.3 L498.2 521.6 L497.4 519.9 L496.8 518.2 L496.3 516.4 L495.9 514.6 L495.6 512.8 L495.3 511 L495.2 509.2 L495.2 507.3 L495.3 505.5 L495.5 503.6 L495.8 501.8 L496.2 500 L496.7 498.2 L497.3 496.5 L498 494.8 L498.7 493.1 L499.6 491.5Z" fill="#e9625c"/>
<path d="M529.2 472.6 L557.7 492.6 L557.7 492.6 L558.9 495.1 L559.8 497.6 L560.6 500.3 L561.1 503 L561.4 505.7 L561.5 508.4 L561.3 511.2 L561 513.9 L560.4 516.6 L559.6 519.2 L558.5 521.7 L557.3 524.2 L555.9 526.5 L554.3 528.7 L552.5 530.8 L550.5 532.7 L548.4 534.5 L546.2 536 L543.8 537.4 L541.3 538.6 L538.8 539.6 L536.1 540.3 L533.5 540.9 L530.7 541.2 L528 541.3 L525.3 541.2 L522.5 540.8 L519.9 540.2 L517.2 539.4 L514.7 538.4 L514.7 538.4Z" fill="#29a4e0"/>
<path d="M529.2 472.6 L499.4 491.2 L499.4 491.2 L498.5 492.9 L497.7 494.5 L497 496.3 L496.4 498 L495.9 499.8 L495.5 501.6 L495.2 503.5 L495 505.3 L494.9 507.2 L494.9 509.1 L495 510.9 L495.2 512.8 L495.6 514.6 L496 516.4 L496.5 518.2 L497.1 520 L497.9 521.7 L498.7 523.4 L499.6 525 L500.6 526.6 L501.7 528.1 L502.8 529.6 L504.1 531 L505.4 532.3 L506.8 533.5 L508.3 534.7 L509.8 535.7 L511.4 536.7 L513 537.6 L514.7 538.4 L514.7 538.4Z" fill="#ea8c82"/>
<path d="M522.7 547.3 L525.6 547.5 L528.5 547.6 L531.4 547.5 L534.3 547.1 L537.1 546.6 L539.9 545.8 L542.6 544.9 L545.3 543.7 L547.8 542.4 L550.3 540.9 L552.6 539.2 L554.8 537.4 L556.9 535.4 L558.9 533.2 L560.6 530.9 L562.3 528.5 L563.7 526 L564.9 523.4 L566 520.7 L566.9 518 L567.5 515.2 L568 512.3 L568.2 509.4 L568.3 506.6 L568.1 503.7 L567.8 500.8 L567.2 498 L566.4 495.2 L565.5 492.5 L564.3 489.8 L563 487.3 L561.4 484.8 L559.8 482.5 L557.9 480.3 L555.9 478.2 L553.7 476.3 L551.4 474.5 L549 472.9 L546.5 471.5 L543.9 470.3 L541.2 469.2 L538.5 468.4 L535.6 467.7 L532.8 467.3 L529.9 467 L527 467 L524.1 467.2 L521.3 467.6 L518.5 468.1 L515.7 468.9 L513 469.9 L510.3 471.1 L507.8 472.4 L505.3 474 L503 475.7 L500.8 477.6 L498.7 479.6 L496.8 481.8 L495.1 484.1 L493.5 486.5 L492.1 489 L490.9 491.6 L489.9 494.3 L489 497.1 L488.4 499.9 L488 502.7 L487.7 505.6 L487.7 508.5 L487.9 511.4 L488.3 514.3 L488.9 517.1 L489.7 519.9 L490.7 522.6 L491.9 525.2 L493.3 527.7 L494.8 530.2 L496.5 532.5 L498.4 534.7 L500.5 536.7 L502.6 538.6" fill="none" stroke="#2b2d4f" stroke-width="1.45" stroke-linecap="round"/>
<path d="M557.7 492.6 L558.7 494.7 L559.6 496.9 L560.3 499.2 L560.8 501.4 L561.2 503.8 L561.4 506.1 L561.5 508.5 L561.4 510.8 L561.1 513.2 L560.7 515.5 L560 517.7 L559.3 520 L558.4 522.1 L557.3 524.2 L556.1 526.2 L554.7 528.2 L553.2 530 L551.6 531.7 L549.9 533.3 L548 534.8 L546.1 536.1 L544 537.3 L541.9 538.3 L539.8 539.2 L537.5 540 L535.2 540.5 L532.9 541 L530.6 541.2 L528.2 541.3 L525.9 541.2 L522.5 541.6 L519.7 543.6 L518 546.6 M499.4 491.2 L498.3 493.4 L497.2 495.7 L496.4 498.1 L495.8 500.5 L495.3 503 L495 505.5 L494.9 508 L495 510.5 L495.3 513 L495.7 515.4 L496.4 517.8 L497.2 520.2 L498.2 522.5 L499.4 524.7 L500.7 526.8 L502.2 528.8 L503.9 530.7 L505.6 532.5 L507.6 534.1 L509.6 535.6 L510.4 538.2 L510.6 541.8" fill="none" stroke="#2b2d4f" stroke-width="1.45" stroke-linecap="round" stroke-linejoin="round"/>
<path d="M563.1 487.3C562.5 487.6 560.3 488.1 559.4 489C558.5 489.9 558 492 557.7 492.6 M493 487C493.7 487.2 495.9 487.5 497 488.2C498.1 488.9 499 490.7 499.4 491.2" fill="none" stroke="#2b2d4f" stroke-width="1.45" stroke-linecap="round"/>
<ellipse cx="529" cy="475.4" rx="12.8" ry="3.1" fill="none" stroke="#2b2d4f" stroke-width="1.45" stroke-linecap="round" stroke-width="1.1"/>
<path d="M546.2 474.2 L541.8 475.3 M516.2 475.3 L511.6 474" fill="none" stroke="#2b2d4f" stroke-width="1.45" stroke-linecap="round" stroke-width="1.1"/>
<path d="M546.2 474.2C544.8 473.6 540.9 471.3 538 470.4C535.1 469.5 532 469 529 469C526 469 522.9 469.6 520 470.4C517.1 471.2 513 473.4 511.6 474" fill="none" stroke="#2b2d4f" stroke-width="1.45" stroke-linecap="round" stroke-width="1.1"/>
<path d="M529.2 472.6 L557.7 492.6 M529.2 472.6 L499.4 491.2" fill="none" stroke="#2b2d4f" stroke-width="1"/>
<path d="M529.2 472.6 L514.7 538.4" fill="none" stroke="#2b2d4f" stroke-width="1" stroke-dasharray="3 1.5"/>
<path d="M216.8 374.7 L354.8 472.6 M667.2 374.7 L529.2 472.6 M260.1 272.5 L442 408.5 L529.2 472.6 M623.9 272.5 L442 408.5 L354.8 472.6" stroke="#2b2d4f" stroke-width="1.15" fill="none"/>
<path d="M308.2 225.4 L354.8 472.6 M575.8 225.4 L529.2 472.6" stroke="#2b2d4f" stroke-width="1.15" fill="none" stroke-dasharray="3 1.5"/>
<path d="M241.2 257.3 A252.3 252.3 0 0 1 642.8 257.3" stroke="#2b2d4f" stroke-width="1.5" fill="none"/>
<path d="M204.1 373.6 A240.7 240.7 0 0 1 300.9 215" stroke="#2b2d4f" stroke-width="1.5" fill="none"/>
<path d="M583.1 215 A240.7 240.7 0 0 1 679.9 373.6" stroke="#2b2d4f" stroke-width="1.5" fill="none"/>
<path d="M442 145.5 V157.5" stroke="#2b2d4f" stroke-width="1.5" fill="none"/>
<path d="M179.4 313.6 H187.2 L211 337.7" stroke="#2b2d4f" stroke-width="1.5" fill="none"/>
<path d="M704.6 313.6 H696.8 L673 337.7" stroke="#2b2d4f" stroke-width="1.5" fill="none"/>
<ellipse cx="442" cy="560.6" rx="8.8" ry="10.8" fill="#fff"/>
<ellipse cx="442" cy="663.8" rx="13.2" ry="17.6" fill="#fff"/>
<ellipse cx="442" cy="730.5" rx="11.8" ry="14.5" fill="#fff"/>
<path d="M322.5 696.3 L319.9 699.8 L317.1 703.2 L314.4 706.7 L311.8 710.2 L309.4 713.7 L307.5 717.5 L306 721.4 L304.9 725.3 L304 729.3 L303.4 733.5 L302.9 737.9 L302.5 742.5 L302.2 747.7 L302.1 753.4 L302.2 759.4 L302.4 765.2 L302.7 770.5 L303 775 L303.4 778.4 L303.9 781 L304.5 783.2 L305.2 785.1 L306 787.3 L307 790 L308.2 793.3 L309.5 796.8 L310.9 800.6 L312.5 804.4 L314.2 808.3 L316 812 L317.9 815.7 L319.9 819.6 L322 823.4 L324.2 827.1 L326.6 830.7 L329 834 L331.4 836.9 L333.6 839.4 L336 841.7 L338.7 844.1 L342 846.6 L346 849.5 L351.2 853 L357.4 857 L364.2 861.2 L371.1 865.3 L377.5 869 L383 872 L387.4 874.2 L391.1 875.8 L394.3 877 L397.4 878 L400.5 879 L404 880 L407.8 881.1 L411.8 882.1 L415.9 883.1 L420 884.1 L424.1 885 L428.2 886 L424 802 L420.6 802.7 L417.2 803.5 L413.8 804.4 L410.4 805.1 L407 805.7 L403.6 806.2 L400.1 806.5 L396.4 806.7 L392.8 806.7 L389.2 806.7 L386 806.6 L383.2 806.4 L380.9 806.1 L378.9 805.7 L377.3 805.3 L375.8 804.7 L374.4 804.1 L373 803.5 L371.6 802.8 L370.3 802 L369 801.1 L367.9 800.2 L366.9 799.3 L366 798.5 L365.3 797.8 L364.7 797.1 L364.3 796.5 L363.9 795.9 L363.6 795.2 L363.3 794.5 L363 793.8 L362.7 793.1 L362.4 792.4 L362.2 791.5 L362.2 790.4 L362.5 789 L362.9 787.4 L363.5 785.6 L364.3 783.7 L365.3 781.3 L366.5 778.5 L368 775 L370.1 770.6 L372.7 765.4 L375.5 759.7 L378.4 753.8 L380.9 748.1 L382.7 743 L383.9 738.4 L384.8 734 L385.4 729.8 L385.6 725.7 L385.5 721.8 L385 718 L384.1 714.2 L382.8 710.3 L381.1 706.6 L379.2 703.1 L377.2 700 L375 697.5 L372.7 695.7 L370.1 694.4 L367.4 693.6 L364.6 693 L361.7 692.3 L359 691.5Z" fill="#f3a096"/>
<path d="M322.5 696.3C320 699.8 310.8 709.8 307.5 717.5C304.2 725.2 303.2 732.9 302.5 742.5C301.8 752.1 302.2 767.1 303 775C303.8 782.9 304.8 783.8 307 790C309.2 796.2 312.3 804.7 316 812C319.7 819.3 324 827.8 329 834C334 840.2 337 843.2 346 849.5C355 855.8 373.3 866.9 383 872C392.7 877.1 396.5 877.7 404 880C411.5 882.3 424.2 885 428.2 886" fill="none" stroke="#e15750" stroke-width="4.2" stroke-linecap="round"/>
<path d="M322.5 696.3C320 699.8 310.8 709.8 307.5 717.5C304.2 725.2 303.2 732.9 302.5 742.5C301.8 752.1 302.2 767.1 303 775C303.8 782.9 304.8 783.8 307 790C309.2 796.2 312.3 804.7 316 812C319.7 819.3 324 827.8 329 834C334 840.2 337 843.2 346 849.5C355 855.8 373.3 866.9 383 872C392.7 877.1 396.5 877.7 404 880C411.5 882.3 424.2 885 428.2 886" fill="none" stroke="#ec6c65" stroke-width="1.7" stroke-linecap="round"/>
<path d="M323.6 709.5C322 712.9 316.3 722.9 314 730C311.7 737.1 310.7 744.5 310 752C309.3 759.5 309.1 768.7 309.7 775C310.3 781.3 311.3 784.1 313.3 789.9C315.4 795.7 318.5 803.2 321.9 809.8C325.3 816.4 329 823.9 333.6 829.6C338.2 835.2 341.1 838 349.4 843.8C357.6 849.5 373.9 859.3 383 863.8C392.1 868.3 396.5 868.8 403.9 870.8C411.4 872.7 423.7 874.7 427.7 875.5" fill="none" stroke="#e15750" stroke-width="4.2" stroke-linecap="round"/>
<path d="M323.6 709.5C322 712.9 316.3 722.9 314 730C311.7 737.1 310.7 744.5 310 752C309.3 759.5 309.1 768.7 309.7 775C310.3 781.3 311.3 784.1 313.3 789.9C315.4 795.7 318.5 803.2 321.9 809.8C325.3 816.4 329 823.9 333.6 829.6C338.2 835.2 341.1 838 349.4 843.8C357.6 849.5 373.9 859.3 383 863.8C392.1 868.3 396.5 868.8 403.9 870.8C411.4 872.7 423.7 874.7 427.7 875.5" fill="none" stroke="#ec6c65" stroke-width="1.7" stroke-linecap="round"/>
<path d="M327.2 721.5C326.1 724.8 321.9 735.1 320.5 741C319.1 746.9 318.9 751.3 318.6 757C318.3 762.7 318.5 769.5 318.8 775C319.1 780.5 319.2 784.3 320.7 789.8C322.2 795.2 324.9 801.7 327.8 807.6C330.8 813.5 334.1 820.1 338.2 825.1C342.4 830.2 345.3 832.9 352.8 838C360.2 843.1 374.5 851.7 383.1 855.6C391.6 859.5 396.5 860 403.9 861.5C411.2 863.1 423.3 864.4 427.1 865" fill="none" stroke="#e15750" stroke-width="4.2" stroke-linecap="round"/>
<path d="M327.2 721.5C326.1 724.8 321.9 735.1 320.5 741C319.1 746.9 318.9 751.3 318.6 757C318.3 762.7 318.5 769.5 318.8 775C319.1 780.5 319.2 784.3 320.7 789.8C322.2 795.2 324.9 801.7 327.8 807.6C330.8 813.5 334.1 820.1 338.2 825.1C342.4 830.2 345.3 832.9 352.8 838C360.2 843.1 374.5 851.7 383.1 855.6C391.6 859.5 396.5 860 403.9 861.5C411.2 863.1 423.3 864.4 427.1 865" fill="none" stroke="#ec6c65" stroke-width="1.7" stroke-linecap="round"/>
<path d="M340.2 731C339.7 734.5 338.3 744.7 337 752C335.7 759.3 333.5 768.7 332.3 775C331.1 781.3 329.6 784.5 329.9 789.6C330.1 794.7 331.6 800.3 333.7 805.4C335.9 810.6 339.1 816.2 342.9 820.7C346.6 825.2 349.4 827.8 356.1 832.2C362.8 836.7 375.1 844.1 383.1 847.4C391 850.7 396.6 851.1 403.9 852.3C411.1 853.5 422.8 854.1 426.6 854.5" fill="none" stroke="#e15750" stroke-width="4.2" stroke-linecap="round"/>
<path d="M340.2 731C339.7 734.5 338.3 744.7 337 752C335.7 759.3 333.5 768.7 332.3 775C331.1 781.3 329.6 784.5 329.9 789.6C330.1 794.7 331.6 800.3 333.7 805.4C335.9 810.6 339.1 816.2 342.9 820.7C346.6 825.2 349.4 827.8 356.1 832.2C362.8 836.7 375.1 844.1 383.1 847.4C391 850.7 396.6 851.1 403.9 852.3C411.1 853.5 422.8 854.1 426.6 854.5" fill="none" stroke="#ec6c65" stroke-width="1.7" stroke-linecap="round"/>
<path d="M352.7 729.5C352.2 733.2 351.3 744.4 349.5 752C347.7 759.6 344 768.8 342 775C340 781.2 337.8 784.7 337.4 789.5C337.1 794.2 338 798.8 339.6 803.2C341.3 807.7 344.2 812.4 347.5 816.2C350.8 820.1 353.6 822.7 359.5 826.5C365.4 830.3 375.7 836.4 383.1 839.2C390.5 842 396.6 842.3 403.8 843.1C411 843.9 422.4 843.9 426.1 844" fill="none" stroke="#e15750" stroke-width="4.2" stroke-linecap="round"/>
<path d="M352.7 729.5C352.2 733.2 351.3 744.4 349.5 752C347.7 759.6 344 768.8 342 775C340 781.2 337.8 784.7 337.4 789.5C337.1 794.2 338 798.8 339.6 803.2C341.3 807.7 344.2 812.4 347.5 816.2C350.8 820.1 353.6 822.7 359.5 826.5C365.4 830.3 375.7 836.4 383.1 839.2C390.5 842 396.6 842.3 403.8 843.1C411 843.9 422.4 843.9 426.1 844" fill="none" stroke="#ec6c65" stroke-width="1.7" stroke-linecap="round"/>
<path d="M363.8 716.5C364.4 718.2 367.6 722.6 367.5 727C367.4 731.4 365.9 735 363 743C360.1 751 353.5 767.3 350.4 775C347.3 782.7 345.3 785 344.5 789.3C343.7 793.7 344.3 797.3 345.6 801.1C346.8 804.8 349.2 808.5 352.1 811.8C355 815.1 357.7 817.6 362.9 820.8C368 823.9 376.3 828.8 383.1 831C389.9 833.2 396.7 833.5 403.8 833.9C410.8 834.3 421.9 833.6 425.6 833.5" fill="none" stroke="#e15750" stroke-width="4.2" stroke-linecap="round"/>
<path d="M363.8 716.5C364.4 718.2 367.6 722.6 367.5 727C367.4 731.4 365.9 735 363 743C360.1 751 353.5 767.3 350.4 775C347.3 782.7 345.3 785 344.5 789.3C343.7 793.7 344.3 797.3 345.6 801.1C346.8 804.8 349.2 808.5 352.1 811.8C355 815.1 357.7 817.6 362.9 820.8C368 823.9 376.3 828.8 383.1 831C389.9 833.2 396.7 833.5 403.8 833.9C410.8 834.3 421.9 833.6 425.6 833.5" fill="none" stroke="#ec6c65" stroke-width="1.7" stroke-linecap="round"/>
<path d="M362.8 707.5C363.9 708.2 367.7 708.8 369.5 712C371.3 715.2 373.5 721.8 373.5 727C373.5 732.2 372.3 735 369.7 743C367.1 751 360.9 767.3 357.8 775C354.7 782.7 352.2 785.2 351.1 789.2C350.1 793.2 350.5 795.8 351.5 798.9C352.4 801.9 354.3 804.7 356.8 807.4C359.2 810.1 361.9 812.4 366.2 815C370.6 817.6 376.9 821.2 383.1 822.8C389.4 824.4 396.7 824.6 403.7 824.7C410.7 824.7 421.5 823.3 425.1 823" fill="none" stroke="#e15750" stroke-width="4.2" stroke-linecap="round"/>
<path d="M362.8 707.5C363.9 708.2 367.7 708.8 369.5 712C371.3 715.2 373.5 721.8 373.5 727C373.5 732.2 372.3 735 369.7 743C367.1 751 360.9 767.3 357.8 775C354.7 782.7 352.2 785.2 351.1 789.2C350.1 793.2 350.5 795.8 351.5 798.9C352.4 801.9 354.3 804.7 356.8 807.4C359.2 810.1 361.9 812.4 366.2 815C370.6 817.6 376.9 821.2 383.1 822.8C389.4 824.4 396.7 824.6 403.7 824.7C410.7 824.7 421.5 823.3 425.1 823" fill="none" stroke="#ec6c65" stroke-width="1.7" stroke-linecap="round"/>
<path d="M361 699.5C362.5 700 367 698.8 370 702.5C373 706.2 377.9 715.2 379 722C380.1 728.8 378.9 734.2 376.4 743C373.9 751.8 367.2 767.3 364 775C360.8 782.7 358.4 785.5 357.3 789.1C356.2 792.7 356.7 794.4 357.4 796.7C358.1 799 359.3 800.8 361.4 802.9C363.4 805 366 807.3 369.6 809.2C373.3 811.2 377.5 813.6 383.2 814.6C388.8 815.6 396.8 815.8 403.7 815.4C410.5 815.1 421 813 424.5 812.5" fill="none" stroke="#e15750" stroke-width="4.2" stroke-linecap="round"/>
<path d="M361 699.5C362.5 700 367 698.8 370 702.5C373 706.2 377.9 715.2 379 722C380.1 728.8 378.9 734.2 376.4 743C373.9 751.8 367.2 767.3 364 775C360.8 782.7 358.4 785.5 357.3 789.1C356.2 792.7 356.7 794.4 357.4 796.7C358.1 799 359.3 800.8 361.4 802.9C363.4 805 366 807.3 369.6 809.2C373.3 811.2 377.5 813.6 383.2 814.6C388.8 815.6 396.8 815.8 403.7 815.4C410.5 815.1 421 813 424.5 812.5" fill="none" stroke="#ec6c65" stroke-width="1.7" stroke-linecap="round"/>
<path d="M359 691.5C361.7 692.5 370.7 693.1 375 697.5C379.3 701.9 383.7 710.4 385 718C386.3 725.6 385.5 733.5 382.7 743C379.9 752.5 371.4 767.3 368 775C364.6 782.7 363.3 785.8 362.5 789C361.7 792.2 362.7 792.9 363.3 794.5C363.9 796.1 364.4 797 366 798.5C367.6 800 370.1 802.2 373 803.5C375.9 804.8 378.1 805.9 383.2 806.4C388.3 806.9 396.8 806.9 403.6 806.2C410.4 805.5 420.6 802.7 424 802" fill="none" stroke="#e15750" stroke-width="4.2" stroke-linecap="round"/>
<path d="M359 691.5C361.7 692.5 370.7 693.1 375 697.5C379.3 701.9 383.7 710.4 385 718C386.3 725.6 385.5 733.5 382.7 743C379.9 752.5 371.4 767.3 368 775C364.6 782.7 363.3 785.8 362.5 789C361.7 792.2 362.7 792.9 363.3 794.5C363.9 796.1 364.4 797 366 798.5C367.6 800 370.1 802.2 373 803.5C375.9 804.8 378.1 805.9 383.2 806.4C388.3 806.9 396.8 806.9 403.6 806.2C410.4 805.5 420.6 802.7 424 802" fill="none" stroke="#ec6c65" stroke-width="1.7" stroke-linecap="round"/>
<path d="M561.5 696.3 L564.1 699.8 L566.9 703.2 L569.6 706.7 L572.2 710.2 L574.6 713.7 L576.5 717.5 L578 721.4 L579.1 725.3 L580 729.3 L580.6 733.5 L581.1 737.9 L581.5 742.5 L581.8 747.7 L581.9 753.4 L581.8 759.4 L581.6 765.2 L581.3 770.5 L581 775 L580.6 778.4 L580.1 781 L579.5 783.2 L578.8 785.1 L578 787.3 L577 790 L575.8 793.3 L574.5 796.8 L573.1 800.6 L571.5 804.4 L569.8 808.3 L568 812 L566.1 815.7 L564.1 819.6 L562 823.4 L559.8 827.1 L557.4 830.7 L555 834 L552.6 836.9 L550.4 839.4 L548 841.7 L545.3 844.1 L542 846.6 L538 849.5 L532.8 853 L526.6 857 L519.8 861.2 L512.9 865.3 L506.5 869 L501 872 L496.6 874.2 L492.9 875.8 L489.7 877 L486.6 878 L483.5 879 L480 880 L476.2 881.1 L472.2 882.1 L468.1 883.1 L464 884.1 L459.9 885 L455.8 886 L460 802 L463.4 802.7 L466.8 803.5 L470.2 804.4 L473.6 805.1 L477 805.7 L480.4 806.2 L483.9 806.5 L487.6 806.7 L491.2 806.7 L494.8 806.7 L498 806.6 L500.8 806.4 L503.1 806.1 L505.1 805.7 L506.7 805.3 L508.2 804.7 L509.6 804.1 L511 803.5 L512.4 802.8 L513.7 802 L515 801.1 L516.1 800.2 L517.1 799.3 L518 798.5 L518.7 797.8 L519.3 797.1 L519.7 796.5 L520.1 795.9 L520.4 795.2 L520.7 794.5 L521 793.8 L521.3 793.1 L521.6 792.4 L521.8 791.5 L521.8 790.4 L521.5 789 L521.1 787.4 L520.5 785.6 L519.7 783.7 L518.7 781.3 L517.5 778.5 L516 775 L513.9 770.6 L511.3 765.4 L508.5 759.7 L505.6 753.8 L503.1 748.1 L501.3 743 L500.1 738.4 L499.2 734 L498.6 729.8 L498.4 725.7 L498.5 721.8 L499 718 L499.9 714.2 L501.2 710.3 L502.9 706.6 L504.8 703.1 L506.8 700 L509 697.5 L511.3 695.7 L513.9 694.4 L516.6 693.6 L519.4 693 L522.3 692.3 L525 691.5Z" fill="#9ec3dc"/>
<path d="M561.5 696.3C564 699.8 573.2 709.8 576.5 717.5C579.8 725.2 580.8 732.9 581.5 742.5C582.2 752.1 581.8 767.1 581 775C580.2 782.9 579.2 783.8 577 790C574.8 796.2 571.7 804.7 568 812C564.3 819.3 560 827.8 555 834C550 840.2 547 843.2 538 849.5C529 855.8 510.7 866.9 501 872C491.3 877.1 487.5 877.7 480 880C472.5 882.3 459.8 885 455.8 886" fill="none" stroke="#1c7fcb" stroke-width="4.2" stroke-linecap="round"/>
<path d="M561.5 696.3C564 699.8 573.2 709.8 576.5 717.5C579.8 725.2 580.8 732.9 581.5 742.5C582.2 752.1 581.8 767.1 581 775C580.2 782.9 579.2 783.8 577 790C574.8 796.2 571.7 804.7 568 812C564.3 819.3 560 827.8 555 834C550 840.2 547 843.2 538 849.5C529 855.8 510.7 866.9 501 872C491.3 877.1 487.5 877.7 480 880C472.5 882.3 459.8 885 455.8 886" fill="none" stroke="#2e9fe6" stroke-width="1.7" stroke-linecap="round"/>
<path d="M560.4 709.5C562 712.9 567.7 722.9 570 730C572.3 737.1 573.3 744.5 574 752C574.7 759.5 574.9 768.7 574.3 775C573.7 781.3 572.7 784.1 570.7 789.9C568.6 795.7 565.5 803.2 562.1 809.8C558.7 816.4 555 823.9 550.4 829.6C545.8 835.2 542.9 838 534.6 843.8C526.4 849.5 510.1 859.3 501 863.8C491.9 868.3 487.5 868.8 480.1 870.8C472.6 872.7 460.3 874.7 456.3 875.5" fill="none" stroke="#1c7fcb" stroke-width="4.2" stroke-linecap="round"/>
<path d="M560.4 709.5C562 712.9 567.7 722.9 570 730C572.3 737.1 573.3 744.5 574 752C574.7 759.5 574.9 768.7 574.3 775C573.7 781.3 572.7 784.1 570.7 789.9C568.6 795.7 565.5 803.2 562.1 809.8C558.7 816.4 555 823.9 550.4 829.6C545.8 835.2 542.9 838 534.6 843.8C526.4 849.5 510.1 859.3 501 863.8C491.9 868.3 487.5 868.8 480.1 870.8C472.6 872.7 460.3 874.7 456.3 875.5" fill="none" stroke="#2e9fe6" stroke-width="1.7" stroke-linecap="round"/>
<path d="M556.8 721.5C557.9 724.8 562.1 735.1 563.5 741C564.9 746.9 565.1 751.3 565.4 757C565.7 762.7 565.5 769.5 565.2 775C564.9 780.5 564.8 784.3 563.3 789.8C561.8 795.2 559.1 801.7 556.2 807.6C553.2 813.5 549.9 820.1 545.8 825.1C541.6 830.2 538.7 832.9 531.2 838C523.8 843.1 509.5 851.7 500.9 855.6C492.4 859.5 487.5 860 480.1 861.5C472.8 863.1 460.7 864.4 456.9 865" fill="none" stroke="#1c7fcb" stroke-width="4.2" stroke-linecap="round"/>
<path d="M556.8 721.5C557.9 724.8 562.1 735.1 563.5 741C564.9 746.9 565.1 751.3 565.4 757C565.7 762.7 565.5 769.5 565.2 775C564.9 780.5 564.8 784.3 563.3 789.8C561.8 795.2 559.1 801.7 556.2 807.6C553.2 813.5 549.9 820.1 545.8 825.1C541.6 830.2 538.7 832.9 531.2 838C523.8 843.1 509.5 851.7 500.9 855.6C492.4 859.5 487.5 860 480.1 861.5C472.8 863.1 460.7 864.4 456.9 865" fill="none" stroke="#2e9fe6" stroke-width="1.7" stroke-linecap="round"/>
<path d="M543.8 731C544.3 734.5 545.7 744.7 547 752C548.3 759.3 550.5 768.7 551.7 775C552.9 781.3 554.4 784.5 554.1 789.6C553.9 794.7 552.4 800.3 550.3 805.4C548.1 810.6 544.9 816.2 541.1 820.7C537.4 825.2 534.6 827.8 527.9 832.2C521.2 836.7 508.9 844.1 500.9 847.4C493 850.7 487.4 851.1 480.1 852.3C472.9 853.5 461.2 854.1 457.4 854.5" fill="none" stroke="#1c7fcb" stroke-width="4.2" stroke-linecap="round"/>
<path d="M543.8 731C544.3 734.5 545.7 744.7 547 752C548.3 759.3 550.5 768.7 551.7 775C552.9 781.3 554.4 784.5 554.1 789.6C553.9 794.7 552.4 800.3 550.3 805.4C548.1 810.6 544.9 816.2 541.1 820.7C537.4 825.2 534.6 827.8 527.9 832.2C521.2 836.7 508.9 844.1 500.9 847.4C493 850.7 487.4 851.1 480.1 852.3C472.9 853.5 461.2 854.1 457.4 854.5" fill="none" stroke="#2e9fe6" stroke-width="1.7" stroke-linecap="round"/>
<path d="M531.3 729.5C531.8 733.2 532.7 744.4 534.5 752C536.3 759.6 540 768.8 542 775C544 781.2 546.2 784.7 546.6 789.5C546.9 794.2 546 798.8 544.4 803.2C542.7 807.7 539.8 812.4 536.5 816.2C533.2 820.1 530.4 822.7 524.5 826.5C518.6 830.3 508.3 836.4 500.9 839.2C493.5 842 487.4 842.3 480.2 843.1C473 843.9 461.6 843.9 457.9 844" fill="none" stroke="#1c7fcb" stroke-width="4.2" stroke-linecap="round"/>
<path d="M531.3 729.5C531.8 733.2 532.7 744.4 534.5 752C536.3 759.6 540 768.8 542 775C544 781.2 546.2 784.7 546.6 789.5C546.9 794.2 546 798.8 544.4 803.2C542.7 807.7 539.8 812.4 536.5 816.2C533.2 820.1 530.4 822.7 524.5 826.5C518.6 830.3 508.3 836.4 500.9 839.2C493.5 842 487.4 842.3 480.2 843.1C473 843.9 461.6 843.9 457.9 844" fill="none" stroke="#2e9fe6" stroke-width="1.7" stroke-linecap="round"/>
<path d="M520.2 716.5C519.6 718.2 516.4 722.6 516.5 727C516.6 731.4 518.1 735 521 743C523.9 751 530.5 767.3 533.6 775C536.7 782.7 538.7 785 539.5 789.3C540.3 793.7 539.7 797.3 538.4 801.1C537.2 804.8 534.8 808.5 531.9 811.8C529 815.1 526.3 817.6 521.1 820.8C516 823.9 507.7 828.8 500.9 831C494.1 833.2 487.3 833.5 480.2 833.9C473.2 834.3 462.1 833.6 458.4 833.5" fill="none" stroke="#1c7fcb" stroke-width="4.2" stroke-linecap="round"/>
<path d="M520.2 716.5C519.6 718.2 516.4 722.6 516.5 727C516.6 731.4 518.1 735 521 743C523.9 751 530.5 767.3 533.6 775C536.7 782.7 538.7 785 539.5 789.3C540.3 793.7 539.7 797.3 538.4 801.1C537.2 804.8 534.8 808.5 531.9 811.8C529 815.1 526.3 817.6 521.1 820.8C516 823.9 507.7 828.8 500.9 831C494.1 833.2 487.3 833.5 480.2 833.9C473.2 834.3 462.1 833.6 458.4 833.5" fill="none" stroke="#2e9fe6" stroke-width="1.7" stroke-linecap="round"/>
<path d="M521.2 707.5C520.1 708.2 516.3 708.8 514.5 712C512.7 715.2 510.5 721.8 510.5 727C510.5 732.2 511.7 735 514.3 743C516.9 751 523.1 767.3 526.2 775C529.3 782.7 531.8 785.2 532.9 789.2C533.9 793.2 533.5 795.8 532.5 798.9C531.6 801.9 529.7 804.7 527.2 807.4C524.8 810.1 522.1 812.4 517.8 815C513.4 817.6 507.1 821.2 500.9 822.8C494.6 824.4 487.3 824.6 480.3 824.7C473.3 824.7 462.5 823.3 458.9 823" fill="none" stroke="#1c7fcb" stroke-width="4.2" stroke-linecap="round"/>
<path d="M521.2 707.5C520.1 708.2 516.3 708.8 514.5 712C512.7 715.2 510.5 721.8 510.5 727C510.5 732.2 511.7 735 514.3 743C516.9 751 523.1 767.3 526.2 775C529.3 782.7 531.8 785.2 532.9 789.2C533.9 793.2 533.5 795.8 532.5 798.9C531.6 801.9 529.7 804.7 527.2 807.4C524.8 810.1 522.1 812.4 517.8 815C513.4 817.6 507.1 821.2 500.9 822.8C494.6 824.4 487.3 824.6 480.3 824.7C473.3 824.7 462.5 823.3 458.9 823" fill="none" stroke="#2e9fe6" stroke-width="1.7" stroke-linecap="round"/>
<path d="M523 699.5C521.5 700 517 698.8 514 702.5C511 706.2 506.1 715.2 505 722C503.9 728.8 505.1 734.2 507.6 743C510.1 751.8 516.8 767.3 520 775C523.2 782.7 525.6 785.5 526.7 789.1C527.8 792.7 527.3 794.4 526.6 796.7C525.9 799 524.7 800.8 522.6 802.9C520.6 805 518 807.3 514.4 809.2C510.7 811.2 506.5 813.6 500.8 814.6C495.2 815.6 487.2 815.8 480.3 815.4C473.5 815.1 463 813 459.5 812.5" fill="none" stroke="#1c7fcb" stroke-width="4.2" stroke-linecap="round"/>
<path d="M523 699.5C521.5 700 517 698.8 514 702.5C511 706.2 506.1 715.2 505 722C503.9 728.8 505.1 734.2 507.6 743C510.1 751.8 516.8 767.3 520 775C523.2 782.7 525.6 785.5 526.7 789.1C527.8 792.7 527.3 794.4 526.6 796.7C525.9 799 524.7 800.8 522.6 802.9C520.6 805 518 807.3 514.4 809.2C510.7 811.2 506.5 813.6 500.8 814.6C495.2 815.6 487.2 815.8 480.3 815.4C473.5 815.1 463 813 459.5 812.5" fill="none" stroke="#2e9fe6" stroke-width="1.7" stroke-linecap="round"/>
<path d="M525 691.5C522.3 692.5 513.3 693.1 509 697.5C504.7 701.9 500.3 710.4 499 718C497.7 725.6 498.5 733.5 501.3 743C504.1 752.5 512.6 767.3 516 775C519.4 782.7 520.7 785.8 521.5 789C522.3 792.2 521.3 792.9 520.7 794.5C520.1 796.1 519.6 797 518 798.5C516.4 800 513.9 802.2 511 803.5C508.1 804.8 505.9 805.9 500.8 806.4C495.7 806.9 487.2 806.9 480.4 806.2C473.6 805.5 463.4 802.7 460 802" fill="none" stroke="#1c7fcb" stroke-width="4.2" stroke-linecap="round"/>
<path d="M525 691.5C522.3 692.5 513.3 693.1 509 697.5C504.7 701.9 500.3 710.4 499 718C497.7 725.6 498.5 733.5 501.3 743C504.1 752.5 512.6 767.3 516 775C519.4 782.7 520.7 785.8 521.5 789C522.3 792.2 521.3 792.9 520.7 794.5C520.1 796.1 519.6 797 518 798.5C516.4 800 513.9 802.2 511 803.5C508.1 804.8 505.9 805.9 500.8 806.4C495.7 806.9 487.2 806.9 480.4 806.2C473.6 805.5 463.4 802.7 460 802" fill="none" stroke="#2e9fe6" stroke-width="1.7" stroke-linecap="round"/>
<path d="M364 706 L364.6 707.4 L364.9 708.8 L364.9 710.2 L364.7 711.6 L364.4 712.9 L363.9 714.2 L363.3 715.4 L362.2 716.4 L362.4 717.9 L362.1 719.2 L361.7 720.5 L361.1 721.7 L360.3 722.8 L359.5 723.7 L358.5 724.5 L357.2 725 L356.8 726.3 L356.1 727.4 L355.3 728.3 L354.4 729.1 L353.3 729.7 L352.2 730.2 L351.1 730.4 L349.8 730.3 L349 731.3 L348 731.9 L346.9 732.3 L345.8 732.6 L344.6 732.6 L343.5 732.5 L342.4 732.1 L341.4 731.4 L340.2 731.9 L339 731.9 L337.9 731.7 L336.8 731.4 L335.7 730.9 L334.8 730.2 L333.9 729.3 L333.2 728.1 L332 728 L330.9 727.4 L329.9 726.7 L329 725.8 L328.2 724.8 L327.5 723.7 L327 722.5 L326.9 721 L325.7 720.3 L324.9 719.2 L324.2 718.1 L323.7 716.9 L323.3 715.5 L323.1 714.2 L323 712.8 L323.4 711.3 L322.6 710.1 L322.1 708.8 L321.9 707.4 L321.8 706 L321.9 704.6 L322.1 703.2 L322.6 701.9 L323.4 700.7 L323 699.2 L323.1 697.8 L323.3 696.5 L323.7 695.1 L324.2 693.9 L324.9 692.8 L325.7 691.7 L326.9 691 L327 689.5 L327.5 688.3 L328.2 687.2 L329 686.2 L329.9 685.3 L330.9 684.6 L332 684 L333.2 683.9 L333.9 682.7 L334.8 681.8 L335.7 681.1 L336.8 680.6 L337.9 680.3 L339 680.1 L340.2 680.1 L341.4 680.6 L342.4 679.9 L343.5 679.5 L344.6 679.4 L345.8 679.4 L346.9 679.7 L348 680.1 L349 680.7 L349.8 681.7 L351.1 681.6 L352.2 681.8 L353.3 682.3 L354.4 682.9 L355.3 683.7 L356.1 684.6 L356.8 685.7 L357.2 687 L358.5 687.5 L359.5 688.3 L360.3 689.2 L361.1 690.3 L361.7 691.5 L362.1 692.8 L362.4 694.1 L362.2 695.6 L363.3 696.6 L363.9 697.8 L364.4 699.1 L364.7 700.4 L364.9 701.8 L364.9 703.2 L364.6 704.6Z" fill="#fff"/>
<path d="M520 706 L519.4 707.4 L519.1 708.8 L519.1 710.2 L519.3 711.6 L519.6 712.9 L520.1 714.2 L520.7 715.4 L521.8 716.4 L521.6 717.9 L521.9 719.2 L522.3 720.5 L522.9 721.7 L523.7 722.8 L524.5 723.7 L525.5 724.5 L526.8 725 L527.2 726.3 L527.9 727.4 L528.7 728.3 L529.6 729.1 L530.7 729.7 L531.8 730.2 L532.9 730.4 L534.2 730.3 L535 731.3 L536 731.9 L537.1 732.3 L538.2 732.6 L539.4 732.6 L540.5 732.5 L541.6 732.1 L542.6 731.4 L543.8 731.9 L545 731.9 L546.1 731.7 L547.2 731.4 L548.3 730.9 L549.2 730.2 L550.1 729.3 L550.8 728.1 L552 728 L553.1 727.4 L554.1 726.7 L555 725.8 L555.8 724.8 L556.5 723.7 L557 722.5 L557.1 721 L558.3 720.3 L559.1 719.2 L559.8 718.1 L560.3 716.9 L560.7 715.5 L560.9 714.2 L561 712.8 L560.6 711.3 L561.4 710.1 L561.9 708.8 L562.1 707.4 L562.2 706 L562.1 704.6 L561.9 703.2 L561.4 701.9 L560.6 700.7 L561 699.2 L560.9 697.8 L560.7 696.5 L560.3 695.1 L559.8 693.9 L559.1 692.8 L558.3 691.7 L557.1 691 L557 689.5 L556.5 688.3 L555.8 687.2 L555 686.2 L554.1 685.3 L553.1 684.6 L552 684 L550.8 683.9 L550.1 682.7 L549.2 681.8 L548.3 681.1 L547.2 680.6 L546.1 680.3 L545 680.1 L543.8 680.1 L542.6 680.6 L541.6 679.9 L540.5 679.5 L539.4 679.4 L538.2 679.4 L537.1 679.7 L536 680.1 L535 680.7 L534.2 681.7 L532.9 681.6 L531.8 681.8 L530.7 682.3 L529.6 682.9 L528.7 683.7 L527.9 684.6 L527.2 685.7 L526.8 687 L525.5 687.5 L524.5 688.3 L523.7 689.2 L522.9 690.3 L522.3 691.5 L521.9 692.8 L521.6 694.1 L521.8 695.6 L520.7 696.6 L520.1 697.8 L519.6 699.1 L519.3 700.4 L519.1 701.8 L519.1 703.2 L519.4 704.6Z" fill="#fff"/>
<path d="M401.7 637.8 Q408.2 651.7 431.4 654" fill="none" stroke="#2b2d4f" stroke-width="4.6"/><path d="M401.7 637.8 Q408.2 651.7 431.4 654" fill="none" stroke="#e9625c" stroke-width="2.6"/>
<path d="M392.5 643.4 Q399.9 661 428.6 664.2" fill="none" stroke="#2b2d4f" stroke-width="4.6"/><path d="M392.5 643.4 Q399.9 661 428.6 664.2" fill="none" stroke="#e9625c" stroke-width="2.6"/>
<path d="M385 648 Q390.6 667.5 420.3 673.1" fill="none" stroke="#2b2d4f" stroke-width="4.6"/><path d="M385 648 Q390.6 667.5 420.3 673.1" fill="none" stroke="#e9625c" stroke-width="2.6"/>
<path d="M378.6 651.7 Q386 678.6 425 682.9" fill="none" stroke="#2b2d4f" stroke-width="4.6"/><path d="M378.6 651.7 Q386 678.6 425 682.9" fill="none" stroke="#e9625c" stroke-width="2.6"/>
<path d="M482.3 637.8 Q475.8 651.7 452.6 654" fill="none" stroke="#2b2d4f" stroke-width="4.6"/><path d="M482.3 637.8 Q475.8 651.7 452.6 654" fill="none" stroke="#2a9cdd" stroke-width="2.6"/>
<path d="M491.5 643.4 Q484.1 661 455.4 664.2" fill="none" stroke="#2b2d4f" stroke-width="4.6"/><path d="M491.5 643.4 Q484.1 661 455.4 664.2" fill="none" stroke="#2a9cdd" stroke-width="2.6"/>
<path d="M499 648 Q493.4 667.5 463.7 673.1" fill="none" stroke="#2b2d4f" stroke-width="4.6"/><path d="M499 648 Q493.4 667.5 463.7 673.1" fill="none" stroke="#2a9cdd" stroke-width="2.6"/>
<path d="M505.4 651.7 Q498 678.6 459 682.9" fill="none" stroke="#2b2d4f" stroke-width="4.6"/><path d="M505.4 651.7 Q498 678.6 459 682.9" fill="none" stroke="#2a9cdd" stroke-width="2.6"/>
<path d="M334.6 683 Q331 691 325 695" fill="none" stroke="#2b2d4f" stroke-width="4.4" stroke-linecap="round"/><path d="M334.6 683 Q331 691 325 695" fill="none" stroke="#e9625c" stroke-width="2.4" stroke-linecap="round"/>
<path d="M333.2 695 Q331 704.5 326 709" fill="none" stroke="#2b2d4f" stroke-width="4.4" stroke-linecap="round"/><path d="M333.2 695 Q331 704.5 326 709" fill="none" stroke="#e9625c" stroke-width="2.4" stroke-linecap="round"/>
<path d="M335.5 709 Q334 717 330 720.8" fill="none" stroke="#2b2d4f" stroke-width="4.4" stroke-linecap="round"/><path d="M335.5 709 Q334 717 330 720.8" fill="none" stroke="#e9625c" stroke-width="2.4" stroke-linecap="round"/>
<path d="M343.3 683 Q346.5 689.5 353.8 691.3" fill="none" stroke="#2b2d4f" stroke-width="4.4" stroke-linecap="round"/><path d="M343.3 683 Q346.5 689.5 353.8 691.3" fill="none" stroke="#e9625c" stroke-width="2.4" stroke-linecap="round"/>
<path d="M343.5 693 Q346 699.5 353.2 700.3" fill="none" stroke="#2b2d4f" stroke-width="4.4" stroke-linecap="round"/><path d="M343.5 693 Q346 699.5 353.2 700.3" fill="none" stroke="#e9625c" stroke-width="2.4" stroke-linecap="round"/>
<path d="M345 704 Q348 711 355 712.6" fill="none" stroke="#2b2d4f" stroke-width="4.4" stroke-linecap="round"/><path d="M345 704 Q348 711 355 712.6" fill="none" stroke="#e9625c" stroke-width="2.4" stroke-linecap="round"/>
<path d="M549.4 683 Q553 691 559 695" fill="none" stroke="#2b2d4f" stroke-width="4.4" stroke-linecap="round"/><path d="M549.4 683 Q553 691 559 695" fill="none" stroke="#2a9cdd" stroke-width="2.4" stroke-linecap="round"/>
<path d="M550.8 695 Q553 704.5 558 709" fill="none" stroke="#2b2d4f" stroke-width="4.4" stroke-linecap="round"/><path d="M550.8 695 Q553 704.5 558 709" fill="none" stroke="#2a9cdd" stroke-width="2.4" stroke-linecap="round"/>
<path d="M548.5 709 Q550 717 554 720.8" fill="none" stroke="#2b2d4f" stroke-width="4.4" stroke-linecap="round"/><path d="M548.5 709 Q550 717 554 720.8" fill="none" stroke="#2a9cdd" stroke-width="2.4" stroke-linecap="round"/>
<path d="M540.7 683 Q537.5 689.5 530.2 691.3" fill="none" stroke="#2b2d4f" stroke-width="4.4" stroke-linecap="round"/><path d="M540.7 683 Q537.5 689.5 530.2 691.3" fill="none" stroke="#2a9cdd" stroke-width="2.4" stroke-linecap="round"/>
<path d="M540.5 693 Q538 699.5 530.8 700.3" fill="none" stroke="#2b2d4f" stroke-width="4.4" stroke-linecap="round"/><path d="M540.5 693 Q538 699.5 530.8 700.3" fill="none" stroke="#2a9cdd" stroke-width="2.4" stroke-linecap="round"/>
<path d="M539 704 Q536 711 529 712.6" fill="none" stroke="#2b2d4f" stroke-width="4.4" stroke-linecap="round"/><path d="M539 704 Q536 711 529 712.6" fill="none" stroke="#2a9cdd" stroke-width="2.4" stroke-linecap="round"/>
<path d="M363.6 546.6C363.8 547 364.2 547.7 365 549.2C365.8 550.7 366.5 553.2 368.6 555.8C370.7 558.4 374 562.1 377.5 564.9C381 567.6 385.5 570.1 389.5 572.3C393.5 574.5 397.4 576.3 401.2 578.1C405.1 579.9 409.4 581.3 412.5 583.1C415.6 584.9 418.1 586.6 420 588.8C421.9 590.9 423.3 593.8 423.9 596.2C424.5 598.8 424.3 601.2 423.6 603.8C422.9 606.2 421.8 608.5 419.5 611.2C417.2 614 413.7 617.2 410 620C406.3 622.8 402.1 625.3 397.5 628.1C392.9 630.9 387.5 634 382.5 637C377.5 640 371.9 643.2 367.5 646C363.1 648.8 360.3 650.5 356.2 653.8C352.2 657 346.3 661.5 343 665.5C339.7 669.5 337.9 673 336.5 677.5C335.1 682 334.3 687.5 334.3 692.5C334.3 697.5 335.5 702.9 336.4 707.5C337.3 712.1 339 717.9 339.5 720" fill="none" stroke="#2b2d4f" stroke-width="4.4" stroke-linecap="butt" /><path d="M363.6 546.6C363.8 547 364.2 547.7 365 549.2C365.8 550.7 366.5 553.2 368.6 555.8C370.7 558.4 374 562.1 377.5 564.9C381 567.6 385.5 570.1 389.5 572.3C393.5 574.5 397.4 576.3 401.2 578.1C405.1 579.9 409.4 581.3 412.5 583.1C415.6 584.9 418.1 586.6 420 588.8C421.9 590.9 423.3 593.8 423.9 596.2C424.5 598.8 424.3 601.2 423.6 603.8C422.9 606.2 421.8 608.5 419.5 611.2C417.2 614 413.7 617.2 410 620C406.3 622.8 402.1 625.3 397.5 628.1C392.9 630.9 387.5 634 382.5 637C377.5 640 371.9 643.2 367.5 646C363.1 648.8 360.3 650.5 356.2 653.8C352.2 657 346.3 661.5 343 665.5C339.7 669.5 337.9 673 336.5 677.5C335.1 682 334.3 687.5 334.3 692.5C334.3 697.5 335.5 702.9 336.4 707.5C337.3 712.1 339 717.9 339.5 720" fill="none" stroke="#e9625c" stroke-width="2.4" stroke-linecap="butt" />
<path d="M520.4 546.6C520.2 547 519.8 547.7 519 549.2C518.2 550.7 517.5 553.2 515.4 555.8C513.3 558.4 510 562.1 506.5 564.9C503 567.6 498.5 570.1 494.5 572.3C490.5 574.5 486.6 576.3 482.8 578.1C478.9 579.9 474.6 581.3 471.5 583.1C468.4 584.9 465.9 586.6 464 588.8C462.1 590.9 460.7 593.8 460.1 596.2C459.5 598.8 459.7 601.2 460.4 603.8C461.1 606.2 462.2 608.5 464.5 611.2C466.8 614 470.3 617.2 474 620C477.7 622.8 481.9 625.3 486.5 628.1C491.1 630.9 496.5 634 501.5 637C506.5 640 512.1 643.2 516.5 646C520.9 648.8 523.7 650.5 527.8 653.8C531.8 657 537.7 661.5 541 665.5C544.3 669.5 546 673 547.5 677.5C549 682 549.7 687.5 549.7 692.5C549.7 697.5 548.5 702.9 547.6 707.5C546.7 712.1 545 717.9 544.5 720" fill="none" stroke="#2b2d4f" stroke-width="5.0" stroke-linecap="butt" /><path d="M520.4 546.6C520.2 547 519.8 547.7 519 549.2C518.2 550.7 517.5 553.2 515.4 555.8C513.3 558.4 510 562.1 506.5 564.9C503 567.6 498.5 570.1 494.5 572.3C490.5 574.5 486.6 576.3 482.8 578.1C478.9 579.9 474.6 581.3 471.5 583.1C468.4 584.9 465.9 586.6 464 588.8C462.1 590.9 460.7 593.8 460.1 596.2C459.5 598.8 459.7 601.2 460.4 603.8C461.1 606.2 462.2 608.5 464.5 611.2C466.8 614 470.3 617.2 474 620C477.7 622.8 481.9 625.3 486.5 628.1C491.1 630.9 496.5 634 501.5 637C506.5 640 512.1 643.2 516.5 646C520.9 648.8 523.7 650.5 527.8 653.8C531.8 657 537.7 661.5 541 665.5C544.3 669.5 546 673 547.5 677.5C549 682 549.7 687.5 549.7 692.5C549.7 697.5 548.5 702.9 547.6 707.5C546.7 712.1 545 717.9 544.5 720" fill="none" stroke="#2a9cdd" stroke-width="3.0" stroke-linecap="butt" />
<path d="M508 540.6C507.8 541.2 507.6 542.8 507 544.5C506.4 546.2 506.3 548.2 504.4 551C502.5 553.8 499 558 495.4 561C491.8 564 486.9 566.6 482.5 568.9C478.1 571.2 473.1 572.9 469 575C464.9 577.1 461.1 578.8 457.8 581.2C454.4 583.8 451.6 586.6 449 590C446.4 593.4 444.4 598 442 601.5C439.6 605 437.3 608 434.5 611C431.7 614 429 616.5 425.2 619.5C421.5 622.5 417.3 625.5 412 629C406.7 632.5 399.6 636.9 393.5 640.5C387.4 644.1 381.1 647.3 375.5 650.5C369.9 653.7 364.2 656.4 359.8 659.5C355.3 662.6 351.5 665.6 348.8 669C346.1 672.4 344.4 676 343.6 680C342.8 684 343.4 688.7 343.7 693C344 697.3 344.5 701.6 345.3 706C346.1 710.4 348.1 717.2 348.7 719.5" fill="none" stroke="#2b2d4f" stroke-width="4.4" stroke-linecap="butt" /><path d="M508 540.6C507.8 541.2 507.6 542.8 507 544.5C506.4 546.2 506.3 548.2 504.4 551C502.5 553.8 499 558 495.4 561C491.8 564 486.9 566.6 482.5 568.9C478.1 571.2 473.1 572.9 469 575C464.9 577.1 461.1 578.8 457.8 581.2C454.4 583.8 451.6 586.6 449 590C446.4 593.4 444.4 598 442 601.5C439.6 605 437.3 608 434.5 611C431.7 614 429 616.5 425.2 619.5C421.5 622.5 417.3 625.5 412 629C406.7 632.5 399.6 636.9 393.5 640.5C387.4 644.1 381.1 647.3 375.5 650.5C369.9 653.7 364.2 656.4 359.8 659.5C355.3 662.6 351.5 665.6 348.8 669C346.1 672.4 344.4 676 343.6 680C342.8 684 343.4 688.7 343.7 693C344 697.3 344.5 701.6 345.3 706C346.1 710.4 348.1 717.2 348.7 719.5" fill="none" stroke="#e9625c" stroke-width="2.4" stroke-linecap="butt" />
<path d="M376 540.6C376.2 541.2 376.4 542.8 377 544.5C377.6 546.2 377.7 548.2 379.6 551C381.5 553.8 385 558 388.6 561C392.2 564 397.1 566.6 401.5 568.9C405.9 571.2 410.9 572.9 415 575C419.1 577.1 422.9 578.8 426.2 581.2C429.6 583.8 432.4 586.6 435 590C437.6 593.4 439.6 598 442 601.5C444.4 605 446.7 608 449.5 611C452.3 614 455 616.5 458.8 619.5C462.5 622.5 466.7 625.5 472 629C477.3 632.5 484.4 636.9 490.5 640.5C496.6 644.1 502.9 647.3 508.5 650.5C514.1 653.7 519.8 656.4 524.2 659.5C528.7 662.6 532.5 665.6 535.2 669C537.9 672.4 539.5 676 540.4 680C541.2 684 540.6 688.7 540.3 693C540 697.3 539.5 701.6 538.7 706C537.9 710.4 535.9 717.2 535.3 719.5" fill="none" stroke="#2b2d4f" stroke-width="5.0" stroke-linecap="butt" /><path d="M376 540.6C376.2 541.2 376.4 542.8 377 544.5C377.6 546.2 377.7 548.2 379.6 551C381.5 553.8 385 558 388.6 561C392.2 564 397.1 566.6 401.5 568.9C405.9 571.2 410.9 572.9 415 575C419.1 577.1 422.9 578.8 426.2 581.2C429.6 583.8 432.4 586.6 435 590C437.6 593.4 439.6 598 442 601.5C444.4 605 446.7 608 449.5 611C452.3 614 455 616.5 458.8 619.5C462.5 622.5 466.7 625.5 472 629C477.3 632.5 484.4 636.9 490.5 640.5C496.6 644.1 502.9 647.3 508.5 650.5C514.1 653.7 519.8 656.4 524.2 659.5C528.7 662.6 532.5 665.6 535.2 669C537.9 672.4 539.5 676 540.4 680C541.2 684 540.6 688.7 540.3 693C540 697.3 539.5 701.6 538.7 706C537.9 710.4 535.9 717.2 535.3 719.5" fill="none" stroke="#2a9cdd" stroke-width="3.0" stroke-linecap="butt" />
<path d="M416.1 566.4 L415.5 564.1 L414.8 561.9 L413.8 559.8 L412.7 557.8 L411.4 556 L409.9 554.5 L408.2 553.2 L406.5 552.1 L404.7 551.3 L402.8 550.8 L400.8 550.6 L398.9 550.7 L397 551.1 L395.1 551.7 L393.3 552.7 L391.6 553.9 L390.1 555.3 L388.7 557 L387.4 558.9 L386.4 560.9 L385.6 563.1 L385 565.4 L384.6 567.8 L384.4 570.2 L384.5 572.6 L384.8 575 L385.3 577.3 L386.1 579.6 L387.1 581.7 L388.2 583.6 L389.6 585.3 L391.1 586.9 L392.7 588.2 L394.5 589.2 L396.3 589.9 L398.2 590.4 L400.2 590.6 L402.1 590.5 L404 590.1 L405.9 589.4" fill="none" stroke="#2b2d4f" stroke-width="1.3" stroke-linecap="round"/><path d="M467.9 566.4 L468.5 564.1 L469.2 561.9 L470.2 559.8 L471.3 557.8 L472.6 556 L474.1 554.5 L475.8 553.2 L477.5 552.1 L479.3 551.3 L481.2 550.8 L483.2 550.6 L485.1 550.7 L487 551.1 L488.9 551.7 L490.7 552.7 L492.4 553.9 L493.9 555.3 L495.3 557 L496.6 558.9 L497.6 560.9 L498.4 563.1 L499 565.4 L499.4 567.8 L499.6 570.2 L499.5 572.6 L499.2 575 L498.7 577.3 L497.9 579.6 L496.9 581.7 L495.8 583.6 L494.4 585.3 L492.9 586.9 L491.3 588.2 L489.5 589.2 L487.7 589.9 L485.8 590.4 L483.8 590.6 L481.9 590.5 L480 590.1 L478.1 589.4" fill="none" stroke="#2b2d4f" stroke-width="1.3" stroke-linecap="round"/>
<path d="M352.6 642.7 L350.2 643 L347.8 643.6 L345.5 644.4 L343.4 645.4 L341.4 646.7 L339.6 648.2 L338 649.9 L336.6 651.7 L335.5 653.6 L334.7 655.7 L334.1 657.8 L333.8 660 L333.8 662.2 L334.1 664.4 L334.7 666.5 L335.6 668.5 L336.7 670.5 L338.1 672.3 L339.8 673.9 L341.6 675.4 L343.6 676.7 L345.7 677.7 L348 678.5 L350.4 679 L352.8 679.3 L355.3 679.4 L357.7 679.2 L360.1 678.7 L362.4 677.9 L364.6 677 L366.7 675.8 L368.6 674.4 L370.2 672.8 L371.7 671 L372.9 669.1 L373.8 667.1 L374.5 665 L374.9 662.8 L375 660.6 L374.8 658.4" fill="none" stroke="#2b2d4f" stroke-width="1.3" stroke-linecap="round"/><path d="M531.4 642.7 L533.8 643 L536.2 643.6 L538.5 644.4 L540.6 645.4 L542.6 646.7 L544.4 648.2 L546 649.9 L547.4 651.7 L548.5 653.6 L549.3 655.7 L549.9 657.8 L550.2 660 L550.2 662.2 L549.9 664.4 L549.3 666.5 L548.4 668.5 L547.3 670.5 L545.9 672.3 L544.2 673.9 L542.4 675.4 L540.4 676.7 L538.3 677.7 L536 678.5 L533.6 679 L531.2 679.3 L528.7 679.4 L526.3 679.2 L523.9 678.7 L521.6 677.9 L519.4 677 L517.3 675.8 L515.4 674.4 L513.8 672.8 L512.3 671 L511.1 669.1 L510.2 667.1 L509.5 665 L509.1 662.8 L509 660.6 L509.2 658.4" fill="none" stroke="#2b2d4f" stroke-width="1.3" stroke-linecap="round"/>
<path d="M415.8 598C415 598.2 412.2 598.6 411 599.5C409.8 600.4 408.6 601.8 408.6 603.5C408.6 605.2 408.8 608 411 609.5C413.2 611 416.8 612 422 612.8C427.2 613.6 435.3 614.4 442 614.4C448.7 614.4 456.8 613.6 462 612.8C467.2 612 470.8 611 473 609.5C475.2 608 475.4 605.2 475.4 603.5C475.4 601.8 474.2 600.4 473 599.5C471.8 598.6 469 598.2 468.2 598" fill="none" stroke="#2b2d4f" stroke-width="1.3" stroke-linecap="round"/>
<circle cx="442" cy="843.8" r="33.3" fill="#fff" fill-opacity="0.82"/>
<path d="M420.1 830.7 L441.8 818.5 L463.5 830.7 L441.8 842.8Z" fill="#fff"/>
<path d="M420.1 830.7 L441.8 842.8 L441.8 867.7 L420.1 855.6Z" fill="url(#gl)"/>
<path d="M441.8 842.8 L463.5 830.7 L463.5 855.6 L441.8 867.7Z" fill="url(#gr)"/>
<path d="M443.4 829.7C443.6 829.9 443.8 830 443.9 830.2C444 830.3 444.1 830.5 444.1 830.7C444.1 830.8 444 831 443.9 831.1C443.8 831.3 443.6 831.4 443.4 831.6C443.2 831.7 443 831.8 442.7 831.8C442.4 831.9 442.1 831.9 441.8 831.9C441.5 831.9 441.2 831.9 440.9 831.8C440.6 831.8 440.4 831.7 440.2 831.6C440 831.4 439.8 831.3 439.7 831.1C439.6 831 439.5 830.8 439.5 830.7C439.5 830.5 439.6 830.3 439.7 830.2C439.8 830 440 829.9 440.2 829.7C440.4 829.6 440.6 829.5 440.9 829.5C441.2 829.4 441.5 829.4 441.8 829.4C442.1 829.4 442.4 829.4 442.7 829.5C443 829.5 443.2 829.6 443.4 829.7Z" fill="#2b2d4f"/>
<path d="M427.4 840.9C427.4 841.2 427.3 841.5 427.2 841.7C427.1 841.9 427 842 426.8 842.1C426.7 842.2 426.4 842.3 426.2 842.3C426 842.2 425.8 842.2 425.5 842C425.3 841.9 425 841.7 424.8 841.5C424.6 841.3 424.4 841 424.2 840.7C424.1 840.4 423.9 840.1 423.8 839.8C423.7 839.5 423.7 839.2 423.7 838.9C423.7 838.6 423.7 838.3 423.8 838.2C423.9 838 424.1 837.8 424.2 837.7C424.4 837.6 424.6 837.5 424.8 837.6C425 837.6 425.3 837.7 425.5 837.8C425.8 837.9 426 838.1 426.2 838.4C426.4 838.6 426.7 838.9 426.8 839.1C427 839.4 427.1 839.8 427.2 840.1C427.3 840.4 427.4 840.7 427.4 840.9Z" fill="#2b2d4f"/>
<path d="M438.2 847C438.2 847.3 438.2 847.6 438.1 847.8C438 848 437.8 848.1 437.7 848.2C437.5 848.3 437.3 848.4 437.1 848.3C436.9 848.3 436.6 848.2 436.4 848.1C436.1 848 435.9 847.8 435.7 847.6C435.5 847.3 435.2 847 435.1 846.8C434.9 846.5 434.8 846.1 434.7 845.8C434.6 845.5 434.5 845.2 434.5 845C434.5 844.7 434.6 844.4 434.7 844.2C434.8 844 434.9 843.9 435.1 843.8C435.2 843.7 435.5 843.6 435.7 843.6C435.9 843.7 436.1 843.7 436.4 843.9C436.6 844 436.9 844.2 437.1 844.4C437.3 844.7 437.5 844.9 437.7 845.2C437.8 845.5 438 845.8 438.1 846.1C438.2 846.4 438.2 846.8 438.2 847Z" fill="#2b2d4f"/>
<path d="M432.8 850.2C432.8 850.5 432.7 850.7 432.7 850.9C432.6 851.1 432.4 851.3 432.3 851.4C432.1 851.5 431.9 851.5 431.7 851.5C431.4 851.5 431.2 851.4 431 851.3C430.7 851.2 430.5 851 430.2 850.7C430 850.5 429.8 850.2 429.6 849.9C429.5 849.7 429.3 849.3 429.2 849C429.2 848.7 429.1 848.4 429.1 848.1C429.1 847.9 429.2 847.6 429.2 847.4C429.3 847.2 429.5 847 429.6 847C429.8 846.9 430 846.8 430.2 846.8C430.5 846.8 430.7 846.9 431 847.1C431.2 847.2 431.4 847.4 431.7 847.6C431.9 847.8 432.1 848.1 432.3 848.4C432.4 848.7 432.6 849 432.7 849.3C432.7 849.6 432.8 849.9 432.8 850.2Z" fill="#2b2d4f"/>
<path d="M427.4 853.4C427.4 853.7 427.3 853.9 427.2 854.1C427.1 854.3 427 854.5 426.8 854.6C426.7 854.7 426.4 854.7 426.2 854.7C426 854.7 425.8 854.6 425.5 854.5C425.3 854.3 425 854.2 424.8 853.9C424.6 853.7 424.4 853.4 424.2 853.1C424.1 852.8 423.9 852.5 423.8 852.2C423.7 851.9 423.7 851.6 423.7 851.3C423.7 851.1 423.7 850.8 423.8 850.6C423.9 850.4 424.1 850.2 424.2 850.1C424.4 850 424.6 850 424.8 850C425 850 425.3 850.1 425.5 850.2C425.8 850.4 426 850.6 426.2 850.8C426.4 851 426.7 851.3 426.8 851.6C427 851.9 427.1 852.2 427.2 852.5C427.3 852.8 427.4 853.1 427.4 853.4Z" fill="#2b2d4f"/>
<path d="M438.2 859.5C438.2 859.7 438.2 860 438.1 860.2C438 860.4 437.8 860.6 437.7 860.7C437.5 860.8 437.3 860.8 437.1 860.8C436.9 860.8 436.6 860.7 436.4 860.6C436.1 860.4 435.9 860.2 435.7 860C435.5 859.8 435.2 859.5 435.1 859.2C434.9 858.9 434.8 858.6 434.7 858.3C434.6 858 434.5 857.7 434.5 857.4C434.5 857.1 434.6 856.9 434.7 856.7C434.8 856.5 434.9 856.3 435.1 856.2C435.2 856.1 435.5 856.1 435.7 856.1C435.9 856.1 436.1 856.2 436.4 856.3C436.6 856.5 436.9 856.7 437.1 856.9C437.3 857.1 437.5 857.4 437.7 857.7C437.8 858 438 858.3 438.1 858.6C438.2 858.9 438.2 859.2 438.2 859.5Z" fill="#2b2d4f"/>
<path d="M448.4 844.6C448.4 844.8 448.4 845.2 448.3 845.5C448.2 845.8 448 846.1 447.9 846.4C447.7 846.7 447.5 846.9 447.3 847.2C447.1 847.4 446.8 847.6 446.6 847.7C446.3 847.9 446.1 847.9 445.9 848C445.7 848 445.4 847.9 445.3 847.8C445.1 847.7 445 847.6 444.9 847.4C444.8 847.2 444.7 846.9 444.7 846.6C444.7 846.4 444.8 846.1 444.9 845.8C445 845.5 445.1 845.1 445.3 844.8C445.4 844.6 445.7 844.3 445.9 844C446.1 843.8 446.3 843.6 446.6 843.5C446.8 843.4 447.1 843.3 447.3 843.3C447.5 843.2 447.7 843.3 447.9 843.4C448 843.5 448.2 843.6 448.3 843.8C448.4 844 448.4 844.3 448.4 844.6Z" fill="#2b2d4f"/>
<path d="M454.5 848.1C454.5 848.4 454.4 848.7 454.4 849C454.3 849.3 454.1 849.7 454 849.9C453.8 850.2 453.6 850.5 453.4 850.7C453.1 851 452.9 851.2 452.6 851.3C452.4 851.4 452.2 851.5 451.9 851.5C451.7 851.5 451.5 851.5 451.3 851.4C451.2 851.3 451 851.1 450.9 850.9C450.9 850.7 450.8 850.5 450.8 850.2C450.8 849.9 450.9 849.6 450.9 849.3C451 849 451.2 848.7 451.3 848.4C451.5 848.1 451.7 847.8 451.9 847.6C452.2 847.4 452.4 847.2 452.6 847.1C452.9 846.9 453.1 846.8 453.4 846.8C453.6 846.8 453.8 846.9 454 847C454.1 847 454.3 847.2 454.4 847.4C454.4 847.6 454.5 847.9 454.5 848.1Z" fill="#2b2d4f"/>
<path d="M460.6 851.7C460.6 852 460.5 852.3 460.4 852.6C460.3 852.9 460.2 853.2 460 853.5C459.9 853.8 459.6 854.1 459.4 854.3C459.2 854.5 459 854.7 458.7 854.9C458.5 855 458.2 855.1 458 855.1C457.8 855.1 457.6 855.1 457.4 855C457.3 854.9 457.1 854.7 457 854.5C456.9 854.3 456.9 854.1 456.9 853.8C456.9 853.5 456.9 853.2 457 852.9C457.1 852.6 457.3 852.3 457.4 852C457.6 851.7 457.8 851.4 458 851.2C458.2 851 458.5 850.8 458.7 850.6C459 850.5 459.2 850.4 459.4 850.4C459.6 850.4 459.9 850.4 460 850.5C460.2 850.6 460.3 850.8 460.4 851C460.5 851.2 460.6 851.4 460.6 851.7Z" fill="#2b2d4f"/>
<path d="M420.1 830.7 L441.8 818.5 L463.5 830.7 L441.8 842.8Z M420.1 830.7 L441.8 842.8 L441.8 867.7 L420.1 855.6Z M441.8 842.8 L463.5 830.7 L463.5 855.6 L441.8 867.7Z" fill="none" stroke="#2b2d4f" stroke-width="1.3" stroke-linejoin="round"/>
<path d="M411.5 265.9 L441.7 249 L471.9 265.9 L441.7 282.8Z" fill="#fff"/>
<path d="M411.5 265.9 L441.7 282.8 L441.7 317.2 L411.5 300.3Z" fill="url(#gl)"/>
<path d="M441.7 282.8 L471.9 265.9 L471.9 300.3 L441.7 317.2Z" fill="url(#gr)"/>
<path d="M444 264.6C444.3 264.8 444.5 265 444.7 265.2C444.8 265.4 444.9 265.7 444.9 265.9C444.9 266.1 444.8 266.4 444.7 266.6C444.5 266.8 444.3 267 444 267.2C443.7 267.3 443.3 267.5 442.9 267.6C442.5 267.7 442.1 267.7 441.7 267.7C441.3 267.7 440.9 267.7 440.5 267.6C440.1 267.5 439.7 267.3 439.4 267.2C439.1 267 438.9 266.8 438.7 266.6C438.6 266.4 438.5 266.1 438.5 265.9C438.5 265.7 438.6 265.4 438.7 265.2C438.9 265 439.1 264.8 439.4 264.6C439.7 264.5 440.1 264.3 440.5 264.3C440.9 264.2 441.3 264.1 441.7 264.1C442.1 264.1 442.5 264.2 442.9 264.3C443.3 264.3 443.7 264.5 444 264.6Z" fill="#2b2d4f"/>
<path d="M421.6 280.2C421.6 280.6 421.5 280.9 421.4 281.2C421.3 281.5 421.1 281.7 420.9 281.8C420.6 282 420.3 282 420 282C419.7 282 419.4 281.8 419.1 281.7C418.7 281.5 418.4 281.2 418.1 280.9C417.8 280.6 417.5 280.2 417.2 279.8C417 279.4 416.8 278.9 416.7 278.5C416.6 278.1 416.5 277.7 416.5 277.3C416.5 276.9 416.6 276.6 416.7 276.3C416.8 276 417 275.8 417.2 275.7C417.5 275.5 417.8 275.5 418.1 275.5C418.4 275.5 418.7 275.6 419.1 275.8C419.4 276 419.7 276.3 420 276.6C420.3 276.9 420.6 277.3 420.9 277.7C421.1 278.1 421.3 278.5 421.4 278.9C421.5 279.4 421.6 279.8 421.6 280.2Z" fill="#2b2d4f"/>
<path d="M436.7 288.6C436.7 289 436.6 289.4 436.5 289.6C436.4 289.9 436.2 290.1 436 290.3C435.7 290.4 435.4 290.5 435.1 290.4C434.8 290.4 434.5 290.3 434.1 290.1C433.8 289.9 433.5 289.7 433.2 289.3C432.9 289 432.6 288.6 432.3 288.2C432.1 287.9 431.9 287.4 431.8 287C431.7 286.6 431.6 286.1 431.6 285.8C431.6 285.4 431.7 285 431.8 284.7C431.9 284.5 432.1 284.2 432.3 284.1C432.6 284 432.9 283.9 433.2 283.9C433.5 284 433.8 284.1 434.1 284.3C434.5 284.5 434.8 284.7 435.1 285C435.4 285.4 435.7 285.8 436 286.1C436.2 286.5 436.4 287 436.5 287.4C436.6 287.8 436.7 288.3 436.7 288.6Z" fill="#2b2d4f"/>
<path d="M429.2 293C429.2 293.4 429.1 293.7 429 294C428.8 294.3 428.6 294.5 428.4 294.7C428.2 294.8 427.9 294.8 427.6 294.8C427.3 294.8 426.9 294.7 426.6 294.5C426.3 294.3 425.9 294 425.6 293.7C425.3 293.4 425 293 424.8 292.6C424.6 292.2 424.4 291.8 424.2 291.4C424.1 290.9 424 290.5 424 290.1C424 289.8 424.1 289.4 424.2 289.1C424.4 288.8 424.6 288.6 424.8 288.5C425 288.3 425.3 288.3 425.6 288.3C425.9 288.3 426.3 288.5 426.6 288.6C426.9 288.8 427.3 289.1 427.6 289.4C427.9 289.7 428.2 290.1 428.4 290.5C428.6 290.9 428.8 291.4 429 291.8C429.1 292.2 429.2 292.6 429.2 293Z" fill="#2b2d4f"/>
<path d="M421.6 297.4C421.6 297.8 421.5 298.1 421.4 298.4C421.3 298.7 421.1 298.9 420.9 299C420.6 299.2 420.3 299.2 420 299.2C419.7 299.2 419.4 299 419.1 298.9C418.7 298.7 418.4 298.4 418.1 298.1C417.8 297.8 417.5 297.4 417.2 297C417 296.6 416.8 296.1 416.7 295.7C416.6 295.3 416.5 294.9 416.5 294.5C416.5 294.1 416.6 293.8 416.7 293.5C416.8 293.2 417 293 417.2 292.9C417.5 292.7 417.8 292.7 418.1 292.7C418.4 292.7 418.7 292.8 419.1 293C419.4 293.2 419.7 293.5 420 293.8C420.3 294.1 420.6 294.5 420.9 294.9C421.1 295.3 421.3 295.7 421.4 296.1C421.5 296.6 421.6 297 421.6 297.4Z" fill="#2b2d4f"/>
<path d="M436.7 305.8C436.7 306.2 436.6 306.6 436.5 306.8C436.4 307.1 436.2 307.3 436 307.5C435.7 307.6 435.4 307.7 435.1 307.6C434.8 307.6 434.5 307.5 434.1 307.3C433.8 307.1 433.5 306.9 433.2 306.5C432.9 306.2 432.6 305.8 432.3 305.4C432.1 305.1 431.9 304.6 431.8 304.2C431.7 303.8 431.6 303.3 431.6 303C431.6 302.6 431.7 302.2 431.8 301.9C431.9 301.7 432.1 301.4 432.3 301.3C432.6 301.2 432.9 301.1 433.2 301.1C433.5 301.2 433.8 301.3 434.1 301.5C434.5 301.7 434.8 301.9 435.1 302.2C435.4 302.6 435.7 303 436 303.3C436.2 303.7 436.4 304.2 436.5 304.6C436.6 305 436.7 305.5 436.7 305.8Z" fill="#2b2d4f"/>
<path d="M450.9 285.2C450.9 285.6 450.8 286 450.7 286.5C450.6 286.9 450.4 287.3 450.2 287.7C449.9 288.1 449.6 288.5 449.3 288.8C449 289.1 448.7 289.4 448.3 289.6C448 289.8 447.7 289.9 447.4 289.9C447.1 289.9 446.8 289.9 446.5 289.8C446.3 289.6 446.1 289.4 446 289.1C445.8 288.8 445.8 288.5 445.8 288.1C445.8 287.7 445.8 287.3 446 286.9C446.1 286.5 446.3 286 446.5 285.6C446.8 285.2 447.1 284.8 447.4 284.5C447.7 284.2 448 283.9 448.3 283.7C448.7 283.6 449 283.4 449.3 283.4C449.6 283.4 449.9 283.5 450.2 283.6C450.4 283.7 450.6 283.9 450.7 284.2C450.8 284.5 450.9 284.9 450.9 285.2Z" fill="#2b2d4f"/>
<path d="M459.4 290.1C459.4 290.5 459.3 290.9 459.2 291.4C459 291.8 458.8 292.2 458.6 292.6C458.4 293 458.1 293.4 457.8 293.7C457.5 294 457.1 294.3 456.8 294.5C456.5 294.7 456.1 294.8 455.8 294.8C455.5 294.8 455.2 294.8 455 294.7C454.8 294.5 454.6 294.3 454.4 294C454.3 293.7 454.2 293.4 454.2 293C454.2 292.6 454.3 292.2 454.4 291.8C454.6 291.4 454.8 290.9 455 290.5C455.2 290.1 455.5 289.7 455.8 289.4C456.1 289.1 456.5 288.8 456.8 288.6C457.1 288.5 457.5 288.3 457.8 288.3C458.1 288.3 458.4 288.3 458.6 288.5C458.8 288.6 459 288.8 459.2 289.1C459.3 289.4 459.4 289.8 459.4 290.1Z" fill="#2b2d4f"/>
<path d="M467.8 295C467.8 295.4 467.8 295.8 467.6 296.3C467.5 296.7 467.3 297.1 467.1 297.5C466.8 297.9 466.5 298.3 466.2 298.6C465.9 298.9 465.6 299.2 465.3 299.4C464.9 299.6 464.6 299.7 464.3 299.7C464 299.7 463.7 299.7 463.4 299.5C463.2 299.4 463 299.2 462.9 298.9C462.8 298.6 462.7 298.3 462.7 297.9C462.7 297.5 462.8 297.1 462.9 296.7C463 296.3 463.2 295.8 463.4 295.4C463.7 295 464 294.6 464.3 294.3C464.6 294 464.9 293.7 465.3 293.5C465.6 293.4 465.9 293.2 466.2 293.2C466.5 293.2 466.8 293.2 467.1 293.4C467.3 293.5 467.5 293.7 467.6 294C467.8 294.3 467.8 294.7 467.8 295Z" fill="#2b2d4f"/>
<path d="M411.5 265.9 L441.7 249 L471.9 265.9 L441.7 282.8Z M411.5 265.9 L441.7 282.8 L441.7 317.2 L411.5 300.3Z M441.7 282.8 L471.9 265.9 L471.9 300.3 L441.7 317.2Z" fill="none" stroke="#2b2d4f" stroke-width="1.5" stroke-linejoin="round"/>
<path d="M249.3 346.7 L269.1 333.7 L307.8 336.8 L288.5 349Z" fill="#fff"/>
<path d="M249.3 346.7 L288.5 349 L288.5 387.7 L249.3 385.2Z" fill="url(#gl)"/>
<path d="M288.5 349 L307.8 336.8 L307.8 375.5 L288.5 387.7Z" fill="url(#gr)"/>
<path d="M280.1 340.6C280.5 340.6 280.9 340.7 281.1 340.8C281.4 340.8 281.6 340.9 281.8 341C281.9 341.1 282 341.3 281.9 341.4C281.9 341.5 281.8 341.6 281.6 341.8C281.4 341.9 281.1 342 280.8 342.1C280.5 342.2 280.1 342.3 279.7 342.4C279.3 342.4 278.9 342.5 278.4 342.5C278 342.5 277.6 342.5 277.2 342.5C276.8 342.5 276.5 342.4 276.2 342.3C275.9 342.3 275.7 342.2 275.6 342.1C275.4 342 275.4 341.8 275.4 341.7C275.4 341.6 275.6 341.5 275.8 341.3C275.9 341.2 276.2 341.1 276.5 341C276.9 340.9 277.3 340.8 277.6 340.7C278 340.7 278.5 340.6 278.9 340.6C279.3 340.6 279.8 340.6 280.1 340.6Z" fill="#2b2d4f"/>
<path d="M262.4 357.1C262.4 357.5 262.3 358 262.2 358.4C262 358.7 261.8 359.1 261.5 359.4C261.2 359.6 260.8 359.9 260.4 360C260 360.2 259.5 360.2 259.1 360.2C258.7 360.2 258.2 360 257.8 359.9C257.4 359.7 257 359.4 256.7 359.1C256.4 358.8 256.2 358.4 256 358C255.9 357.6 255.8 357.1 255.8 356.7C255.8 356.3 255.9 355.9 256 355.5C256.2 355.1 256.4 354.7 256.7 354.5C257 354.2 257.4 353.9 257.8 353.8C258.2 353.7 258.7 353.6 259.1 353.6C259.5 353.7 260 353.8 260.4 354C260.8 354.1 261.2 354.4 261.5 354.7C261.8 355 262 355.4 262.2 355.8C262.3 356.2 262.4 356.7 262.4 357.1Z" fill="#2b2d4f"/>
<path d="M282 358.3C282 358.7 281.9 359.2 281.8 359.5C281.6 359.9 281.4 360.3 281.1 360.6C280.8 360.8 280.4 361.1 280 361.2C279.6 361.3 279.1 361.4 278.7 361.4C278.3 361.3 277.8 361.2 277.4 361C277 360.9 276.6 360.6 276.3 360.3C276 360 275.8 359.6 275.6 359.2C275.5 358.8 275.4 358.3 275.4 357.9C275.4 357.5 275.5 357 275.6 356.6C275.8 356.3 276 355.9 276.3 355.6C276.6 355.3 277 355.1 277.4 355C277.8 354.8 278.3 354.8 278.7 354.8C279.1 354.8 279.6 354.9 280 355.1C280.4 355.3 280.8 355.6 281.1 355.9C281.4 356.2 281.6 356.6 281.8 357C281.9 357.4 282 357.9 282 358.3Z" fill="#2b2d4f"/>
<path d="M272.2 367.4C272.2 367.8 272.1 368.2 272 368.6C271.8 369 271.6 369.3 271.3 369.6C271 369.9 270.6 370.1 270.2 370.3C269.8 370.4 269.3 370.5 268.9 370.4C268.5 370.4 268 370.3 267.6 370.1C267.2 369.9 266.8 369.6 266.5 369.3C266.2 369 266 368.6 265.8 368.2C265.7 367.8 265.6 367.4 265.6 366.9C265.6 366.5 265.7 366.1 265.8 365.7C266 365.3 266.2 365 266.5 364.7C266.8 364.4 267.2 364.2 267.6 364C268 363.9 268.5 363.8 268.9 363.9C269.3 363.9 269.8 364 270.2 364.2C270.6 364.4 271 364.7 271.3 365C271.6 365.3 271.8 365.7 272 366.1C272.1 366.5 272.2 366.9 272.2 367.4Z" fill="#2b2d4f"/>
<path d="M262.4 376.4C262.4 376.8 262.3 377.3 262.2 377.6C262 378 261.8 378.4 261.5 378.7C261.2 378.9 260.8 379.2 260.4 379.3C260 379.4 259.5 379.5 259.1 379.5C258.7 379.4 258.2 379.3 257.8 379.1C257.4 378.9 257 378.7 256.7 378.4C256.4 378 256.2 377.6 256 377.2C255.9 376.9 255.8 376.4 255.8 376C255.8 375.6 255.9 375.1 256 374.7C256.2 374.4 256.4 374 256.7 373.7C257 373.4 257.4 373.2 257.8 373.1C258.2 372.9 258.7 372.9 259.1 372.9C259.5 372.9 260 373.1 260.4 373.2C260.8 373.4 261.2 373.7 261.5 374C261.8 374.3 262 374.7 262.2 375.1C262.3 375.5 262.4 376 262.4 376.4Z" fill="#2b2d4f"/>
<path d="M282 377.6C282 378 281.9 378.5 281.8 378.9C281.6 379.2 281.4 379.6 281.1 379.9C280.8 380.2 280.4 380.4 280 380.5C279.6 380.7 279.1 380.7 278.7 380.7C278.3 380.7 277.8 380.6 277.4 380.4C277 380.2 276.6 379.9 276.3 379.6C276 379.3 275.8 378.9 275.6 378.5C275.5 378.1 275.4 377.6 275.4 377.2C275.4 376.8 275.5 376.3 275.6 376C275.8 375.6 276 375.2 276.3 374.9C276.6 374.7 277 374.4 277.4 374.3C277.8 374.2 278.3 374.1 278.7 374.1C279.1 374.2 279.6 374.3 280 374.5C280.4 374.6 280.8 374.9 281.1 375.2C281.4 375.6 281.6 375.9 281.8 376.3C281.9 376.7 282 377.2 282 377.6Z" fill="#2b2d4f"/>
<path d="M294.4 353.8C294.4 354.2 294.3 354.7 294.3 355.1C294.2 355.6 294.1 356 293.9 356.4C293.8 356.8 293.6 357.2 293.4 357.5C293.2 357.8 293 358 292.7 358.1C292.5 358.3 292.3 358.3 292.1 358.3C291.9 358.2 291.7 358.1 291.6 357.9C291.4 357.7 291.3 357.4 291.2 357C291.2 356.7 291.1 356.3 291.1 355.9C291.1 355.4 291.2 355 291.2 354.5C291.3 354.1 291.4 353.6 291.6 353.2C291.7 352.8 291.9 352.5 292.1 352.2C292.3 351.9 292.5 351.7 292.7 351.5C293 351.4 293.2 351.4 293.4 351.4C293.6 351.4 293.8 351.6 293.9 351.8C294.1 352 294.2 352.3 294.3 352.6C294.3 353 294.4 353.4 294.4 353.8Z" fill="#2b2d4f"/>
<path d="M299.8 361.2C299.8 361.6 299.7 362.1 299.7 362.6C299.6 363 299.5 363.5 299.3 363.8C299.2 364.2 299 364.6 298.8 364.9C298.6 365.2 298.4 365.4 298.1 365.5C297.9 365.7 297.7 365.7 297.5 365.7C297.3 365.6 297.1 365.5 297 365.3C296.8 365.1 296.7 364.8 296.6 364.5C296.6 364.1 296.5 363.7 296.5 363.3C296.5 362.9 296.6 362.4 296.6 361.9C296.7 361.5 296.8 361 297 360.7C297.1 360.3 297.3 359.9 297.5 359.6C297.7 359.3 297.9 359.1 298.1 359C298.4 358.8 298.6 358.8 298.8 358.8C299 358.9 299.2 359 299.3 359.2C299.5 359.4 299.6 359.7 299.7 360C299.7 360.4 299.8 360.8 299.8 361.2Z" fill="#2b2d4f"/>
<path d="M305.2 368.6C305.2 369.1 305.1 369.5 305.1 370C305 370.4 304.9 370.9 304.7 371.3C304.6 371.7 304.4 372 304.2 372.3C304 372.6 303.8 372.8 303.6 373C303.3 373.1 303.1 373.1 302.9 373.1C302.7 373.1 302.5 372.9 302.4 372.7C302.2 372.5 302.1 372.2 302 371.9C302 371.5 301.9 371.1 301.9 370.7C301.9 370.3 302 369.8 302 369.4C302.1 368.9 302.2 368.5 302.4 368.1C302.5 367.7 302.7 367.3 302.9 367C303.1 366.7 303.3 366.5 303.6 366.4C303.8 366.2 304 366.2 304.2 366.2C304.4 366.3 304.6 366.4 304.7 366.6C304.9 366.8 305 367.1 305.1 367.5C305.1 367.8 305.2 368.2 305.2 368.6Z" fill="#2b2d4f"/>
<path d="M249.3 346.7 L269.1 333.7 L307.8 336.8 L288.5 349Z M249.3 346.7 L288.5 349 L288.5 387.7 L249.3 385.2Z M288.5 349 L307.8 336.8 L307.8 375.5 L288.5 387.7Z" fill="none" stroke="#2b2d4f" stroke-width="1.5" stroke-linejoin="round"/>
<path d="M575.3 334.3 L615 331.2 L634.3 344.1 L595.1 346.7Z" fill="#fff"/>
<path d="M575.3 334.3 L595.1 346.7 L595.1 385.2 L575.3 373Z" fill="url(#gl)"/>
<path d="M595.1 346.7 L634.3 344.1 L634.3 382.6 L595.1 385.2Z" fill="url(#gr)"/>
<path d="M607.9 338.9C608.1 339 608.2 339.1 608.2 339.2C608.2 339.4 608.2 339.5 608.1 339.6C607.9 339.7 607.7 339.8 607.4 339.9C607.1 339.9 606.8 340 606.4 340C606 340.1 605.6 340.1 605.1 340C604.7 340 604.3 340 603.9 339.9C603.5 339.8 603.1 339.7 602.8 339.6C602.4 339.5 602.2 339.4 602 339.3C601.8 339.2 601.7 339 601.6 338.9C601.6 338.8 601.7 338.7 601.8 338.6C601.9 338.5 602.2 338.4 602.4 338.3C602.7 338.2 603.1 338.2 603.5 338.1C603.8 338.1 604.3 338.1 604.7 338.1C605.1 338.1 605.6 338.2 606 338.3C606.4 338.3 606.8 338.4 607.1 338.5C607.4 338.6 607.7 338.7 607.9 338.9Z" fill="#2b2d4f"/>
<path d="M581.9 348.1C581.9 348.5 581.9 349 581.8 349.3C581.7 349.6 581.6 349.9 581.4 350.1C581.3 350.3 581.1 350.5 580.9 350.5C580.7 350.5 580.5 350.5 580.2 350.3C580 350.2 579.8 350 579.6 349.7C579.4 349.4 579.2 349 579.1 348.6C578.9 348.3 578.8 347.8 578.7 347.4C578.6 346.9 578.6 346.4 578.6 346C578.6 345.6 578.6 345.2 578.7 344.8C578.8 344.5 578.9 344.2 579.1 344C579.2 343.8 579.4 343.7 579.6 343.6C579.8 343.6 580 343.6 580.2 343.8C580.5 343.9 580.7 344.1 580.9 344.4C581.1 344.7 581.3 345.1 581.4 345.5C581.6 345.9 581.7 346.3 581.8 346.8C581.9 347.2 581.9 347.7 581.9 348.1Z" fill="#2b2d4f"/>
<path d="M591.8 354.3C591.8 354.7 591.8 355.1 591.7 355.5C591.6 355.8 591.5 356.1 591.3 356.3C591.2 356.5 591 356.6 590.8 356.7C590.6 356.7 590.4 356.6 590.1 356.5C589.9 356.4 589.7 356.1 589.5 355.9C589.3 355.6 589.1 355.2 589 354.8C588.8 354.4 588.7 354 588.6 353.5C588.5 353.1 588.5 352.6 588.5 352.2C588.5 351.8 588.5 351.3 588.6 351C588.7 350.7 588.8 350.4 589 350.2C589.1 350 589.3 349.8 589.5 349.8C589.7 349.8 589.9 349.8 590.1 350C590.4 350.1 590.6 350.3 590.8 350.6C591 350.9 591.2 351.3 591.3 351.7C591.5 352.1 591.6 352.5 591.7 353C591.8 353.4 591.8 353.9 591.8 354.3Z" fill="#2b2d4f"/>
<path d="M586.9 360.8C586.9 361.3 586.8 361.7 586.8 362C586.7 362.4 586.5 362.7 586.4 362.9C586.2 363.1 586 363.2 585.8 363.2C585.6 363.3 585.4 363.2 585.2 363.1C585 362.9 584.8 362.7 584.6 362.4C584.4 362.1 584.2 361.8 584 361.4C583.9 361 583.7 360.5 583.6 360.1C583.6 359.7 583.5 359.2 583.5 358.8C583.5 358.3 583.6 357.9 583.6 357.6C583.7 357.2 583.9 356.9 584 356.7C584.2 356.5 584.4 356.4 584.6 356.4C584.8 356.3 585 356.4 585.2 356.5C585.4 356.7 585.6 356.9 585.8 357.2C586 357.5 586.2 357.8 586.4 358.2C586.5 358.6 586.7 359.1 586.8 359.5C586.8 359.9 586.9 360.4 586.9 360.8Z" fill="#2b2d4f"/>
<path d="M581.9 367.4C581.9 367.8 581.9 368.3 581.8 368.6C581.7 368.9 581.6 369.2 581.4 369.4C581.3 369.6 581.1 369.8 580.9 369.8C580.7 369.9 580.5 369.8 580.2 369.7C580 369.5 579.8 369.3 579.6 369C579.4 368.7 579.2 368.4 579.1 368C578.9 367.6 578.8 367.1 578.7 366.7C578.6 366.2 578.6 365.8 578.6 365.3C578.6 364.9 578.6 364.5 578.7 364.2C578.8 363.8 578.9 363.5 579.1 363.3C579.2 363.1 579.4 363 579.6 363C579.8 362.9 580 363 580.2 363.1C580.5 363.2 580.7 363.5 580.9 363.8C581.1 364 581.3 364.4 581.4 364.8C581.6 365.2 581.7 365.7 581.8 366.1C581.9 366.5 581.9 367 581.9 367.4Z" fill="#2b2d4f"/>
<path d="M591.8 373.6C591.8 374 591.8 374.4 591.7 374.7C591.6 375.1 591.5 375.4 591.3 375.6C591.2 375.8 591 375.9 590.8 375.9C590.6 376 590.4 375.9 590.1 375.8C589.9 375.7 589.7 375.4 589.5 375.1C589.3 374.9 589.1 374.5 589 374.1C588.8 373.7 588.7 373.2 588.6 372.8C588.5 372.4 588.5 371.9 588.5 371.5C588.5 371.1 588.5 370.6 588.6 370.3C588.7 370 588.8 369.7 589 369.5C589.1 369.3 589.3 369.1 589.5 369.1C589.7 369 589.9 369.1 590.1 369.2C590.4 369.4 590.6 369.6 590.8 369.9C591 370.2 591.2 370.5 591.3 370.9C591.5 371.3 591.6 371.8 591.7 372.2C591.8 372.7 591.8 373.1 591.8 373.6Z" fill="#2b2d4f"/>
<path d="M607.1 354.4C607.1 354.8 607 355.2 606.8 355.6C606.6 356 606.4 356.4 606.1 356.8C605.8 357.1 605.4 357.4 605 357.5C604.6 357.7 604.1 357.8 603.7 357.9C603.3 357.9 602.8 357.8 602.4 357.7C602.1 357.6 601.7 357.3 601.4 357.1C601.1 356.8 600.8 356.4 600.6 356.1C600.5 355.7 600.4 355.2 600.4 354.8C600.4 354.4 600.5 353.9 600.6 353.5C600.8 353.2 601.1 352.8 601.4 352.4C601.7 352.1 602.1 351.8 602.4 351.7C602.8 351.5 603.3 351.4 603.7 351.3C604.1 351.3 604.6 351.4 605 351.5C605.4 351.6 605.8 351.9 606.1 352.1C606.4 352.4 606.6 352.8 606.8 353.1C607 353.5 607.1 354 607.1 354.4Z" fill="#2b2d4f"/>
<path d="M618 364.4C618 364.8 617.9 365.3 617.8 365.7C617.6 366.1 617.4 366.5 617.1 366.8C616.8 367.1 616.4 367.4 616 367.6C615.6 367.8 615.1 367.9 614.7 367.9C614.3 368 613.8 367.9 613.4 367.8C613 367.6 612.6 367.4 612.3 367.1C612 366.8 611.8 366.5 611.6 366.1C611.5 365.7 611.4 365.3 611.4 364.9C611.4 364.5 611.5 364 611.6 363.6C611.8 363.2 612 362.8 612.3 362.5C612.6 362.2 613 361.9 613.4 361.7C613.8 361.5 614.3 361.4 614.7 361.4C615.1 361.3 615.6 361.4 616 361.5C616.4 361.7 616.8 361.9 617.1 362.2C617.4 362.5 617.6 362.8 617.8 363.2C617.9 363.6 618 364 618 364.4Z" fill="#2b2d4f"/>
<path d="M629 374.5C629 374.9 628.9 375.4 628.8 375.8C628.6 376.1 628.3 376.5 628 376.9C627.7 377.2 627.3 377.5 627 377.6C626.6 377.8 626.1 377.9 625.7 378C625.3 378 624.8 377.9 624.4 377.8C624 377.7 623.6 377.4 623.3 377.2C623 376.9 622.8 376.5 622.6 376.2C622.4 375.8 622.3 375.3 622.3 374.9C622.3 374.5 622.4 374.1 622.6 373.7C622.8 373.3 623 372.9 623.3 372.5C623.6 372.2 624 371.9 624.4 371.8C624.8 371.6 625.3 371.5 625.7 371.4C626.1 371.4 626.6 371.5 627 371.6C627.3 371.7 627.7 372 628 372.2C628.3 372.5 628.6 372.9 628.8 373.2C628.9 373.6 629 374.1 629 374.5Z" fill="#2b2d4f"/>
<path d="M575.3 334.3 L615 331.2 L634.3 344.1 L595.1 346.7Z M575.3 334.3 L595.1 346.7 L595.1 385.2 L575.3 373Z M595.1 346.7 L634.3 344.1 L634.3 382.6 L595.1 385.2Z" fill="none" stroke="#2b2d4f" stroke-width="1.5" stroke-linejoin="round"/>
<g font-family='"Liberation Sans",sans-serif' font-weight="bold" font-size="21" text-anchor="middle" fill="#fff" fill-opacity="0.16" stroke="#000" stroke-opacity="0.022" stroke-width="1.6" paint-order="stroke">
<text transform="translate(35 25) rotate(-42)" y="7">Adobe Stock</text>
<text transform="translate(107 122) rotate(-42)" y="7">Adobe Stock</text>
<text transform="translate(235 165) rotate(-42)" y="7">Adobe Stock</text>
<text transform="translate(75 325) rotate(-42)" y="7">Adobe Stock</text>
<text transform="translate(280 290) rotate(-42)" y="7">Adobe Stock</text>
<text transform="translate(400 340) rotate(-42)" y="7">Adobe Stock</text>
<text transform="translate(125 445) rotate(-42)" y="7">Adobe Stock</text>
<text transform="translate(270 480) rotate(-42)" y="7">Adobe Stock</text>
<text transform="translate(380 20) rotate(-42)" y="7">Adobe Stock</text>
<text transform="translate(567 175) rotate(-42)" y="7">Adobe Stock</text>
<text transform="translate(707 45) rotate(-42)" y="7">Adobe Stock</text>
<text transform="translate(777 140) rotate(-42)" y="7">Adobe Stock</text>
<text transform="translate(612 310) rotate(-42)" y="7">Adobe Stock</text>
<text transform="translate(742 345) rotate(-42)" y="7">Adobe Stock</text>
<text transform="translate(472 435) rotate(-42)" y="7">Adobe Stock</text>
<text transform="translate(607 480) rotate(-42)" y="7">Adobe Stock</text>
<text transform="translate(792 445) rotate(-42)" y="7">Adobe Stock</text>
<text transform="translate(867 215) rotate(-42)" y="7">Adobe Stock</text>
<text transform="translate(160 600) rotate(-42)" y="7">Adobe Stock</text>
<text transform="translate(300 640) rotate(-42)" y="7">Adobe Stock</text>
<text transform="translate(60 760) rotate(-42)" y="7">Adobe Stock</text>
<text transform="translate(190 800) rotate(-42)" y="7">Adobe Stock</text>
<text transform="translate(330 840) rotate(-42)" y="7">Adobe Stock</text>
<text transform="translate(470 690) rotate(-42)" y="7">Adobe Stock</text>
<text transform="translate(560 560) rotate(-42)" y="7">Adobe Stock</text>
<text transform="translate(620 760) rotate(-42)" y="7">Adobe Stock</text>
<text transform="translate(760 620) rotate(-42)" y="7">Adobe Stock</text>
<text transform="translate(800 820) rotate(-42)" y="7">Adobe Stock</text>
<text transform="translate(470 960) rotate(-42)" y="7">Adobe Stock</text>
<text transform="translate(140 960) rotate(-42)" y="7">Adobe Stock</text>
<text transform="translate(680 940) rotate(-42)" y="7">Adobe Stock</text>
<text transform="translate(855 560) rotate(-42)" y="7">Adobe Stock</text>
<text transform="translate(420 520) rotate(-42)" y="7">Adobe Stock</text>
</g>
<path d="M234 538.3 H241.6 L384.5 582 M234 608.4 H241.6 L334.5 648 M234 657.8 H242.6 L280 674.8 M234.8 783 H242.6 L442 699 V680 M234.8 908.3 H242.6 L398.5 872.5 M650.2 538.3 H642.4 L498.5 581 M650.2 573.6 H642.4 L476 603.5 M650.2 608.6 H642.4 L551 650 M650.2 657.8 H641.7 L604.4 674.8 M650.2 783 H642.4 L448.5 737.5 M650.2 908.3 H642.4 L485 871.5 M442 869.6 V920.5" stroke="#2b2d4f" stroke-width="1.4" fill="none" stroke-linecap="round" stroke-linejoin="round"/>
<g font-family='"DejaVu Serif Condensed","DejaVu Serif","Liberation Serif",serif' font-weight="bold" fill="#2b2d4f" stroke="#2b2d4f" stroke-linejoin="round">
<text x="442.2" y="88.8" text-anchor="middle" font-size="41.5" textLength="443.5" lengthAdjust="spacingAndGlyphs" stroke-width="1.6">BINOCULAR VISION</text>
<text x="442" y="141" text-anchor="middle" font-size="13.6" textLength="186.5" lengthAdjust="spacingAndGlyphs" stroke-width="0.75">BINOCULAR FIELD OF VIEW</text>
<text x="172" y="317.8" text-anchor="end" font-size="13.6" textLength="104.5" lengthAdjust="spacingAndGlyphs" stroke-width="0.75">LEFT EYE VIEW</text>
<text x="709.7" y="317.8" text-anchor="start" font-size="13.6" textLength="114" lengthAdjust="spacingAndGlyphs" stroke-width="0.75">RIGHT EYE VIEW</text>
<text x="226.2" y="543.4" text-anchor="end" font-size="13.6" textLength="129.7" lengthAdjust="spacingAndGlyphs" stroke-width="0.75">LEFT OPTIC NERVE</text>
<text x="226.2" y="613" text-anchor="end" font-size="13.6" textLength="129.7" lengthAdjust="spacingAndGlyphs" stroke-width="0.75">LEFT OPTIC TRACT</text>
<text x="226.2" y="660.2" text-anchor="end" font-size="13.6" textLength="129.7" lengthAdjust="spacingAndGlyphs" stroke-width="0.75">LEFT HEMISPHERE</text>
<text x="226.2" y="677" text-anchor="end" font-size="13.6" textLength="65.2" lengthAdjust="spacingAndGlyphs" stroke-width="0.75">OF BRAIN</text>
<text x="226.2" y="788.5" text-anchor="end" font-size="13.6" textLength="134.7" lengthAdjust="spacingAndGlyphs" stroke-width="0.75">SUPRACHIASMATIC</text>
<text x="226.2" y="805.5" text-anchor="end" font-size="13.6" textLength="85.2" lengthAdjust="spacingAndGlyphs" stroke-width="0.75">NUCLEUS OF</text>
<text x="226.2" y="822" text-anchor="end" font-size="13.6" textLength="118.5" lengthAdjust="spacingAndGlyphs" stroke-width="0.75">HYPOTHALAMUS</text>
<text x="226.2" y="913.7" text-anchor="end" font-size="13.6" textLength="43.5" lengthAdjust="spacingAndGlyphs" stroke-width="0.75">RIGHT</text>
<text x="226.2" y="930.7" text-anchor="end" font-size="13.6" textLength="108.7" lengthAdjust="spacingAndGlyphs" stroke-width="0.75">VISUAL CORTEX</text>
<text x="656.3" y="543.4" text-anchor="start" font-size="13.6" textLength="139.1" lengthAdjust="spacingAndGlyphs" stroke-width="0.75">RIGHT OPTIC NERVE</text>
<text x="656.3" y="579.4" text-anchor="start" font-size="13.6" textLength="101.1" lengthAdjust="spacingAndGlyphs" stroke-width="0.75">OPTIC CHIASM</text>
<text x="656.3" y="613" text-anchor="start" font-size="13.6" textLength="139.1" lengthAdjust="spacingAndGlyphs" stroke-width="0.75">RIGHT OPTIC TRACT</text>
<text x="656.3" y="660.2" text-anchor="start" font-size="13.6" textLength="139.1" lengthAdjust="spacingAndGlyphs" stroke-width="0.75">RIGHT HEMISPHERE</text>
<text x="656.3" y="677" text-anchor="start" font-size="13.6" textLength="64.4" lengthAdjust="spacingAndGlyphs" stroke-width="0.75">OF BRAIN</text>
<text x="656.3" y="788.5" text-anchor="start" font-size="13.6" textLength="61.8" lengthAdjust="spacingAndGlyphs" stroke-width="0.75">LATERAL</text>
<text x="656.3" y="805.5" text-anchor="start" font-size="13.6" textLength="86.9" lengthAdjust="spacingAndGlyphs" stroke-width="0.75">GENICULATE</text>
<text x="656.3" y="822" text-anchor="start" font-size="13.6" textLength="64.4" lengthAdjust="spacingAndGlyphs" stroke-width="0.75">NUCLEUS</text>
<text x="656.3" y="839.4" text-anchor="start" font-size="13.6" textLength="100.4" lengthAdjust="spacingAndGlyphs" stroke-width="0.75">OF THALAMUS</text>
<text x="656.3" y="913.7" text-anchor="start" font-size="13.6" textLength="34.6" lengthAdjust="spacingAndGlyphs" stroke-width="0.75">LEFT</text>
<text x="656.3" y="930.7" text-anchor="start" font-size="13.6" textLength="109.3" lengthAdjust="spacingAndGlyphs" stroke-width="0.75">VISUAL CORTEX</text>
<text x="442" y="939.1" text-anchor="middle" font-size="13.6" textLength="210.4" lengthAdjust="spacingAndGlyphs" stroke-width="0.75">SINGLE 3 DIMENSIONAL IMAGE</text>
<text x="442" y="955.6" text-anchor="middle" font-size="13.6" textLength="176.4" lengthAdjust="spacingAndGlyphs" stroke-width="0.75">PERCEIVED BY THE BRAIN</text>
</g>
<text transform="translate(28.9 984) rotate(-90)" font-family='"Liberation Sans",sans-serif' font-size="18.5" fill="#3a3a3a" stroke="#3a3a3a" stroke-width="0.55" textLength="222" lengthAdjust="spacingAndGlyphs">Adobe Stock | #477306543</text>
</svg>
</body></html>
